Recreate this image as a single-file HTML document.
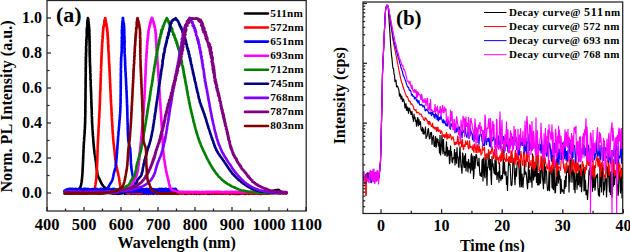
<!DOCTYPE html><html><head><meta charset="utf-8"><style>html,body{margin:0;padding:0;background:#fff;width:630px;height:252px;overflow:hidden}</style></head><body><svg width="630" height="252" viewBox="0 0 630 252" style="position:absolute;left:0;top:0">
<rect width="630" height="252" fill="#fff"/>
<defs><clipPath id="ca"><rect x="47" y="0" width="259" height="211"/></clipPath><clipPath id="cb"><rect x="363" y="2" width="260" height="211"/></clipPath></defs>
<g clip-path="url(#ca)" fill="none" stroke-width="2.4" stroke-linejoin="round">
<path d="M64.00 193.03L64.60 193.75L65.20 193.66L65.80 193.16L66.40 193.40L67.00 193.35L67.60 193.55L68.20 193.69L68.80 192.99L69.40 192.93L70.00 193.74L70.60 193.33L71.20 193.66L71.80 192.90L72.40 193.35L73.00 193.62L73.60 193.13L74.07 191.56L75.04 191.03L76.18 190.77L77.15 190.26L78.02 189.83L78.69 189.49L79.22 189.06L79.47 188.66L79.77 188.27L79.93 187.95L80.21 187.52L80.33 187.17L80.58 186.64L80.64 186.33L80.81 185.97L80.87 185.55L81.00 185.07L81.08 184.76L81.20 184.30L81.24 183.83L81.26 183.54L81.36 183.05L81.44 182.73L81.53 182.28L81.55 181.90L81.66 181.50L81.66 181.10L81.66 180.63L81.82 180.37L81.85 179.88L81.83 179.50L82.00 179.14L81.98 178.75L81.97 178.30L82.12 177.91L82.08 177.47L82.13 177.17L82.09 176.74L82.24 176.36L82.26 175.95L82.26 175.51L82.28 175.03L82.38 174.71L82.31 174.30L82.38 173.88L82.39 173.51L82.46 173.12L82.46 172.63L82.45 172.25L82.53 171.95L82.59 171.54L82.61 171.06L82.64 170.73L82.55 170.23L82.56 169.94L82.62 169.44L82.70 169.08L82.64 168.65L82.73 168.25L82.71 167.93L82.75 167.47L82.78 167.03L82.78 166.69L82.77 166.24L82.90 165.90L82.81 165.52L82.92 165.03L82.82 164.65L82.94 164.25L82.96 163.93L82.95 163.46L83.04 163.15L82.98 162.66L83.02 162.28L83.03 161.87L83.05 161.43L83.02 161.17L83.13 160.67L83.14 160.27L83.17 159.94L83.11 159.46L83.06 159.16L83.09 158.75L83.24 158.31L83.14 157.96L83.28 157.53L83.22 157.08L83.21 156.65L83.28 156.29L83.22 155.84L83.31 155.47L83.30 155.07L83.37 154.76L83.25 154.25L83.31 153.98L83.40 153.48L83.33 153.13L83.44 152.77L83.38 152.36L83.45 151.90L83.51 151.46L83.49 151.04L83.42 150.76L83.44 150.34L83.52 149.95L83.50 149.47L83.51 149.16L83.58 148.77L83.64 148.24L83.61 147.84L83.55 147.43L83.71 147.15L83.72 146.67L83.71 146.34L83.70 145.91L83.70 145.43L83.73 145.16L83.80 144.77L83.81 144.26L83.88 143.95L83.79 143.53L83.82 143.04L83.98 142.63L83.90 142.38L83.96 141.84L83.94 141.46L84.06 141.04L84.12 140.68L84.15 140.37L84.07 139.86L84.13 139.43L84.19 139.02L84.11 138.78L84.18 138.32L84.24 137.87L84.20 137.57L84.38 137.18L84.26 136.65L84.37 136.38L84.39 135.93L84.44 135.46L84.45 135.07L84.42 134.63L84.46 134.38L84.51 133.93L84.57 133.57L84.56 133.07L84.57 132.67L84.68 132.37L84.62 131.87L84.69 131.51L84.72 131.06L84.65 130.66L84.68 130.31L84.70 129.83L84.82 129.46L84.87 129.10L84.91 128.64L84.87 128.35L84.82 127.98L84.86 127.55L85.02 127.16L84.92 126.63L84.98 126.37L84.96 125.97L84.95 125.57L84.95 125.07L85.12 124.75L85.14 124.36L85.13 123.93L85.04 123.49L85.05 123.14L85.16 122.66L85.06 122.38L85.21 121.91L85.17 121.56L85.17 121.08L85.16 120.66L85.11 120.33L85.19 119.91L85.13 119.47L85.15 119.03L85.18 118.76L85.21 118.28L85.26 117.85L85.15 117.51L85.25 117.13L85.25 116.73L85.31 116.25L85.27 115.90L85.22 115.48L85.29 115.18L85.37 114.66L85.32 114.21L85.22 113.90L85.38 113.43L85.36 113.17L85.28 112.74L85.39 112.28L85.36 111.95L85.34 111.57L85.41 111.19L85.35 110.64L85.29 110.24L85.36 109.95L85.26 109.54L85.40 109.07L85.36 108.63L85.41 108.21L85.46 107.96L85.40 107.45L85.46 107.19L85.31 106.76L85.45 106.33L85.43 105.89L85.48 105.60L85.37 105.16L85.39 104.63L85.37 104.22L85.50 104.00L85.34 103.52L85.40 103.02L85.38 102.65L85.49 102.19L85.37 101.89L85.34 101.53L85.47 101.17L85.39 100.65L85.46 100.25L85.48 99.85L85.50 99.56L85.53 99.20L85.48 98.70L85.55 98.36L85.49 97.87L85.43 97.41L85.56 97.01L85.55 96.71L85.60 96.36L85.61 95.82L85.50 95.52L85.46 95.10L85.48 94.71L85.40 94.29L85.51 93.85L85.50 93.57L85.57 93.10L85.56 92.67L85.46 92.18L85.48 91.92L85.63 91.58L85.55 91.22L85.54 90.78L85.53 90.36L85.67 89.85L85.48 89.53L85.57 89.07L85.44 88.67L85.55 88.28L85.66 87.92L85.64 87.60L85.64 87.10L85.65 86.74L85.63 86.33L85.57 85.93L85.63 85.61L85.67 85.19L85.67 84.78L85.63 84.26L85.55 83.95L85.71 83.51L85.53 83.19L85.62 82.69L85.50 82.30L85.69 81.88L85.59 81.54L85.51 81.10L85.76 80.75L85.62 80.35L85.68 79.82L85.57 79.61L85.59 78.98L85.75 78.71L85.63 78.30L85.73 77.81L85.71 77.56L85.76 77.04L85.71 76.62L85.70 76.21L85.77 76.00L85.64 75.42L85.83 75.16L85.80 74.56L85.82 74.34L85.65 73.88L85.79 73.58L85.63 73.14L85.62 72.84L85.71 72.42L85.80 71.93L85.66 71.51L85.63 70.99L85.81 70.66L85.83 70.22L85.82 69.97L85.70 69.38L85.73 69.10L85.65 68.60L85.64 68.33L85.90 67.81L85.64 67.56L85.89 67.25L85.83 66.65L85.91 66.18L85.87 65.77L85.78 65.50L85.78 64.99L85.74 64.80L85.82 64.33L85.74 63.97L85.79 63.53L85.99 63.27L85.70 62.80L85.98 62.24L85.83 61.93L86.02 61.47L86.01 61.19L85.77 60.84L85.73 60.18L85.96 59.75L85.87 59.37L85.90 59.22L86.07 58.54L85.77 58.42L85.77 57.82L85.81 57.35L85.78 57.15L86.05 56.77L86.10 56.36L85.94 55.95L86.16 55.55L85.90 54.94L86.17 54.73L85.96 54.34L86.05 53.91L85.87 53.44L86.01 52.99L86.20 52.67L86.13 52.38L86.17 51.99L86.18 51.40L86.28 50.96L86.27 50.84L86.25 50.12L85.96 50.02L86.12 49.45L86.34 48.92L86.17 48.68L86.02 48.26L86.27 48.06L86.00 47.51L86.04 47.22L86.05 46.51L86.18 46.40L86.17 45.75L86.38 45.63L86.42 45.02L86.25 44.59L86.32 44.23L86.24 44.02L86.52 43.54L86.17 43.17L86.33 42.91L86.46 42.45L86.47 41.92L86.57 41.65L86.32 40.95L86.37 40.71L86.26 40.23L86.49 39.69L86.62 39.57L86.40 39.01L86.44 38.62L86.64 38.30L86.55 37.74L86.75 37.42L86.49 36.90L86.81 36.69L86.80 36.50L86.85 36.05L86.84 35.70L86.80 34.92L86.69 34.74L86.93 34.44L86.81 34.02L86.66 33.72L86.82 33.05L86.75 32.94L86.80 32.13L86.63 31.99L86.86 31.70L86.69 31.05L86.98 30.47L86.68 30.32L86.78 29.70L86.80 29.57L86.96 28.88L86.75 28.88L87.07 28.13L87.22 27.65L86.98 27.68L87.19 26.98L87.32 26.75L87.34 26.51L87.13 26.00L87.23 25.74L87.40 25.22L87.44 24.97L87.17 24.13L87.48 24.05L87.38 23.49L87.36 23.32L87.61 22.75L87.22 22.50L87.50 21.72L87.44 21.61L87.31 20.88L87.52 20.92L87.82 20.57L87.74 19.94L87.78 19.52L87.82 19.29L88.10 18.65L87.95 18.19L87.90 18.00L87.84 18.40L88.06 18.83L88.34 19.00L88.20 19.89L88.31 20.04L88.15 20.34L88.53 21.03L88.43 21.43L88.63 21.80L88.37 21.98L88.65 22.33L88.68 22.79L88.50 23.18L88.42 23.52L88.64 23.73L88.55 24.27L88.97 24.85L88.71 25.47L88.73 25.61L89.04 26.10L88.91 26.55L88.97 26.92L89.01 27.45L89.17 27.38L88.89 28.25L88.97 28.15L89.01 28.79L89.40 29.15L89.30 29.77L88.99 30.06L89.47 30.43L89.25 30.72L89.47 31.44L89.06 31.63L89.24 32.09L89.10 32.28L89.20 32.79L89.47 33.38L89.48 33.69L89.15 33.95L89.44 34.30L89.38 35.00L89.20 35.37L89.21 35.55L89.60 35.86L89.43 36.36L89.61 37.03L89.34 37.20L89.64 37.62L89.33 38.12L89.40 38.39L89.26 39.02L89.56 39.39L89.71 39.49L89.53 39.97L89.63 40.55L89.40 40.70L89.62 41.16L89.38 41.47L89.58 42.04L89.76 42.41L89.61 42.65L89.53 43.10L89.66 43.50L89.46 43.94L89.58 44.33L89.65 44.66L89.77 45.28L89.63 45.41L89.55 46.08L89.69 46.53L89.80 46.72L89.64 47.13L89.50 47.45L89.56 47.83L89.68 48.48L89.69 48.87L89.57 49.08L89.71 49.75L89.66 49.80L89.51 50.32L89.75 50.64L89.60 51.27L89.90 51.54L89.76 52.01L89.55 52.33L89.60 52.70L89.85 53.27L89.58 53.44L89.85 53.85L89.70 54.31L89.61 54.63L89.65 55.16L89.95 55.65L89.71 56.07L89.73 56.41L89.76 56.96L89.78 57.31L89.89 57.72L89.89 58.13L89.82 58.46L89.91 58.81L89.90 59.21L89.85 59.74L89.95 60.02L89.76 60.40L89.81 60.70L89.91 61.22L89.86 61.52L89.97 61.99L89.94 62.27L89.94 62.85L90.01 63.21L90.12 63.67L90.08 63.84L89.97 64.46L89.93 64.94L89.94 65.32L89.97 65.71L90.19 65.95L90.22 66.29L90.22 66.76L90.10 67.08L90.16 67.53L90.20 68.09L90.19 68.25L90.31 68.93L90.23 69.16L90.22 69.72L90.20 70.09L90.25 70.38L90.37 70.77L90.28 71.07L90.26 71.46L90.34 71.85L90.16 72.28L90.20 72.80L90.28 73.13L90.48 73.72L90.40 74.09L90.46 74.33L90.47 74.72L90.41 75.16L90.31 75.68L90.54 75.95L90.54 76.36L90.50 76.94L90.54 77.08L90.46 77.57L90.44 78.09L90.49 78.46L90.56 78.81L90.42 79.25L90.66 79.51L90.61 80.00L90.54 80.46L90.73 80.67L90.72 81.17L90.72 81.51L90.70 81.89L90.62 82.52L90.72 82.87L90.68 83.19L90.70 83.67L90.78 83.92L90.72 84.41L90.77 84.91L90.85 85.11L90.75 85.50L90.68 85.89L90.73 86.47L90.87 86.87L90.79 87.11L90.98 87.68L90.98 87.88L90.86 88.43L90.96 88.90L90.93 89.17L90.81 89.67L91.07 90.10L91.00 90.36L90.92 90.87L91.10 91.31L90.93 91.62L91.03 91.98L91.11 92.50L91.11 92.85L91.12 93.24L91.09 93.54L91.17 93.91L91.15 94.37L91.15 94.83L91.14 95.31L91.10 95.49L91.28 95.96L91.14 96.38L91.23 96.91L91.27 97.16L91.24 97.59L91.25 97.98L91.19 98.38L91.26 98.73L91.36 99.17L91.23 99.61L91.40 100.06L91.36 100.45L91.32 100.72L91.31 101.17L91.33 101.59L91.32 101.92L91.36 102.34L91.49 102.81L91.37 103.19L91.53 103.62L91.48 103.98L91.42 104.43L91.41 104.86L91.42 105.25L91.50 105.64L91.55 105.92L91.55 106.31L91.51 106.78L91.53 107.23L91.68 107.57L91.66 107.94L91.65 108.37L91.63 108.72L91.70 109.14L91.64 109.56L91.72 110.02L91.69 110.45L91.63 110.71L91.76 111.16L91.77 111.69L91.74 111.92L91.80 112.43L91.69 112.74L91.75 113.13L91.84 113.64L91.84 113.98L91.87 114.33L91.85 114.75L91.72 115.13L91.77 115.65L91.82 116.00L91.88 116.36L91.90 116.83L91.97 117.20L91.97 117.69L91.97 117.99L91.89 118.33L92.01 118.73L91.98 119.19L91.90 119.55L92.06 120.01L92.10 120.47L91.96 120.83L91.97 121.19L92.06 121.68L92.11 121.94L92.11 122.40L92.08 122.77L92.22 123.29L92.22 123.52L92.26 123.99L92.27 124.34L92.17 124.87L92.22 125.12L92.28 125.69L92.36 125.98L92.41 126.45L92.41 126.83L92.35 127.27L92.39 127.68L92.43 128.07L92.44 128.39L92.48 128.77L92.43 129.22L92.58 129.56L92.60 130.05L92.61 130.39L92.68 130.85L92.63 131.13L92.66 131.52L92.74 131.97L92.68 132.41L92.75 132.81L92.75 133.22L92.84 133.59L92.81 134.05L92.76 134.34L92.84 134.75L92.96 135.14L92.86 135.57L92.96 136.05L93.07 136.46L93.04 136.72L92.98 137.22L93.13 137.56L93.19 138.01L93.16 138.42L93.11 138.75L93.28 139.16L93.18 139.56L93.31 139.96L93.26 140.36L93.34 140.84L93.35 141.26L93.49 141.65L93.38 141.97L93.55 142.46L93.46 142.79L93.53 143.24L93.51 143.57L93.66 144.06L93.59 144.41L93.72 144.86L93.72 145.28L93.72 145.54L93.75 146.01L93.79 146.36L93.84 146.73L94.00 147.17L94.03 147.64L93.96 148.07L93.96 148.48L94.01 148.76L94.13 149.12L94.20 149.53L94.25 149.93L94.25 150.35L94.25 150.80L94.31 151.18L94.40 151.55L94.38 152.03L94.45 152.47L94.52 152.80L94.51 153.13L94.58 153.62L94.73 154.07L94.75 154.43L94.79 154.73L94.87 155.23L94.99 155.67L95.05 156.01L95.07 156.40L95.12 156.83L95.19 157.25L95.24 157.60L95.35 158.03L95.37 158.41L95.47 158.82L95.45 159.17L95.56 159.53L95.59 160.06L95.62 160.39L95.74 160.87L95.79 161.22L95.80 161.59L95.89 161.98L95.96 162.33L96.00 162.84L95.98 163.13L96.04 163.61L96.15 164.06L96.11 164.34L96.14 164.87L96.27 165.14L96.32 165.67L96.36 165.96L96.46 166.43L96.39 166.84L96.49 167.21L96.52 167.57L96.58 168.00L96.63 168.46L96.63 168.75L96.81 169.22L96.82 169.62L96.82 169.98L96.88 170.35L97.06 170.84L97.11 171.12L97.15 171.57L97.19 172.03L97.19 172.38L97.34 172.86L97.41 173.17L97.51 173.61L97.54 174.01L97.63 174.33L97.72 174.74L97.85 175.20L98.02 175.64L98.13 176.07L98.21 176.38L98.36 176.74L98.58 177.20L98.70 177.66L99.01 177.94L99.06 178.33L99.36 178.85L99.45 179.13L99.72 179.57L99.83 179.93L100.04 180.35L100.23 180.81L100.41 181.16L100.59 181.66L100.78 182.01L101.00 182.37L101.19 182.73L101.36 183.22L101.67 183.56L101.81 184.06L102.04 184.44L102.42 184.75L102.69 185.15L102.88 185.57L103.25 186.01L103.62 186.44L104.04 186.74L104.39 187.24L104.82 187.67L105.40 187.96L105.83 188.36L106.42 188.76L107.00 189.16L107.75 189.58L108.57 190.06L109.45 190.42L110.38 190.78L111.26 191.16L112.60 193.73L113.20 193.78L113.80 193.81L114.40 193.50L115.00 193.01L115.60 192.97L116.20 193.70L116.80 193.79L117.40 193.43L118.00 193.82L118.60 193.83L119.20 193.65L119.80 193.27L120.40 193.36L121.00 193.25L121.60 193.30L122.20 193.37L122.80 192.92L123.40 193.03L124.00 193.07L124.60 193.47L125.20 193.77L125.80 193.61L126.40 193.05L127.00 193.36L127.60 193.53L128.20 193.04L128.80 192.98L129.40 193.51L130.00 193.14L130.60 193.55L131.20 193.07L131.80 193.76L132.40 193.21L133.00 193.33L133.60 193.45L134.20 193.79L134.80 193.82L135.40 193.74L136.00 193.58L136.60 192.97L137.20 193.09L137.80 193.43L138.40 193.89L139.00 193.63L139.60 193.09L140.20 193.26L140.80 193.86L141.40 193.41L142.00 193.77L142.60 193.76L143.20 193.68L143.80 193.53L144.40 193.57L145.00 193.24L145.60 193.02L146.20 193.85L146.80 192.93L147.40 193.17L148.00 193.51L148.60 193.86L149.20 193.11L149.80 193.15L150.40 193.75L151.00 193.23L151.60 193.30L152.20 193.26L152.80 192.95L153.40 193.84L154.00 193.60L154.60 192.91L155.20 193.00L155.80 193.04L156.40 193.27L157.00 193.79L157.60 193.04L158.20 193.13L158.80 193.21L159.40 193.41L160.00 193.80L160.60 193.44L161.20 193.80L161.80 193.44L162.40 193.33L163.00 193.77L163.60 193.48L164.20 193.37L164.80 193.41L165.40 193.26L166.00 193.33L166.60 192.97L167.20 193.11L167.80 193.66L168.40 193.03L169.00 193.11L169.60 193.06L170.20 193.26L170.80 192.95L171.40 193.26L172.00 193.51L172.60 193.58L173.20 193.77L173.80 192.99L174.40 193.54L175.00 193.10L175.60 193.24L176.20 193.48L176.80 193.74L177.40 193.57L178.00 193.89L178.60 192.92L179.20 193.22L179.80 193.38L180.40 192.94L181.00 192.95L181.60 193.27L182.20 193.46L182.80 193.04L183.40 192.97L184.00 193.22L184.60 193.64L185.20 193.47L185.80 193.90L186.40 193.51L187.00 193.79L187.60 193.47L188.20 193.38L188.80 193.32L189.40 192.97L190.00 192.96L190.60 193.56L191.20 193.76L191.80 192.92L192.40 193.08L193.00 193.23L193.60 193.21L194.20 193.73L194.80 193.15L195.40 193.21L196.00 193.39L196.60 193.85L197.20 193.19L197.80 193.53L198.40 192.95L199.00 193.33L199.60 193.83L200.20 193.12L200.80 193.26L201.40 193.55L202.00 193.47L202.60 193.48L203.20 193.51L203.80 193.58L204.40 193.22L205.00 193.25L205.60 193.30L206.20 193.42L206.80 193.47L207.40 193.77L208.00 193.30L208.60 193.35L209.20 193.73L209.80 193.87L210.40 193.14L211.00 193.63L211.60 193.15L212.20 193.64L212.80 192.94L213.40 193.41L214.00 193.47L214.60 193.60L215.20 193.82L215.80 193.70L216.40 193.46L217.00 193.40L217.60 192.91L218.20 193.45L218.80 193.46L219.40 193.64L220.00 193.07L220.60 193.49L221.20 192.95L221.80 193.63L222.40 193.72L223.00 193.34L223.60 193.59L224.20 193.56L224.80 193.20L225.40 192.99L226.00 193.66L226.60 193.26L227.20 193.06L227.80 193.34L228.40 193.73L229.00 193.85L229.60 193.47L230.20 193.87L230.80 193.07L231.40 193.39L232.00 192.91L232.60 193.13L233.20 193.78L233.80 192.96L234.40 193.55L235.00 193.41L235.60 193.89L236.20 193.89L236.80 193.02L237.40 193.16L238.00 193.89L238.60 193.23L239.20 193.08L239.80 193.81L240.40 193.52L241.00 193.21L241.60 193.45L242.20 193.33L242.80 193.36L243.40 193.45L244.00 193.07L244.60 193.52L245.20 193.86L245.80 193.49L246.40 193.69L247.00 193.18L247.60 193.05L248.20 192.91L248.80 193.88L249.40 193.02L250.00 193.28L250.60 193.55L251.20 193.63L251.80 193.52L252.40 193.34L253.00 193.71L253.60 193.34L254.20 193.74L254.80 192.95L255.40 193.62L256.00 193.00L256.60 193.29L257.20 193.34L257.80 193.08L258.40 193.35L259.00 193.75L259.60 192.94L260.20 193.09L260.80 193.88L261.40 193.35L262.00 193.29L262.60 193.81L263.20 193.67L263.80 193.07L264.40 193.49L265.00 193.07L265.60 193.66L266.20 193.42L266.80 193.64L267.40 192.88L268.00 193.69L268.60 192.92L269.20 193.44L269.80 192.90L270.40 193.18L271.00 192.17L271.60 191.86L272.20 191.98L272.80 192.10L273.40 191.28L274.00 190.97L274.60 190.28L275.20 190.37L275.80 190.02L276.40 190.34L277.00 190.14L277.60 189.93L278.20 189.74L278.80 189.97L279.40 191.09L280.00 191.07L280.60 191.04L281.20 191.98L281.80 191.72L282.40 192.26L283.00 192.95L283.60 192.39L284.20 192.56L284.80 192.65L285.40 192.84L286.00 193.14L286.60 193.13L287.20 193.13" stroke="#000000" stroke-width="2.6"/>
<path d="M64.00 192.71L64.60 193.09L65.20 193.06L65.80 193.29L66.40 192.94L67.00 193.16L67.60 192.95L68.20 193.30L68.80 192.84L69.40 193.09L70.00 193.06L70.60 193.07L71.20 193.13L71.80 193.13L72.40 192.95L73.00 193.36L73.60 193.46L74.20 193.15L74.80 193.21L75.40 193.28L76.00 192.96L76.60 193.17L77.20 193.07L77.80 193.09L78.40 193.02L79.00 193.13L79.60 192.87L80.20 192.89L80.80 192.86L81.40 193.18L82.00 192.90L82.60 193.32L83.20 193.42L83.80 193.31L84.40 192.96L85.00 193.45L85.60 192.98L86.20 192.99L86.80 193.18L87.40 193.23L88.00 193.03L88.60 193.33L89.20 193.38L89.80 192.93L90.40 192.88L91.00 193.02L91.60 193.26L92.03 191.45L92.84 191.16L93.73 190.72L94.31 190.35L94.49 189.83L94.68 189.48L94.79 189.07L94.83 188.75L94.85 188.29L94.91 187.91L95.05 187.57L95.09 187.05L95.09 186.71L95.18 186.33L95.29 185.97L95.24 185.45L95.42 185.05L95.49 184.64L95.50 184.24L95.50 183.88L95.66 183.53L95.66 183.05L95.73 182.65L95.77 182.30L95.87 181.96L95.87 181.50L95.99 181.05L96.01 180.65L96.13 180.28L96.04 179.90L96.15 179.56L96.21 179.06L96.28 178.63L96.28 178.23L96.33 177.85L96.36 177.55L96.39 177.04L96.37 176.64L96.45 176.37L96.45 175.92L96.50 175.45L96.49 175.08L96.57 174.69L96.54 174.31L96.55 173.83L96.58 173.43L96.67 173.09L96.69 172.71L96.63 172.35L96.77 171.83L96.74 171.54L96.76 171.15L96.82 170.72L96.88 170.34L96.85 169.83L96.86 169.53L96.89 169.11L96.88 168.75L96.89 168.32L96.94 167.85L96.90 167.44L96.96 167.10L96.94 166.63L97.07 166.37L97.04 165.90L97.08 165.44L97.09 165.13L97.17 164.72L97.13 164.29L97.20 163.90L97.15 163.54L97.17 163.03L97.21 162.76L97.19 162.24L97.16 161.96L97.18 161.52L97.19 161.10L97.34 160.66L97.26 160.32L97.32 159.91L97.30 159.43L97.35 159.07L97.37 158.69L97.32 158.38L97.34 157.97L97.38 157.51L97.36 157.05L97.44 156.69L97.43 156.25L97.43 155.92L97.48 155.53L97.44 155.13L97.48 154.70L97.49 154.27L97.42 153.85L97.57 153.56L97.56 153.06L97.57 152.75L97.53 152.27L97.48 151.98L97.63 151.55L97.55 151.14L97.64 150.71L97.53 150.37L97.61 149.94L97.64 149.43L97.63 149.02L97.61 148.77L97.69 148.31L97.62 147.93L97.71 147.52L97.74 147.17L97.72 146.72L97.75 146.31L97.79 145.85L97.70 145.44L97.72 145.11L97.78 144.75L97.77 144.24L97.90 143.83L97.84 143.53L97.89 143.06L97.84 142.71L97.87 142.36L97.89 141.97L97.87 141.52L97.93 141.10L97.98 140.75L97.96 140.34L97.95 139.92L98.10 139.49L98.12 139.08L98.06 138.77L98.18 138.35L98.08 137.97L98.12 137.56L98.13 137.05L98.14 136.73L98.28 136.30L98.16 135.93L98.31 135.55L98.18 135.07L98.33 134.73L98.39 134.37L98.38 133.93L98.33 133.42L98.41 133.09L98.45 132.64L98.47 132.32L98.50 131.93L98.44 131.50L98.41 131.06L98.51 130.65L98.49 130.32L98.55 129.97L98.55 129.51L98.57 129.14L98.62 128.78L98.56 128.24L98.61 127.92L98.69 127.45L98.65 127.12L98.67 126.76L98.66 126.35L98.69 125.94L98.83 125.58L98.87 125.02L98.85 124.77L98.89 124.29L98.91 123.86L98.94 123.48L98.99 123.02L98.94 122.63L99.00 122.38L98.97 121.96L98.94 121.41L99.07 121.08L98.96 120.73L99.13 120.22L99.10 119.87L99.02 119.42L99.04 119.06L99.11 118.71L99.19 118.36L99.25 117.84L99.23 117.57L99.18 117.12L99.34 116.73L99.31 116.26L99.38 115.96L99.28 115.46L99.24 115.10L99.42 114.75L99.30 114.25L99.33 113.85L99.35 113.44L99.44 113.18L99.52 112.72L99.43 112.38L99.43 111.81L99.45 111.56L99.57 111.06L99.49 110.73L99.57 110.36L99.57 109.82L99.52 109.45L99.63 109.14L99.65 108.60L99.75 108.29L99.68 107.84L99.64 107.44L99.73 107.18L99.68 106.67L99.70 106.20L99.66 105.96L99.88 105.41L99.71 105.09L99.77 104.65L99.91 104.24L99.78 103.99L99.89 103.54L99.91 103.00L99.99 102.60L99.85 102.29L100.00 102.00L99.83 101.42L99.85 101.02L100.06 100.61L99.99 100.23L99.89 99.85L99.96 99.51L100.11 99.11L100.05 98.65L99.99 98.30L100.05 97.99L100.02 97.39L100.00 97.06L100.05 96.68L100.21 96.35L100.16 95.98L100.24 95.40L100.21 95.02L100.16 94.67L100.14 94.19L100.14 93.95L100.33 93.60L100.12 93.12L100.18 92.70L100.27 92.22L100.18 91.90L100.18 91.58L100.40 90.98L100.39 90.78L100.22 90.32L100.34 89.82L100.43 89.52L100.44 89.21L100.49 88.74L100.48 88.19L100.37 87.89L100.42 87.47L100.51 87.12L100.53 86.69L100.57 86.26L100.59 85.92L100.45 85.53L100.39 85.15L100.53 84.78L100.41 84.28L100.55 83.79L100.61 83.60L100.59 83.17L100.69 82.69L100.59 82.40L100.64 81.84L100.63 81.57L100.71 81.00L100.54 80.75L100.70 80.36L100.66 79.87L100.80 79.43L100.63 78.97L100.58 78.73L100.76 78.22L100.79 77.81L100.70 77.54L100.83 77.09L100.85 76.69L100.82 76.39L100.81 75.92L100.93 75.37L100.68 74.97L100.78 74.71L100.88 74.35L100.72 74.01L100.79 73.64L100.84 73.20L100.96 72.56L100.92 72.27L101.07 71.82L100.91 71.40L100.81 71.11L101.01 70.60L101.09 70.22L101.13 69.95L101.16 69.48L101.13 69.13L101.11 68.67L101.06 68.23L101.02 68.03L100.95 67.60L101.18 66.99L101.10 66.81L101.14 66.30L101.15 65.79L101.32 65.58L101.11 65.05L101.27 64.82L101.23 64.23L101.18 63.91L101.38 63.57L101.17 62.94L101.33 62.62L101.43 62.19L101.48 62.00L101.25 61.33L101.46 60.97L101.25 60.66L101.27 60.16L101.42 59.95L101.52 59.35L101.28 59.09L101.54 58.60L101.51 58.16L101.64 58.03L101.67 57.46L101.38 57.21L101.53 56.65L101.54 56.38L101.67 55.88L101.52 55.37L101.46 55.27L101.81 54.54L101.69 54.48L101.70 54.08L101.56 53.58L101.84 52.95L101.62 52.87L101.65 52.34L101.93 51.98L101.89 51.42L101.94 50.96L101.79 50.70L101.92 50.12L101.69 49.85L101.75 49.66L101.88 49.14L101.89 48.84L102.11 48.46L101.79 47.95L102.10 47.67L102.03 47.09L101.89 46.50L101.85 46.21L102.16 45.86L102.11 45.40L102.31 45.28L102.03 44.65L101.99 44.26L102.07 44.00L102.12 43.58L102.02 43.19L102.31 42.61L102.39 42.46L102.47 41.99L102.29 41.54L102.46 41.02L102.54 40.83L102.48 40.42L102.22 40.04L102.42 39.58L102.54 39.07L102.61 38.86L102.76 38.08L102.75 38.03L102.63 37.62L102.54 37.06L102.43 36.90L102.82 36.31L102.75 36.05L102.57 35.53L102.87 35.14L103.02 34.58L102.91 34.44L102.80 34.11L102.85 33.33L102.76 33.05L103.20 32.91L103.19 32.38L103.03 31.97L103.12 31.73L103.04 31.05L103.25 30.85L103.29 30.13L103.28 29.78L103.13 29.37L103.04 28.90L103.43 28.85L103.18 28.53L103.42 28.05L103.25 27.28L103.71 26.88L103.36 26.78L103.42 26.25L103.90 25.69L103.98 25.72L104.12 25.16L104.10 24.51L104.03 24.51L104.27 23.72L104.32 23.44L104.22 23.27L104.38 22.60L104.56 22.54L104.61 21.64L104.23 21.54L104.36 20.86L104.88 20.44L104.62 20.19L105.08 20.16L105.07 19.48L104.76 19.37L104.90 18.78L105.31 18.31L105.20 18.00L105.51 18.66L105.28 18.92L105.20 19.16L105.62 19.47L105.52 20.15L105.51 20.65L105.55 20.64L105.90 21.04L106.10 21.52L105.77 22.10L106.02 22.47L105.92 22.55L106.09 23.21L106.11 23.44L106.54 23.86L106.34 24.61L106.77 24.95L106.36 25.34L106.40 25.76L106.57 25.85L106.71 26.21L106.90 26.97L106.96 27.36L106.74 27.48L107.15 27.91L107.16 28.44L106.89 28.65L107.34 29.41L107.21 29.35L106.95 30.22L107.39 30.50L107.15 31.01L107.09 31.30L107.44 31.53L107.54 31.84L107.65 32.62L107.37 32.72L107.63 33.12L107.56 33.69L107.76 34.12L107.47 34.33L107.40 34.95L107.80 35.07L107.66 35.53L107.60 35.78L107.77 36.61L107.60 36.92L107.91 37.22L107.97 37.56L107.89 37.80L107.70 38.44L108.05 38.79L108.11 39.20L107.90 39.73L108.16 40.18L108.06 40.27L107.93 40.83L107.83 41.11L108.19 41.49L108.15 41.91L107.95 42.33L108.05 42.70L108.07 43.38L108.21 43.60L108.10 43.91L108.35 44.33L108.09 44.75L108.33 45.39L108.42 45.60L108.17 46.16L108.13 46.43L108.54 46.72L108.37 47.12L108.35 47.44L108.45 48.08L108.27 48.20L108.34 48.74L108.44 49.28L108.49 49.41L108.31 49.98L108.39 50.52L108.64 50.92L108.61 51.09L108.69 51.52L108.47 51.82L108.58 52.57L108.71 52.86L108.61 53.18L108.83 53.79L108.63 54.03L108.71 54.29L108.74 54.65L108.86 55.16L108.83 55.70L108.70 56.16L108.99 56.39L108.68 56.85L108.92 57.10L108.97 57.52L108.81 57.85L108.96 58.49L109.00 58.73L108.89 59.04L108.87 59.51L108.90 59.84L108.99 60.23L109.04 60.63L109.02 61.06L108.97 61.67L108.96 62.10L109.19 62.45L109.16 62.87L109.08 63.17L109.03 63.44L109.18 64.04L109.39 64.51L109.11 64.94L109.24 65.17L109.18 65.47L109.30 66.01L109.45 66.45L109.26 66.83L109.48 67.12L109.33 67.52L109.56 67.89L109.48 68.36L109.52 68.80L109.39 69.31L109.50 69.45L109.43 69.90L109.48 70.30L109.60 70.83L109.54 71.13L109.63 71.56L109.69 72.11L109.69 72.53L109.59 72.90L109.64 73.31L109.72 73.54L109.64 74.10L109.72 74.30L109.77 74.70L109.63 75.13L109.86 75.52L109.90 75.87L109.77 76.26L109.89 76.83L109.93 77.29L109.99 77.58L109.86 78.03L109.91 78.32L109.91 78.77L110.05 79.09L110.03 79.66L110.10 80.02L110.06 80.30L110.12 80.68L110.07 81.10L109.99 81.65L110.05 82.05L110.02 82.29L110.07 82.80L110.21 83.30L110.12 83.72L110.19 83.92L110.19 84.45L110.27 84.70L110.35 85.21L110.12 85.55L110.35 85.89L110.23 86.44L110.21 86.85L110.34 87.14L110.41 87.49L110.28 88.07L110.40 88.33L110.37 88.89L110.33 89.09L110.43 89.53L110.49 89.94L110.39 90.43L110.60 90.81L110.62 91.32L110.59 91.62L110.51 91.90L110.57 92.32L110.60 92.78L110.62 93.22L110.64 93.70L110.65 93.91L110.75 94.46L110.65 94.79L110.71 95.18L110.76 95.71L110.64 96.09L110.87 96.48L110.77 96.84L110.79 97.17L110.74 97.53L110.83 97.95L110.79 98.42L110.83 98.87L110.81 99.14L110.90 99.54L111.01 100.00L110.86 100.34L111.02 100.76L110.96 101.14L110.92 101.66L111.00 101.95L110.98 102.40L111.13 102.89L111.19 103.10L111.12 103.60L111.16 103.98L111.26 104.42L111.18 104.90L111.21 105.10L111.26 105.70L111.29 105.94L111.34 106.31L111.37 106.73L111.39 107.13L111.27 107.55L111.36 108.04L111.38 108.31L111.49 108.87L111.40 109.11L111.43 109.69L111.55 109.93L111.43 110.49L111.47 110.84L111.61 111.26L111.61 111.62L111.63 111.95L111.67 112.34L111.54 112.85L111.73 113.25L111.68 113.52L111.68 113.94L111.70 114.38L111.65 114.81L111.79 115.24L111.69 115.68L111.86 115.97L111.89 116.34L111.80 116.86L111.76 117.18L111.77 117.55L111.86 118.06L111.93 118.33L111.98 118.85L111.91 119.14L112.01 119.68L111.94 119.97L111.98 120.49L111.95 120.71L112.00 121.19L112.16 121.52L112.15 122.00L112.19 122.48L112.18 122.76L112.24 123.11L112.28 123.58L112.17 124.07L112.24 124.38L112.22 124.79L112.24 125.20L112.29 125.56L112.24 125.94L112.40 126.44L112.45 126.74L112.47 127.27L112.40 127.68L112.53 128.06L112.48 128.46L112.44 128.74L112.46 129.23L112.63 129.55L112.51 130.07L112.67 130.34L112.55 130.76L112.61 131.12L112.62 131.66L112.63 131.99L112.77 132.44L112.73 132.74L112.78 133.18L112.81 133.57L112.84 134.08L112.79 134.35L112.96 134.80L112.98 135.13L113.04 135.52L113.04 135.96L113.05 136.45L113.09 136.88L113.03 137.26L113.13 137.55L113.09 137.93L113.24 138.37L113.18 138.74L113.28 139.21L113.22 139.65L113.31 140.05L113.37 140.39L113.35 140.86L113.36 141.14L113.50 141.63L113.55 142.02L113.61 142.39L113.50 142.83L113.57 143.18L113.64 143.57L113.71 144.02L113.68 144.46L113.77 144.84L113.82 145.14L113.87 145.56L113.91 146.03L114.02 146.35L114.07 146.82L114.03 147.21L114.06 147.63L114.14 148.01L114.29 148.43L114.28 148.81L114.27 149.20L114.29 149.60L114.47 150.00L114.48 150.46L114.49 150.74L114.60 151.20L114.55 151.53L114.63 152.05L114.64 152.35L114.70 152.75L114.68 153.16L114.75 153.62L114.79 153.95L114.77 154.36L114.85 154.87L114.91 155.26L114.86 155.53L114.97 155.96L114.98 156.44L114.98 156.86L115.07 157.21L115.05 157.53L115.19 157.93L115.23 158.37L115.22 158.87L115.36 159.17L115.33 159.57L115.34 160.07L115.48 160.43L115.50 160.76L115.59 161.16L115.69 161.67L115.76 161.96L115.72 162.46L115.82 162.81L115.92 163.16L115.96 163.54L115.96 164.07L116.14 164.42L116.14 164.77L116.33 165.27L116.37 165.66L116.41 166.05L116.54 166.36L116.65 166.73L116.64 167.20L116.83 167.58L116.79 168.03L116.96 168.34L117.05 168.78L117.10 169.27L117.25 169.67L117.32 169.98L117.36 170.35L117.40 170.80L117.51 171.21L117.61 171.60L117.80 171.99L117.90 172.37L117.87 172.83L118.00 173.23L118.11 173.59L118.17 173.96L118.35 174.36L118.36 174.86L118.50 175.27L118.56 175.57L118.68 175.93L118.77 176.39L118.82 176.86L118.88 177.25L119.00 177.60L119.09 177.96L119.06 178.43L119.23 178.79L119.19 179.19L119.29 179.54L119.35 180.02L119.45 180.44L119.49 180.82L119.55 181.17L119.59 181.64L119.66 182.03L119.77 182.41L119.81 182.83L119.78 183.24L119.89 183.65L119.88 183.93L120.02 184.37L120.13 184.77L120.12 185.18L120.20 185.56L120.34 185.97L120.42 186.47L120.43 186.85L120.61 187.13L120.74 187.58L120.78 188.05L120.91 188.33L121.22 188.73L121.41 189.21L121.65 189.65L122.05 189.93L122.65 190.45L123.67 190.74L124.99 191.13L126.60 193.01L127.20 193.10L127.80 192.87L128.40 193.17L129.00 193.36L129.60 193.08L130.20 193.13L130.80 192.85L131.40 192.71L132.00 193.08L132.60 192.90L133.20 193.21L133.80 192.78L134.40 193.06L135.00 193.11L135.60 193.33L136.20 192.74L136.80 193.41L137.40 192.82L138.00 193.43L138.60 193.35L139.20 193.41L139.80 193.44L140.40 192.77L141.00 192.99L141.60 193.17L142.20 192.96L142.80 193.23L143.40 193.40L144.00 192.86L144.60 192.95L145.20 193.40L145.80 192.96L146.40 192.77L147.00 193.30L147.60 192.93L148.20 193.17L148.80 192.75L149.40 193.15L150.00 193.35L150.60 193.06L151.20 192.99L151.80 193.32L152.40 193.12L153.00 193.08L153.60 192.84L154.20 193.24L154.80 193.36L155.40 192.70L156.00 192.95L156.60 193.22L157.20 192.82L157.80 193.39L158.40 192.81L159.00 192.90L159.60 193.07L160.20 192.81L160.80 193.42L161.40 193.11L162.00 193.01L162.60 193.19L163.20 193.30L163.80 193.14L164.40 193.22L165.00 193.25L165.60 193.05L166.20 192.92L166.80 192.80L167.40 193.23L168.00 193.00L168.60 193.46L169.20 192.92L169.80 193.33L170.40 193.05L171.00 192.82L171.60 193.01L172.20 193.20L172.80 193.24L173.40 192.98L174.00 192.88L174.60 192.82L175.20 193.17L175.80 193.24L176.40 193.42L177.00 193.09L177.60 192.96L178.20 193.34L178.80 193.21L179.40 193.28L180.00 192.75L180.60 193.36L181.20 193.01L181.80 193.24L182.40 192.76L183.00 192.70L183.60 192.72L184.20 192.76L184.80 192.77L185.40 193.39L186.00 193.14L186.60 192.75L187.20 193.50L187.80 193.04L188.40 193.25L189.00 193.23L189.60 192.98L190.20 193.36L190.80 193.47L191.40 193.03L192.00 192.98L192.60 193.04L193.20 193.37L193.80 193.10L194.40 192.78L195.00 192.71L195.60 193.23L196.20 192.82L196.80 193.31L197.40 193.18L198.00 192.87L198.60 192.75L199.20 193.24L199.80 192.83L200.40 193.48L201.00 193.11L201.60 192.96L202.20 193.34L202.80 193.19L203.40 193.23L204.00 193.33L204.60 193.06L205.20 192.74L205.80 192.83L206.40 193.49L207.00 193.20L207.60 192.72L208.20 192.82L208.80 192.79L209.40 192.91L210.00 193.22L210.60 193.44L211.20 193.16L211.80 193.10L212.40 193.44L213.00 192.80L213.60 193.42L214.20 193.21L214.80 192.89L215.40 193.31L216.00 192.84L216.60 193.17L217.20 193.07L217.80 192.79L218.40 193.45L219.00 192.86L219.60 192.99L220.20 193.21L220.80 192.92L221.40 192.78L222.00 192.94L222.60 193.00L223.20 193.35L223.80 193.14L224.40 193.44L225.00 192.81L225.60 193.36L226.20 193.49L226.80 193.49L227.40 192.94L228.00 192.78L228.60 193.31L229.20 193.05L229.80 193.21L230.40 192.78L231.00 193.47L231.60 193.02L232.20 193.47L232.80 192.71L233.40 192.94L234.00 193.08L234.60 193.00L235.20 192.87L235.80 193.48L236.40 193.14L237.00 193.45L237.60 193.12L238.20 193.33L238.80 193.21L239.40 192.81L240.00 193.26L240.60 193.30L241.20 193.27L241.80 193.09L242.40 192.74L243.00 193.36L243.60 193.47L244.20 192.75L244.80 192.73L245.40 193.05L246.00 193.29L246.60 193.06L247.20 193.35L247.80 193.40L248.40 193.18L249.00 193.19L249.60 193.22L250.20 193.00L250.80 192.86L251.40 193.43L252.00 192.91L252.60 193.36L253.20 193.11L253.80 193.29L254.40 193.33L255.00 193.41L255.60 193.37L256.20 192.96L256.80 193.37L257.40 193.40L258.00 193.21L258.60 192.86L259.20 193.49L259.80 193.34L260.40 193.01L261.00 192.94L261.60 193.35L262.20 193.23L262.80 193.00L263.40 193.43L264.00 193.49L264.60 193.24L265.20 193.37L265.80 193.18L266.40 192.94L267.00 193.34L267.60 193.26L268.20 193.40L268.80 192.98L269.40 193.45L270.00 193.26L270.60 193.30L271.20 193.37L271.80 193.06L272.40 193.37L273.00 193.41L273.60 193.48L274.20 193.18L274.80 192.75L275.40 192.89L276.00 192.86L276.60 192.81L277.20 193.00L277.80 193.17L278.40 193.49L279.00 192.77L279.60 193.47L280.20 193.14L280.80 193.34L281.40 193.36L282.00 192.98L282.60 193.26L283.20 193.30L283.80 192.96L284.40 193.44L285.00 193.41L285.60 192.71L286.20 193.38L286.80 193.01L287.40 193.47" stroke="#ff0000" stroke-width="2.6"/>
<path d="M64.50 189.63L64.80 192.77L65.10 191.45L65.40 190.51L65.70 191.37L66.00 192.74L66.30 191.11L66.60 191.22L66.90 192.94L67.20 192.76L67.50 190.28L67.80 191.45L68.10 191.00L68.40 190.17L68.70 190.21L69.00 189.85L69.30 190.07L69.60 191.09L69.90 190.41L70.20 192.30L70.50 189.77L70.80 190.36L71.10 193.25L71.40 191.68L71.70 190.14L72.00 192.68L72.30 189.47L72.60 190.62L72.90 189.95L73.20 191.05L73.50 191.27L73.80 193.06L74.10 191.38L74.40 193.00L74.70 193.23L75.00 189.58L75.30 189.82L75.60 192.64L75.90 190.58L76.20 191.25L76.50 192.02L76.80 191.11L77.10 192.87L77.40 189.51L77.70 190.45L78.00 189.65L78.30 190.44L78.60 193.34L78.90 189.51L79.20 191.58L79.50 190.27L79.80 192.36L80.10 190.06L80.40 192.38L80.70 191.48L81.00 193.25L81.30 189.72L81.60 191.49L81.90 193.04L82.20 191.48L82.50 191.10L82.80 193.09L83.10 192.72L83.40 192.53L83.70 191.02L84.00 190.71L84.30 190.53L84.60 193.29L84.90 189.71L85.20 189.94L85.50 191.93L85.80 192.93L86.10 193.32L86.40 191.84L86.70 192.84L87.00 190.85L87.30 191.46L87.60 192.48L87.90 190.10L88.20 192.21L88.50 191.10L88.80 189.58L89.10 190.82L89.40 192.36L89.70 192.60L90.00 192.14L90.30 192.29L90.60 190.88L90.90 190.64L91.20 190.99L91.50 191.15L91.80 190.70L92.10 192.94L92.40 192.20L92.70 190.01L93.00 189.93L93.30 191.31L93.60 191.95L93.90 192.18L94.20 191.11L94.50 191.71L94.80 191.82L95.10 190.58L95.40 192.62L95.70 190.78L96.00 189.93L96.30 189.98L96.60 191.99L96.90 191.30L97.20 192.78L97.50 192.91L97.80 190.33L98.10 192.52L98.40 192.13L98.70 191.65L99.00 193.38L99.30 190.08L99.60 191.08L99.90 191.04L100.20 190.48L100.50 191.87L100.80 192.82L101.10 191.32L101.40 189.72L101.70 190.45L102.00 192.28L101.99 189.93L103.35 189.60L104.70 189.16L105.89 188.74L106.93 188.37L107.50 188.00L107.90 187.66L108.19 187.20L108.48 186.73L108.81 186.38L109.03 186.00L109.12 185.54L109.30 185.21L109.55 184.77L109.74 184.39L110.05 184.06L110.30 183.64L110.46 183.18L110.84 182.76L111.11 182.34L111.39 181.96L111.57 181.67L111.78 181.26L112.03 180.77L112.20 180.33L112.38 179.99L112.50 179.53L112.69 179.25L112.76 178.75L112.78 178.40L112.87 177.97L112.95 177.64L113.10 177.16L113.21 176.82L113.26 176.43L113.29 176.00L113.36 175.54L113.52 175.18L113.48 174.74L113.62 174.43L113.73 173.97L113.89 173.54L113.90 173.26L114.03 172.79L114.07 172.41L114.27 172.05L114.29 171.61L114.50 171.26L114.49 170.75L114.72 170.38L114.75 170.04L114.82 169.55L114.97 169.22L115.12 168.74L115.17 168.34L115.26 168.02L115.32 167.58L115.40 167.25L115.55 166.79L115.61 166.39L115.64 166.02L115.73 165.59L115.77 165.25L115.80 164.82L115.83 164.47L115.86 164.04L115.93 163.62L115.96 163.17L116.01 162.79L116.14 162.33L116.18 161.99L116.27 161.58L116.18 161.16L116.36 160.80L116.32 160.37L116.35 159.94L116.43 159.54L116.40 159.15L116.45 158.86L116.48 158.33L116.63 158.00L116.67 157.64L116.63 157.19L116.59 156.79L116.66 156.38L116.79 156.02L116.83 155.64L116.85 155.14L116.83 154.85L116.90 154.45L116.88 153.94L116.92 153.61L116.99 153.18L117.04 152.86L117.05 152.44L117.12 151.94L117.05 151.59L117.09 151.23L117.13 150.78L117.09 150.33L117.20 149.97L117.19 149.52L117.20 149.15L117.29 148.76L117.32 148.44L117.28 148.02L117.42 147.66L117.49 147.15L117.36 146.82L117.47 146.46L117.51 146.05L117.44 145.60L117.50 145.15L117.50 144.87L117.58 144.45L117.67 144.05L117.62 143.64L117.67 143.27L117.74 142.86L117.81 142.38L117.74 141.92L117.84 141.62L117.76 141.22L117.91 140.87L117.95 140.37L117.86 139.92L117.87 139.56L117.98 139.12L118.06 138.82L118.08 138.36L118.05 138.07L118.02 137.53L118.05 137.15L118.09 136.72L118.12 136.39L118.18 135.99L118.24 135.63L118.29 135.28L118.38 134.87L118.35 134.36L118.37 134.00L118.42 133.67L118.48 133.27L118.42 132.82L118.48 132.32L118.47 131.98L118.54 131.57L118.55 131.12L118.62 130.84L118.69 130.44L118.80 130.00L118.78 129.55L118.78 129.24L118.89 128.74L118.83 128.39L118.91 128.02L119.02 127.56L118.92 127.13L118.99 126.78L119.00 126.46L119.07 125.96L119.10 125.67L119.19 125.25L119.14 124.74L119.23 124.39L119.21 123.95L119.24 123.52L119.29 123.15L119.35 122.82L119.51 122.41L119.45 121.98L119.42 121.63L119.52 121.23L119.54 120.75L119.56 120.34L119.58 120.08L119.60 119.62L119.77 119.18L119.69 118.73L119.69 118.48L119.78 117.97L119.74 117.64L119.78 117.20L119.93 116.86L119.98 116.35L119.88 115.93L119.94 115.57L119.94 115.13L120.01 114.78L119.98 114.46L120.00 113.98L120.08 113.58L120.15 113.20L120.18 112.84L120.10 112.49L120.21 112.05L120.17 111.59L120.30 111.16L120.28 110.87L120.30 110.40L120.35 110.08L120.29 109.69L120.40 109.18L120.31 108.75L120.37 108.44L120.39 107.91L120.34 107.69L120.35 107.28L120.53 106.82L120.49 106.47L120.54 106.04L120.54 105.69L120.44 105.18L120.56 104.84L120.49 104.50L120.43 103.94L120.46 103.57L120.63 103.30L120.60 102.78L120.65 102.36L120.57 102.05L120.54 101.64L120.67 101.17L120.64 100.71L120.68 100.39L120.57 100.10L120.52 99.60L120.71 99.17L120.57 98.79L120.66 98.35L120.73 98.09L120.70 97.61L120.63 97.14L120.62 96.79L120.62 96.40L120.55 96.07L120.72 95.66L120.58 95.15L120.61 94.81L120.79 94.37L120.76 93.89L120.73 93.57L120.66 93.24L120.78 92.90L120.68 92.40L120.70 91.90L120.72 91.66L120.81 91.13L120.73 90.87L120.65 90.35L120.71 90.04L120.81 89.55L120.76 89.31L120.85 88.88L120.72 88.45L120.74 88.00L120.71 87.72L120.81 87.21L120.64 86.76L120.85 86.30L120.86 85.99L120.66 85.59L120.84 85.09L120.77 84.85L120.76 84.35L120.80 84.01L120.68 83.70L120.88 83.21L120.90 82.83L120.67 82.52L120.84 81.91L120.67 81.67L120.77 81.10L120.85 80.81L120.89 80.43L120.80 79.95L120.95 79.72L120.70 79.33L120.89 78.73L120.90 78.44L120.86 78.10L120.77 77.69L120.85 77.17L120.97 76.68L120.87 76.50L120.72 76.10L120.86 75.62L120.80 75.28L120.75 74.80L120.82 74.41L120.78 74.01L120.73 73.64L120.90 73.10L120.82 72.78L120.98 72.55L120.91 72.08L120.85 71.72L121.03 71.35L120.94 70.67L120.82 70.32L120.95 69.95L120.90 69.68L120.80 69.06L120.85 68.85L120.85 68.53L120.95 68.02L120.95 67.46L121.00 67.23L121.03 66.75L121.09 66.38L121.06 65.84L121.01 65.74L120.88 65.04L120.84 64.76L121.11 64.31L121.06 64.10L120.93 63.73L121.06 63.17L120.99 62.69L121.16 62.51L120.95 61.85L120.94 61.56L121.02 61.35L121.17 60.69L121.23 60.56L121.26 60.00L121.16 59.74L121.02 59.37L121.07 58.75L121.07 58.47L121.27 57.90L121.11 57.78L121.34 57.12L121.37 56.87L121.26 56.56L121.40 55.92L121.50 55.55L121.48 55.20L121.37 54.69L121.44 54.41L121.40 53.90L121.51 53.57L121.54 53.30L121.72 52.80L121.62 52.25L121.49 51.96L121.65 51.49L121.66 51.30L121.75 50.94L121.73 50.50L121.76 49.84L121.77 49.67L121.64 49.32L121.68 48.94L121.90 48.37L121.88 47.90L121.64 47.74L121.61 47.27L121.88 46.80L121.69 46.21L121.76 45.96L121.80 45.48L121.73 45.09L121.67 44.73L121.99 44.56L121.86 44.08L121.89 43.64L121.83 43.27L121.80 42.72L121.75 42.35L121.98 41.80L122.00 41.73L121.96 41.27L121.73 40.73L121.73 40.40L121.88 39.95L122.12 39.56L122.08 39.12L121.78 38.75L121.88 38.40L121.74 38.06L122.15 37.42L122.09 37.14L121.76 36.93L122.17 36.51L122.10 36.16L122.12 35.58L121.96 35.00L122.10 35.00L122.21 34.62L121.98 34.12L121.95 33.77L121.86 32.98L121.87 32.69L121.87 32.40L122.16 32.01L122.26 31.43L121.82 31.10L122.17 30.64L121.84 30.29L122.30 29.89L121.94 29.50L122.13 29.35L122.23 28.99L122.14 28.25L122.02 27.76L122.26 27.51L122.14 27.14L122.00 26.74L122.08 26.21L122.50 25.83L122.42 25.58L122.26 25.46L122.38 25.03L122.24 24.42L122.28 24.17L122.21 23.45L122.73 23.22L122.49 22.71L122.81 22.67L122.57 21.99L122.39 21.56L122.45 21.23L122.60 21.02L122.80 20.58L122.85 19.85L122.76 19.51L122.77 18.95L123.05 19.08L123.13 18.20L122.90 18.00L122.69 18.38L123.22 18.87L123.15 18.93L122.85 19.86L123.17 19.98L123.22 20.36L123.24 20.57L123.23 21.04L123.18 21.56L123.55 22.23L123.65 22.57L123.45 22.87L123.41 23.10L123.56 23.65L123.98 23.74L123.59 24.38L123.92 24.99L123.69 24.93L124.12 25.39L123.89 25.87L123.77 26.51L124.00 26.73L123.95 27.42L124.26 27.36L124.27 27.82L123.98 28.39L124.21 28.82L123.96 29.45L124.32 29.66L124.44 30.26L124.26 30.37L124.30 30.92L124.00 31.30L124.24 31.65L124.08 31.77L124.29 32.30L124.44 33.03L124.33 33.41L124.19 33.53L124.23 33.93L124.10 34.36L124.33 35.03L124.28 35.08L124.57 35.72L124.15 35.89L124.27 36.53L124.27 37.00L124.47 37.37L124.55 37.68L124.40 38.19L124.26 38.43L124.41 38.70L124.43 39.08L124.49 39.44L124.52 40.06L124.63 40.46L124.52 40.85L124.56 41.27L124.65 41.77L124.56 41.80L124.27 42.52L124.63 42.66L124.61 42.99L124.44 43.49L124.65 43.83L124.43 44.55L124.53 44.95L124.51 45.03L124.43 45.66L124.50 46.21L124.54 46.37L124.57 46.75L124.47 47.12L124.50 47.79L124.50 48.14L124.52 48.37L124.74 48.88L124.51 49.06L124.75 49.53L124.71 50.15L124.56 50.35L124.46 50.90L124.49 51.26L124.47 51.46L124.75 51.91L124.50 52.26L124.59 52.98L124.60 53.07L124.61 53.55L124.67 54.03L124.74 54.43L124.86 54.85L124.62 55.07L124.87 55.60L124.72 56.15L124.88 56.41L124.86 56.95L124.95 57.28L124.96 57.62L124.90 58.03L125.07 58.42L124.81 58.73L125.06 59.11L124.88 59.49L125.09 60.09L125.15 60.45L125.15 60.71L125.10 61.20L125.13 61.74L124.97 62.16L125.15 62.27L125.10 62.86L125.29 63.30L125.20 63.69L125.09 64.13L125.09 64.44L125.07 64.92L125.10 65.31L125.31 65.61L125.20 66.06L125.30 66.44L125.24 66.69L125.32 67.26L125.24 67.69L125.40 67.84L125.24 68.41L125.53 68.66L125.53 69.25L125.44 69.59L125.47 70.15L125.33 70.36L125.37 70.67L125.41 71.22L125.55 71.51L125.60 72.13L125.57 72.36L125.69 72.92L125.61 73.08L125.73 73.61L125.55 74.12L125.55 74.34L125.80 74.83L125.73 75.21L125.75 75.62L125.73 76.07L125.75 76.48L125.79 76.83L125.75 77.14L125.92 77.69L125.98 77.87L125.97 78.46L125.88 78.92L125.99 79.26L125.98 79.65L126.07 80.02L125.95 80.33L125.99 80.69L126.05 81.13L126.07 81.67L126.00 82.11L126.03 82.30L126.21 82.75L126.08 83.09L126.14 83.72L126.12 83.97L126.18 84.47L126.21 84.87L126.11 85.29L126.35 85.48L126.28 85.89L126.25 86.36L126.36 86.76L126.37 87.25L126.43 87.66L126.37 87.93L126.28 88.37L126.44 88.85L126.34 89.12L126.46 89.66L126.46 89.90L126.48 90.42L126.48 90.74L126.49 91.19L126.52 91.51L126.64 91.96L126.60 92.37L126.50 92.71L126.58 93.11L126.67 93.71L126.57 94.00L126.60 94.29L126.69 94.84L126.65 95.18L126.70 95.59L126.71 95.95L126.79 96.46L126.77 96.70L126.69 97.17L126.70 97.55L126.88 97.91L126.79 98.38L126.88 98.90L126.91 99.23L126.91 99.58L126.84 100.04L126.89 100.30L126.97 100.81L126.85 101.18L126.88 101.66L127.07 102.10L126.99 102.38L126.99 102.70L126.98 103.26L127.04 103.58L127.12 103.93L127.01 104.37L127.05 104.89L127.20 105.21L127.11 105.53L127.24 105.96L127.18 106.42L127.07 106.80L127.14 107.20L127.28 107.65L127.26 108.05L127.20 108.44L127.23 108.86L127.30 109.18L127.22 109.68L127.24 109.97L127.23 110.49L127.36 110.72L127.24 111.16L127.33 111.70L127.32 111.98L127.34 112.35L127.35 112.81L127.44 113.18L127.34 113.69L127.28 114.07L127.40 114.41L127.36 114.86L127.48 115.27L127.44 115.55L127.41 115.94L127.45 116.44L127.41 116.87L127.45 117.25L127.47 117.67L127.54 118.03L127.43 118.32L127.55 118.77L127.53 119.22L127.46 119.65L127.46 120.06L127.45 120.37L127.60 120.82L127.51 121.12L127.55 121.69L127.61 121.94L127.59 122.46L127.62 122.80L127.63 123.17L127.54 123.63L127.62 124.04L127.68 124.45L127.62 124.75L127.73 125.18L127.73 125.57L127.71 125.98L127.71 126.43L127.73 126.72L127.72 127.27L127.72 127.58L127.66 127.91L127.66 128.34L127.69 128.78L127.77 129.18L127.77 129.62L127.80 129.96L127.81 130.35L127.85 130.88L127.87 131.13L127.93 131.54L127.83 131.96L127.95 132.47L127.83 132.82L127.84 133.23L127.86 133.67L127.95 133.95L127.96 134.34L127.97 134.82L127.96 135.25L128.06 135.57L128.05 136.04L128.03 136.40L128.10 136.86L128.06 137.15L128.17 137.54L128.13 137.96L128.26 138.38L128.23 138.81L128.20 139.12L128.21 139.59L128.36 140.05L128.33 140.36L128.31 140.75L128.48 141.23L128.48 141.61L128.53 142.04L128.71 142.45L128.74 142.77L128.78 143.21L128.89 143.61L129.06 143.99L129.13 144.42L129.29 144.84L129.33 145.13L129.43 145.55L129.47 145.99L129.66 146.47L129.73 146.81L129.87 147.19L129.95 147.55L130.04 148.02L130.10 148.42L130.21 148.72L130.26 149.23L130.24 149.65L130.30 149.96L130.34 150.44L130.38 150.79L130.38 151.18L130.36 151.53L130.43 152.04L130.47 152.40L130.43 152.87L130.48 153.17L130.61 153.57L130.63 154.04L130.55 154.43L130.55 154.86L130.64 155.23L130.70 155.58L130.60 156.03L130.66 156.39L130.74 156.76L130.65 157.21L130.74 157.59L130.67 157.98L130.81 158.44L130.72 158.83L130.79 159.27L130.77 159.61L130.82 160.05L130.84 160.36L130.83 160.82L130.83 161.15L130.96 161.64L130.86 161.98L130.88 162.48L130.92 162.74L131.02 163.22L130.93 163.57L130.97 164.01L131.07 164.41L131.03 164.82L131.07 165.22L131.20 165.63L131.20 165.95L131.25 166.35L131.34 166.86L131.26 167.21L131.42 167.57L131.34 168.02L131.50 168.46L131.49 168.81L131.56 169.17L131.57 169.66L131.70 169.95L131.74 170.38L131.74 170.79L131.81 171.15L132.00 171.65L132.04 172.04L132.03 172.38L132.16 172.83L132.25 173.24L132.27 173.62L132.38 173.99L132.36 174.41L132.53 174.82L132.49 175.22L132.65 175.62L132.71 175.93L132.78 176.47L132.86 176.83L132.81 177.22L132.88 177.67L132.95 177.98L133.15 178.35L133.13 178.75L133.31 179.22L133.28 179.62L133.46 180.02L133.60 180.43L133.64 180.82L133.76 181.16L133.95 181.56L133.94 181.97L134.09 182.46L134.29 182.78L134.44 183.26L134.62 183.59L134.84 184.03L135.02 184.33L135.34 184.77L135.58 185.13L135.80 185.55L136.20 186.02L136.47 186.36L136.75 186.82L137.15 187.19L137.69 187.66L138.17 187.93L138.91 188.34L139.64 188.79L140.44 189.24L141.21 189.65L141.98 189.94L142.60 190.96L142.90 190.67L143.20 191.79L143.50 190.21L143.80 193.31L144.10 193.37L144.40 192.19L144.70 191.98L145.00 191.77L145.30 190.62L145.60 190.57L145.90 191.42L146.20 190.04L146.50 190.07L146.80 193.05L147.10 191.67L147.40 192.03L147.70 192.16L148.00 191.68L148.30 191.14L148.60 192.57L148.90 193.24L149.20 189.78L149.50 191.15L149.80 191.60L150.10 191.47L150.40 191.25L150.70 192.36L151.00 192.07L151.30 192.63L151.60 191.69L151.90 190.17L152.20 193.33L152.50 192.23L152.80 192.85L153.10 190.67L153.40 193.19L153.70 189.87L154.00 189.87L154.30 189.61L154.60 191.62L154.90 190.82L155.20 192.98L155.50 189.82L155.80 192.98L156.10 189.63L156.40 190.71L156.70 191.15L157.00 192.69L157.30 191.23L157.60 189.91L157.90 191.53L158.20 189.85L158.50 191.77L158.80 193.13L159.10 189.73L159.40 191.11L159.70 191.43L160.00 189.74L160.30 190.82L160.60 193.19L160.90 190.07L161.20 191.70L161.50 191.40L161.80 192.00L162.10 192.73L162.40 191.43L162.70 192.46L163.00 193.11L163.30 192.41L163.60 191.27L163.90 190.24L164.20 192.54L164.50 190.17L164.80 189.65L165.10 190.51L165.40 189.46L165.70 191.17L166.00 191.19L166.30 192.07L166.60 190.23L166.90 192.93L167.20 190.61L167.50 189.74L167.80 192.69L168.10 191.52L168.40 192.04L168.70 190.08L169.00 190.07L169.30 190.25L169.60 191.09L169.90 190.41L170.20 192.50L170.50 190.01L170.80 191.63L171.10 193.15L171.40 190.71L171.70 192.45L172.00 193.12L172.30 192.50L172.60 192.40L172.90 190.32L173.20 191.93L173.50 189.63L173.80 190.30L174.10 192.11L174.40 191.11L174.70 189.42L175.00 189.54L175.30 192.14L175.60 191.81L175.90 192.61L176.20 191.16L176.50 192.34L176.80 193.13" stroke="#0000ff" stroke-width="2.6"/>
<path d="M64.50 189.69L64.90 190.13L65.30 191.11L65.70 190.92L66.10 190.53L66.50 191.07L66.90 191.36L67.30 190.52L67.70 189.96L68.10 190.40L68.50 189.98L68.90 189.99L69.30 190.45L69.70 189.52L70.10 189.51L70.50 190.14L70.90 189.63L71.30 190.41L71.70 189.95L72.10 190.82L72.50 189.51L72.90 191.36L73.30 190.08L73.70 190.10L74.10 190.94L74.50 191.35L74.90 190.38L75.30 190.92L75.70 189.54L76.10 190.22L76.50 190.34L76.90 191.06L77.30 190.23L77.70 190.27L78.10 190.31L78.50 190.43L78.90 189.56L79.30 190.42L79.70 190.16L80.10 189.80L80.50 190.64L80.90 189.48L81.30 189.69L81.70 191.37L82.10 190.10L82.50 191.00L82.90 191.34L83.30 191.11L83.70 190.99L84.10 189.59L84.50 191.11L84.90 189.88L85.30 191.39L85.70 189.44L86.10 190.75L86.50 190.27L86.90 189.93L87.30 190.08L87.70 190.84L88.10 189.57L88.50 190.89L88.90 189.94L89.30 190.25L89.70 191.30L90.10 191.40L90.50 191.06L90.90 191.07L91.30 190.14L91.70 190.64L92.10 190.93L92.50 189.87L92.90 190.82L93.30 189.75L93.70 190.74L94.10 191.32L94.50 191.31L94.90 191.10L95.30 189.79L95.70 190.66L96.10 189.86L96.50 190.23L96.90 190.86L97.30 189.69L97.70 190.75L98.10 190.33L98.50 191.06L98.90 190.59L99.30 191.11L99.70 191.29L100.10 191.00L100.50 190.82L100.90 189.60L101.30 189.78L101.70 189.53L102.10 190.54L102.50 189.83L102.90 190.04L103.30 190.18L103.70 189.74L104.10 189.98L104.50 189.96L104.90 191.16L105.30 189.86L105.70 189.64L106.10 191.30L106.50 189.68L106.90 191.26L107.30 190.10L107.70 190.59L108.10 190.58L108.50 191.20L108.90 190.45L109.30 189.58L109.70 190.27L110.10 190.08L110.50 190.45L110.90 190.48L111.30 191.35L111.70 190.44L112.10 189.97L112.50 190.43L112.90 190.05L113.30 189.70L113.70 189.60L114.10 190.72L114.50 189.70L114.90 189.84L115.30 190.01L115.70 190.24L116.10 191.21L116.50 189.93L116.90 190.66L117.30 190.65L117.70 191.14L118.10 190.68L118.50 191.26L118.90 190.29L119.30 189.51L119.70 190.52L120.10 189.40L120.50 191.28L120.90 190.00L121.30 190.40L121.70 190.69L122.10 189.63L122.50 190.13L122.90 190.13L123.30 191.31L123.70 189.70L124.10 191.03L124.50 190.74L124.90 190.86L125.30 191.02L125.70 190.38L126.10 191.32L126.50 190.50L126.90 190.10L127.30 189.51L127.70 189.64L128.10 190.39L128.50 190.77L128.90 189.59L129.30 189.52L129.70 190.86L130.10 189.54L130.50 189.42L130.90 190.59L131.30 191.36L131.70 190.63L132.10 191.32L132.50 189.86L132.90 190.84L133.30 190.51L133.70 190.21L134.10 190.56L134.50 190.79L134.90 189.71L135.30 190.75L135.70 191.09L136.10 189.51L136.50 189.46L136.90 191.25L137.30 190.73L137.70 190.30L138.10 189.47L138.50 190.81L138.90 190.99L139.30 190.16L139.70 190.69L140.10 190.93L140.50 189.48L140.90 190.45L141.30 189.77L141.70 190.63L142.10 189.96L142.50 189.64L142.90 190.55L143.30 189.77L143.70 190.59L144.10 190.36L144.50 190.92L144.90 189.91L145.30 191.15L145.70 190.51L146.10 191.03L146.50 190.76L146.90 189.67L147.30 189.86L147.70 190.07L148.10 190.28L148.50 190.10L148.90 190.93L149.30 190.83L149.70 189.42L150.10 191.24L150.50 190.86L150.90 190.54L151.30 191.08L151.70 189.43L152.10 190.49L152.50 190.90L152.90 191.19L153.30 189.99L153.70 191.30L154.10 190.65L154.50 191.37L154.90 190.50L155.30 191.21L155.70 190.55L156.10 190.41L156.50 191.12L156.90 190.78L157.30 190.50L157.70 190.40L158.10 190.34L158.50 190.09L158.90 190.22L159.30 190.76L159.70 189.60L160.10 191.04L160.50 191.01L160.90 189.81L161.30 190.80L161.70 190.61L162.10 190.58L162.50 189.52L162.90 191.39L163.30 189.84L163.70 191.15L164.10 191.38L164.50 190.98L164.90 190.15L165.30 189.50L165.70 189.50L166.10 190.92L166.50 191.15L166.90 191.16L167.30 190.90L167.70 189.96L168.10 191.15L168.50 190.56L168.90 190.80L169.30 189.61L169.70 191.10L170.10 190.10L170.50 190.33L170.90 190.86L171.30 190.24L171.70 190.81L172.10 191.19L172.50 191.27L172.90 189.45L173.30 190.90L173.70 191.36L174.10 191.13L174.50 190.73L174.90 189.77L175.30 189.56L175.70 190.60L176.10 190.89L176.50 190.62L176.90 189.45" stroke="#0000ff" stroke-width="4.0" stroke-linejoin="round"/>
<path d="M64.00 191.81L64.60 192.21L65.20 191.74L65.80 191.94L66.40 191.86L67.00 191.95L67.60 192.25L68.20 192.23L68.80 191.97L69.40 191.74L70.00 191.82L70.60 191.72L71.20 191.95L71.80 192.20L72.40 191.96L73.00 191.81L73.60 191.81L74.20 191.76L74.80 192.12L75.40 191.92L76.00 192.25L76.60 192.11L77.20 192.02L77.80 192.03L78.40 191.70L79.00 191.87L79.60 191.92L80.20 191.72L80.80 192.29L81.40 191.96L82.00 191.92L82.60 192.10L83.20 192.19L83.80 191.98L84.40 192.13L85.00 192.15L85.60 191.77L86.20 192.14L86.80 192.16L87.40 192.23L88.00 191.83L88.60 191.91L89.20 191.96L89.80 192.12L90.40 192.17L91.00 191.73L91.60 191.76L92.20 191.89L92.80 192.27L93.40 192.18L94.00 191.92L94.60 191.75L95.20 191.88L95.80 191.97L96.40 191.80L97.00 192.04L97.60 192.02L98.20 191.82L98.80 192.28L99.40 191.90L100.00 192.06L100.60 192.05L101.20 191.95L101.80 192.30L102.40 192.09L103.00 191.93L103.60 192.04L104.20 191.93L104.80 191.87L105.40 191.91L106.00 192.20L106.60 191.78L107.20 192.02L107.80 191.88L108.40 192.22L109.00 191.76L109.60 191.99L110.20 191.91L110.80 191.94L111.40 192.19L112.00 192.10L112.60 191.75L113.20 192.28L113.80 192.25L114.40 191.74L115.00 191.79L115.60 192.05L116.20 192.28L116.80 191.81L117.40 191.74L118.00 191.94L118.60 191.82L119.20 191.94L119.80 191.91L120.01 191.45L121.34 191.16L122.63 190.74L123.89 190.32L124.96 189.94L126.05 189.47L126.87 189.07L127.54 188.66L128.11 188.23L128.65 187.84L129.14 187.43L129.59 187.10L130.00 186.72L130.35 186.33L130.75 185.83L131.18 185.57L131.37 185.10L131.77 184.65L132.07 184.25L132.29 183.83L132.62 183.57L132.84 183.08L133.06 182.65L133.29 182.33L133.55 181.87L133.74 181.55L133.90 181.16L134.18 180.70L134.41 180.35L134.50 179.92L134.74 179.55L134.90 179.10L135.09 178.74L135.31 178.31L135.58 177.95L135.73 177.48L135.98 177.16L136.08 176.76L136.32 176.27L136.46 175.83L136.54 175.43L136.68 175.14L136.81 174.71L136.82 174.25L137.06 173.92L137.09 173.43L137.20 173.15L137.24 172.70L137.37 172.32L137.47 171.95L137.61 171.53L137.66 171.10L137.68 170.73L137.74 170.26L137.88 169.96L137.88 169.47L137.93 169.06L138.13 168.64L138.17 168.34L138.16 167.88L138.20 167.51L138.27 167.04L138.37 166.65L138.36 166.31L138.41 165.98L138.54 165.51L138.58 165.09L138.65 164.64L138.72 164.35L138.74 163.94L138.82 163.52L138.79 163.14L138.84 162.75L138.88 162.30L138.95 161.92L138.93 161.43L139.09 161.07L139.14 160.72L139.09 160.31L139.18 159.98L139.24 159.56L139.29 159.14L139.25 158.66L139.34 158.26L139.30 157.92L139.30 157.44L139.42 157.09L139.45 156.74L139.52 156.28L139.42 155.87L139.58 155.45L139.58 155.09L139.62 154.76L139.61 154.31L139.62 153.84L139.62 153.46L139.67 153.17L139.68 152.75L139.71 152.38L139.85 151.87L139.87 151.54L139.94 151.04L140.00 150.74L140.04 150.23L140.08 149.94L140.00 149.54L140.13 149.09L140.16 148.66L140.13 148.29L140.28 147.85L140.23 147.49L140.33 147.17L140.38 146.67L140.38 146.33L140.52 145.97L140.51 145.47L140.60 145.05L140.65 144.67L140.58 144.22L140.67 143.88L140.76 143.56L140.76 143.17L140.90 142.68L140.81 142.23L140.87 141.87L141.03 141.47L140.93 141.17L141.05 140.72L141.12 140.29L141.15 139.92L141.08 139.42L141.23 139.02L141.27 138.68L141.33 138.23L141.23 137.97L141.29 137.54L141.33 137.11L141.37 136.71L141.49 136.31L141.55 135.87L141.54 135.52L141.64 135.13L141.53 134.70L141.56 134.27L141.75 133.88L141.70 133.57L141.79 133.03L141.87 132.73L141.89 132.35L141.95 131.84L141.83 131.42L141.94 131.02L142.02 130.64L142.06 130.27L142.04 129.83L142.02 129.41L142.14 129.02L142.09 128.68L142.27 128.30L142.24 127.87L142.18 127.42L142.30 127.18L142.36 126.66L142.34 126.38L142.35 125.97L142.43 125.54L142.47 125.02L142.44 124.75L142.56 124.33L142.65 123.96L142.59 123.58L142.64 123.12L142.61 122.74L142.67 122.22L142.75 121.82L142.86 121.59L142.86 121.04L142.84 120.68L142.95 120.35L142.87 119.97L142.88 119.46L142.89 119.05L143.05 118.62L143.00 118.36L143.00 117.98L143.05 117.55L143.11 117.09L143.13 116.71L143.19 116.29L143.23 115.83L143.28 115.45L143.28 115.08L143.24 114.67L143.37 114.21L143.32 113.98L143.40 113.41L143.48 113.14L143.49 112.61L143.59 112.21L143.56 111.89L143.62 111.51L143.58 111.14L143.53 110.74L143.72 110.29L143.67 109.89L143.68 109.53L143.74 109.14L143.78 108.62L143.83 108.31L143.74 107.99L143.78 107.55L143.83 107.15L143.92 106.62L143.93 106.33L143.94 105.99L143.87 105.53L143.91 105.10L143.95 104.77L144.01 104.26L144.00 103.92L144.03 103.53L144.13 103.02L144.07 102.62L144.07 102.34L144.20 101.93L144.23 101.57L144.28 101.19L144.30 100.75L144.30 100.22L144.32 99.85L144.31 99.52L144.28 99.06L144.44 98.78L144.45 98.23L144.39 97.98L144.52 97.54L144.55 97.19L144.55 96.80L144.48 96.39L144.44 95.92L144.57 95.50L144.51 95.13L144.58 94.72L144.66 94.30L144.62 93.96L144.73 93.56L144.74 93.15L144.79 92.64L144.62 92.22L144.77 91.80L144.63 91.60L144.77 90.99L144.78 90.69L144.68 90.30L144.76 89.96L144.83 89.58L144.80 89.13L144.95 88.81L144.82 88.42L144.80 88.01L144.98 87.45L145.01 87.00L145.02 86.61L144.94 86.21L145.05 86.02L144.91 85.63L144.95 85.03L145.08 84.58L145.02 84.40L145.05 83.87L145.13 83.55L145.18 83.09L145.18 82.66L145.22 82.17L145.17 81.80L145.06 81.59L145.13 81.17L145.35 80.75L145.30 80.43L145.29 80.03L145.23 79.61L145.29 79.23L145.22 78.62L145.27 78.38L145.40 77.98L145.29 77.47L145.32 77.19L145.30 76.75L145.39 76.20L145.39 75.85L145.36 75.49L145.52 75.24L145.60 74.66L145.59 74.41L145.46 73.88L145.58 73.56L145.59 73.10L145.61 72.57L145.57 72.18L145.72 72.03L145.51 71.41L145.53 71.04L145.62 70.83L145.57 70.33L145.54 69.94L145.78 69.43L145.74 68.97L145.86 68.67L145.78 68.45L145.63 67.81L145.79 67.65L145.72 67.04L145.83 66.70L145.92 66.22L145.76 65.87L146.01 65.62L146.01 65.01L145.90 64.68L146.02 64.26L145.81 63.80L145.94 63.37L145.86 63.09L145.93 62.76L145.99 62.36L146.08 61.80L146.20 61.64L146.13 61.13L146.05 60.86L146.04 60.13L146.27 60.00L146.24 59.40L146.11 58.97L146.13 58.67L146.30 58.12L146.32 58.02L146.43 57.65L146.43 57.00L146.21 56.79L146.38 56.44L146.29 56.06L146.61 55.32L146.43 55.23L146.52 54.73L146.39 54.15L146.56 54.02L146.64 53.39L146.60 52.92L146.74 52.87L146.74 52.32L146.55 51.90L146.66 51.54L146.81 51.28L146.70 50.69L146.77 50.13L146.74 49.98L146.74 49.35L146.82 48.99L146.81 48.65L147.08 48.21L147.04 47.76L147.00 47.54L147.00 47.06L147.13 46.50L147.12 46.22L146.92 45.88L147.10 45.30L147.07 44.99L147.05 44.78L147.19 44.32L147.35 44.01L147.41 43.44L147.32 43.15L147.33 42.53L147.22 42.16L147.22 42.10L147.28 41.51L147.54 40.96L147.55 40.72L147.76 40.16L147.83 39.71L147.48 39.28L147.82 39.04L147.84 38.74L147.61 38.18L147.74 38.11L148.04 37.51L147.96 37.12L148.15 36.67L148.03 36.50L147.87 35.69L148.28 35.36L148.12 35.31L148.03 34.65L148.15 34.30L148.45 34.07L148.18 33.35L148.43 32.86L148.25 32.70L148.58 32.30L148.41 31.71L148.37 31.42L148.49 31.06L148.65 30.58L148.77 30.51L148.75 29.66L149.01 29.34L148.89 29.24L148.90 28.81L148.92 28.40L149.08 27.99L149.50 27.54L149.26 27.07L149.34 26.50L149.26 26.15L149.65 25.82L149.72 25.55L150.02 24.98L149.92 24.66L150.19 24.23L150.30 23.72L150.02 23.42L150.41 23.08L150.48 22.80L150.35 22.20L150.83 22.04L150.71 21.73L150.83 21.05L150.74 20.53L150.88 20.03L151.44 19.61L151.51 19.74L151.32 19.16L151.69 18.53L151.91 18.02L151.99 17.97L151.90 17.70L152.16 17.88L152.15 18.78L152.22 19.08L152.66 19.04L152.49 19.68L152.55 20.15L152.72 20.38L153.07 20.94L153.03 21.17L153.32 21.96L153.64 21.91L153.56 22.55L153.93 23.18L153.69 23.24L153.77 23.52L153.86 24.37L154.18 24.36L154.11 24.71L154.48 25.07L154.65 25.80L154.37 26.00L154.41 26.45L155.02 27.09L154.62 27.35L154.74 27.64L155.21 27.96L155.07 28.57L155.01 29.15L155.22 29.26L155.24 29.73L155.20 30.17L155.36 30.66L155.60 30.71L155.46 31.34L155.50 31.72L155.36 31.87L155.75 32.52L155.66 33.14L155.55 33.49L155.74 33.80L155.95 33.94L155.89 34.50L156.01 34.78L155.67 35.31L155.98 35.65L155.97 36.27L155.75 36.29L155.71 36.90L155.78 37.21L156.14 37.75L156.14 38.03L155.90 38.69L155.90 38.80L156.25 39.41L156.04 39.49L156.00 39.95L156.21 40.37L155.96 40.85L156.40 41.38L156.39 41.85L156.28 42.16L156.37 42.63L156.43 42.71L156.26 43.49L156.45 43.66L156.27 43.97L156.42 44.65L156.19 44.71L156.40 45.26L156.46 45.84L156.58 46.24L156.52 46.60L156.68 46.98L156.38 47.41L156.63 47.82L156.63 48.03L156.56 48.31L156.61 49.08L156.46 49.43L156.85 49.60L156.67 50.23L156.78 50.36L156.60 50.78L156.92 51.32L156.98 51.78L156.98 52.05L156.96 52.39L156.75 52.94L157.06 53.49L156.90 53.86L157.17 54.07L156.98 54.56L156.88 55.01L157.11 55.35L157.23 55.74L157.05 55.99L157.31 56.45L157.24 56.85L157.09 57.47L157.17 57.72L157.40 58.26L157.14 58.39L157.29 58.93L157.23 59.24L157.35 59.81L157.32 60.10L157.27 60.52L157.32 60.84L157.44 61.44L157.56 61.58L157.45 62.01L157.63 62.46L157.62 62.98L157.55 63.30L157.75 63.65L157.83 63.99L157.69 64.60L157.57 64.86L157.81 65.28L157.90 65.57L157.92 66.08L157.94 66.48L157.82 66.76L157.79 67.36L157.82 67.60L158.01 68.19L157.88 68.46L158.05 68.86L158.05 69.19L158.10 69.84L158.17 70.03L158.03 70.59L158.24 70.77L158.30 71.21L158.17 71.78L158.32 72.05L158.37 72.48L158.14 72.81L158.43 73.22L158.28 73.79L158.37 74.23L158.46 74.40L158.39 74.98L158.50 75.44L158.32 75.63L158.43 75.99L158.62 76.42L158.53 76.82L158.43 77.38L158.68 77.69L158.60 78.14L158.63 78.47L158.79 78.79L158.80 79.34L158.70 79.59L158.85 80.17L158.74 80.47L158.80 81.02L158.87 81.39L158.77 81.62L158.95 81.97L159.04 82.56L159.05 82.90L158.93 83.40L158.89 83.63L159.07 84.13L159.06 84.58L159.01 84.95L159.00 85.37L159.24 85.68L159.24 86.11L159.10 86.49L159.14 86.85L159.25 87.36L159.17 87.71L159.26 88.15L159.39 88.62L159.43 88.79L159.42 89.19L159.50 89.67L159.31 90.09L159.50 90.49L159.48 90.91L159.48 91.36L159.47 91.60L159.66 92.17L159.54 92.54L159.50 92.93L159.59 93.23L159.64 93.64L159.64 93.99L159.65 94.48L159.69 94.88L159.76 95.32L159.85 95.59L159.81 96.20L159.83 96.57L159.81 96.87L159.88 97.40L159.96 97.77L159.96 98.13L159.87 98.44L160.06 98.87L159.93 99.35L159.96 99.73L159.99 100.19L160.05 100.41L160.05 100.87L160.11 101.30L160.20 101.60L160.27 102.05L160.16 102.54L160.22 102.97L160.38 103.30L160.32 103.72L160.28 104.15L160.30 104.51L160.49 104.99L160.33 105.37L160.40 105.78L160.56 106.04L160.47 106.56L160.50 106.98L160.52 107.31L160.50 107.75L160.53 108.13L160.53 108.43L160.59 108.91L160.59 109.35L160.63 109.69L160.65 110.08L160.73 110.55L160.80 110.83L160.81 111.26L160.85 111.74L160.83 112.18L160.92 112.52L160.83 112.95L160.96 113.38L160.90 113.75L161.07 114.09L161.10 114.41L161.09 114.95L161.14 115.36L161.01 115.72L161.02 116.18L161.15 116.56L161.18 116.86L161.27 117.36L161.13 117.64L161.18 118.18L161.19 118.47L161.32 118.93L161.28 119.32L161.29 119.62L161.32 120.09L161.34 120.44L161.33 120.89L161.44 121.38L161.40 121.77L161.48 122.15L161.55 122.52L161.56 122.93L161.55 123.36L161.66 123.74L161.59 124.10L161.55 124.47L161.60 124.87L161.61 125.36L161.79 125.65L161.77 126.06L161.80 126.44L161.88 126.92L161.74 127.31L161.81 127.70L161.90 128.13L161.86 128.46L161.88 128.90L161.92 129.26L162.02 129.67L161.96 130.11L162.03 130.46L162.06 130.83L162.06 131.38L162.17 131.74L162.09 132.11L162.15 132.51L162.18 132.97L162.18 133.37L162.18 133.75L162.24 134.05L162.33 134.57L162.26 134.91L162.31 135.25L162.40 135.72L162.40 136.11L162.34 136.42L162.43 136.85L162.43 137.27L162.52 137.67L162.43 138.06L162.49 138.50L162.53 138.84L162.57 139.22L162.58 139.76L162.61 140.04L162.55 140.49L162.70 140.86L162.65 141.36L162.69 141.72L162.72 142.09L162.74 142.52L162.78 142.84L162.76 143.29L162.84 143.68L162.81 144.03L162.79 144.52L162.80 144.85L162.91 145.36L162.98 145.68L162.97 146.08L162.97 146.48L162.93 146.92L162.99 147.22L162.99 147.74L163.00 148.11L163.07 148.44L163.13 148.85L163.10 149.37L163.18 149.69L163.21 150.08L163.17 150.44L163.22 150.86L163.28 151.37L163.40 151.69L163.33 152.12L163.39 152.48L163.42 152.88L163.58 153.27L163.52 153.63L163.57 154.10L163.68 154.52L163.64 154.98L163.74 155.31L163.73 155.70L163.83 156.05L163.82 156.51L163.90 156.90L164.01 157.34L163.98 157.75L164.13 158.16L164.09 158.52L164.15 158.93L164.25 159.36L164.32 159.69L164.41 160.11L164.40 160.53L164.51 160.94L164.60 161.25L164.57 161.65L164.71 162.04L164.72 162.51L164.80 162.85L164.79 163.23L164.87 163.63L164.90 164.05L165.07 164.54L165.07 164.88L165.21 165.37L165.27 165.65L165.23 166.11L165.31 166.48L165.35 166.90L165.56 167.24L165.60 167.76L165.69 168.06L165.73 168.42L165.82 168.86L165.90 169.26L165.94 169.66L165.97 170.14L166.07 170.48L166.26 170.95L166.25 171.24L166.36 171.69L166.36 172.04L166.48 172.44L166.63 172.92L166.72 173.25L166.71 173.72L166.86 174.03L166.99 174.51L167.01 174.92L167.15 175.37L167.32 175.68L167.28 176.17L167.43 176.46L167.55 176.85L167.70 177.29L167.80 177.72L167.78 178.16L167.91 178.49L167.96 178.92L168.07 179.35L168.21 179.65L168.31 180.04L168.41 180.54L168.56 180.97L168.63 181.31L168.65 181.65L168.69 182.14L168.80 182.50L168.85 182.95L169.04 183.25L169.01 183.65L169.16 184.09L169.18 184.56L169.41 184.90L169.41 185.25L169.53 185.75L169.68 186.13L169.86 186.52L169.96 186.94L170.17 187.35L170.37 187.73L170.44 188.06L170.65 188.46L170.90 188.92L171.22 189.23L171.81 189.74L172.64 190.10L173.60 190.43L174.55 190.85L175.47 191.32L176.60 191.73L177.20 192.22L177.80 191.84L178.40 191.82L179.00 191.72L179.60 191.85L180.20 191.84L180.80 191.79L181.40 191.73L182.00 192.03L182.60 191.96L183.20 191.72L183.80 192.25L184.40 192.15L185.00 191.83L185.60 192.04L186.20 192.28L186.80 192.11L187.40 191.87L188.00 192.26L188.60 191.92L189.20 191.88L189.80 191.76L190.40 192.17L191.00 192.01L191.60 191.94L192.20 192.03L192.80 192.06L193.40 192.22L194.00 192.08L194.60 191.77L195.20 192.13L195.80 191.87L196.40 192.28L197.00 191.73L197.60 192.18L198.20 191.82L198.80 192.08L199.40 192.08L200.00 192.20L200.60 192.28L201.20 192.21L201.80 191.73L202.40 192.11L203.00 192.28L203.60 192.25L204.20 191.97L204.80 191.80L205.40 192.22L206.00 192.27L206.60 191.80L207.20 191.78L207.80 192.29L208.40 191.84L209.00 191.77L209.60 191.85L210.20 192.30L210.80 191.81L211.40 191.73L212.00 192.24L212.60 192.12L213.20 191.73L213.80 191.78L214.40 191.70L215.00 192.10L215.60 192.26L216.20 191.72L216.80 191.71L217.40 191.81L218.00 191.72L218.60 191.73L219.20 191.99L219.80 192.27L220.40 191.97L221.00 191.86L221.60 191.99L222.20 192.21L222.80 192.24L223.40 192.17L224.00 192.04L224.60 192.07L225.20 191.83L225.80 192.16L226.40 191.95L227.00 191.71L227.60 192.17L228.20 192.13L228.80 191.96L229.40 192.13L230.00 191.94L230.60 191.79L231.20 191.81L231.80 191.81L232.40 191.89L233.00 191.83L233.60 192.12L234.20 191.76L234.80 192.14L235.40 192.25L236.00 191.72L236.60 192.25L237.20 191.89L237.80 192.10L238.40 192.18L239.00 191.78L239.60 192.07L240.20 191.91L240.80 192.14L241.40 192.21L242.00 191.80L242.60 191.95L243.20 191.96L243.80 191.80L244.40 191.92L245.00 192.16L245.60 191.86L246.20 192.28L246.80 192.28L247.40 191.91L248.00 191.91L248.60 192.10L249.20 191.80L249.80 192.05L250.40 191.87L251.00 191.80L251.60 192.02L252.20 191.86L252.80 191.85L253.40 192.08L254.00 191.82L254.60 192.10L255.20 192.11L255.80 192.09L256.40 192.10L257.00 191.89L257.60 191.80L258.20 191.92L258.80 191.70L259.40 191.71L260.00 192.06L260.60 192.15L261.20 192.29L261.80 192.12L262.40 192.27L263.00 192.29L263.60 192.24L264.20 192.11L264.80 192.29L265.40 191.75L266.00 192.05L266.60 191.75L267.20 191.76L267.80 191.81L268.40 191.92L269.00 192.23L269.60 191.83L270.20 191.92L270.80 191.95L271.40 192.03L272.00 191.96L272.60 192.21L273.20 192.19L273.80 192.25L274.40 192.02L275.00 192.26L275.60 192.12L276.20 192.15L276.80 191.98L277.40 192.04L278.00 191.93L278.60 191.91L279.20 192.24L279.80 191.76L280.40 191.97L281.00 191.77L281.60 192.17L282.20 192.17L282.80 191.99L283.40 191.98L284.00 191.81L284.60 192.19L285.20 191.92L285.80 192.15L286.40 191.94L287.00 192.01" stroke="#ff00ff" stroke-width="2.6"/>
<path d="M64.00 192.23L64.60 192.73L65.20 192.28L65.80 192.82L66.40 193.12L67.00 192.21L67.60 192.69L68.20 192.51L68.80 193.03L69.40 193.06L70.00 192.37L70.60 192.53L71.20 192.44L71.80 192.23L72.40 192.49L73.00 193.13L73.60 192.22L74.20 193.19L74.80 192.87L75.40 192.65L76.00 192.82L76.60 192.51L77.20 192.52L77.80 192.33L78.40 193.01L79.00 193.15L79.60 192.97L80.20 192.76L80.80 192.81L81.40 193.07L82.00 192.52L82.60 192.84L83.20 192.38L83.80 193.18L84.40 192.24L85.00 193.00L85.60 192.22L86.20 192.75L86.80 193.19L87.40 192.34L88.00 192.86L88.60 193.19L89.20 192.74L89.80 192.65L90.40 192.46L91.00 192.53L91.60 192.30L92.20 192.62L92.80 192.84L93.40 192.63L94.00 192.24L94.60 192.82L95.20 193.17L95.80 193.07L96.40 192.74L97.00 192.21L97.60 192.31L98.20 192.59L98.80 193.18L99.40 192.90L100.00 192.49L100.60 192.63L101.20 192.56L101.80 192.64L102.40 192.64L103.00 192.29L103.60 192.79L104.20 192.50L104.80 192.49L105.40 192.27L106.00 192.87L106.60 192.30L107.20 192.88L107.80 192.93L108.40 192.73L109.00 192.96L109.60 192.97L110.20 192.98L110.80 192.38L111.40 193.06L112.00 193.15L112.60 192.72L113.20 192.22L113.80 192.99L114.40 193.18L115.00 192.77L115.01 190.39L116.45 190.02L117.82 189.59L119.10 189.42L120.56 188.81L121.72 188.42L122.60 188.22L123.67 187.63L124.38 187.25L125.32 186.88L125.99 186.49L126.80 186.06L127.43 185.79L128.00 185.41L128.70 185.00L128.98 184.44L129.37 184.15L129.50 183.62L129.92 183.29L129.97 182.92L130.28 182.46L130.40 182.17L130.55 181.66L130.91 181.22L130.89 180.83L131.17 180.41L131.38 180.13L131.66 179.62L132.02 179.26L132.30 178.90L132.49 178.61L132.79 178.08L133.21 177.78L133.39 177.27L133.85 176.92L133.93 176.47L134.36 176.02L134.39 175.57L134.73 175.34L134.89 174.98L135.01 174.63L135.16 174.04L135.25 173.63L135.32 173.33L135.34 172.77L135.56 172.63L135.63 172.04L135.50 171.78L135.63 171.40L135.83 170.95L135.79 170.49L136.04 170.17L135.93 169.59L136.04 169.42L136.14 168.97L136.24 168.62L136.33 168.08L136.15 167.68L136.22 167.43L136.37 166.81L136.58 166.57L136.56 166.09L136.69 165.74L136.81 165.36L136.73 164.92L136.97 164.46L137.12 164.05L137.04 163.59L137.11 163.32L137.36 162.80L137.40 162.60L137.63 162.09L137.63 161.71L137.81 161.35L137.96 161.03L137.98 160.63L138.01 160.12L138.21 159.60L138.37 159.28L138.45 158.78L138.58 158.42L138.62 158.14L138.81 157.71L138.96 157.43L138.98 156.77L139.34 156.57L139.46 156.16L139.50 155.67L139.63 155.26L139.70 154.86L139.92 154.39L140.06 154.19L139.94 153.57L140.04 153.19L140.42 152.87L140.51 152.52L140.43 152.11L140.53 151.84L140.69 151.28L140.66 150.98L140.97 150.42L141.03 150.20L141.01 149.63L141.25 149.35L141.37 148.96L141.19 148.51L141.48 148.00L141.45 147.84L141.46 147.16L141.58 146.77L141.67 146.54L141.65 146.10L141.83 145.82L141.81 145.32L142.08 144.83L141.99 144.62L142.16 144.02L142.31 143.73L142.37 143.24L142.37 142.87L142.39 142.49L142.54 142.12L142.42 141.81L142.72 141.40L142.56 140.84L142.80 140.37L142.65 140.03L142.77 139.66L143.02 139.34L143.13 138.89L142.93 138.53L143.04 138.09L143.09 137.82L143.13 137.39L143.24 137.01L143.50 136.41L143.51 136.18L143.42 135.79L143.59 135.40L143.69 134.89L143.64 134.47L143.68 134.06L143.93 133.65L143.93 133.23L143.99 133.02L144.03 132.41L144.01 132.21L144.33 131.81L144.35 131.38L144.31 130.83L144.53 130.41L144.49 130.03L144.48 129.55L144.64 129.24L144.80 128.97L144.74 128.37L144.67 128.07L145.00 127.85L144.78 127.41L145.13 126.76L145.19 126.45L145.10 125.94L145.17 125.76L145.25 125.35L145.40 124.87L145.47 124.55L145.50 124.26L145.60 123.57L145.67 123.26L145.75 122.78L145.66 122.62L145.72 122.14L145.88 121.73L145.94 121.38L145.95 121.04L145.91 120.54L146.14 120.01L146.00 119.66L146.29 119.33L146.33 119.06L146.37 118.35L146.38 118.09L146.57 117.78L146.67 117.22L146.48 116.94L146.80 116.49L146.85 115.97L146.68 115.78L146.74 115.42L147.07 114.98L146.98 114.56L147.14 114.21L147.07 113.86L147.02 113.25L147.22 112.92L147.27 112.36L147.50 112.17L147.25 111.78L147.51 111.28L147.66 110.86L147.46 110.55L147.65 109.94L147.79 109.70L147.96 109.27L147.96 108.97L147.82 108.53L147.85 108.26L148.23 107.54L148.09 107.45L148.10 106.94L148.32 106.64L148.30 106.17L148.27 105.59L148.30 105.27L148.65 104.95L148.51 104.68L148.50 104.02L148.86 103.86L148.59 103.37L148.66 103.06L148.97 102.51L148.81 102.25L149.12 101.68L149.02 101.20L149.20 100.79L149.39 100.56L149.43 99.97L149.48 99.84L149.33 99.17L149.66 98.89L149.61 98.67L149.67 97.90L149.60 97.52L149.83 97.22L149.79 96.90L149.87 96.32L150.10 96.29L149.84 95.51L150.23 95.25L150.23 94.79L150.07 94.60L150.18 94.10L150.46 93.70L150.30 93.43L150.39 92.80L150.45 92.53L150.38 91.98L150.56 91.52L150.55 91.29L150.75 90.96L150.78 90.44L150.98 89.98L150.95 89.56L151.16 89.28L151.10 89.09L150.93 88.56L150.99 87.97L151.09 87.74L151.19 87.38L151.22 86.85L151.57 86.47L151.72 86.28L151.57 85.72L151.67 85.40L151.94 85.04L151.66 84.65L151.84 84.24L152.10 83.92L151.97 83.13L151.91 82.76L152.02 82.55L152.22 82.02L152.32 81.81L152.51 81.31L152.18 80.83L152.31 80.45L152.71 80.08L152.55 79.67L152.52 79.38L152.87 79.05L152.67 78.72L152.67 77.87L153.00 77.47L153.02 77.38L152.88 77.11L152.99 76.54L152.92 76.13L153.04 75.86L153.21 75.15L153.50 74.73L153.17 74.37L153.64 74.32L153.43 73.63L153.40 73.28L153.47 72.79L153.56 72.48L153.81 71.95L153.97 71.93L153.69 71.54L153.99 71.05L154.08 70.47L154.14 70.25L153.92 69.85L154.27 69.05L154.03 68.74L154.30 68.62L154.35 67.92L154.20 67.75L154.31 67.22L154.67 67.04L154.55 66.78L154.60 66.35L154.68 65.52L155.05 65.01L155.20 64.86L154.70 64.71L155.24 63.97L154.96 63.93L155.18 63.16L155.16 62.72L155.59 62.64L155.57 61.85L155.13 61.58L155.31 61.44L155.60 60.62L155.73 60.79L155.59 59.85L155.95 59.76L155.99 59.49L156.14 58.81L155.86 58.67L155.73 58.06L156.25 57.55L156.47 57.24L155.91 56.94L156.25 56.37L156.61 56.06L156.63 55.83L156.65 55.05L156.92 54.59L156.36 54.51L156.96 54.34L156.64 53.78L156.92 53.28L157.24 52.55L156.89 52.33L156.79 52.26L157.20 51.60L157.36 50.99L157.42 50.97L157.05 50.40L157.23 49.76L157.83 49.65L157.84 48.94L157.65 48.59L157.43 48.74L158.10 48.11L157.79 47.45L157.83 47.26L158.20 47.14L158.38 46.50L157.99 46.38L158.01 45.54L158.07 44.99L158.34 45.27L158.94 44.58L158.26 44.33L158.99 43.45L158.53 43.34L159.20 43.22L158.86 42.23L159.23 41.82L158.95 41.72L159.43 41.50L159.39 40.72L159.20 40.80L159.67 39.94L159.13 39.94L159.44 39.54L159.64 38.82L159.80 38.12L160.14 38.51L159.94 37.32L159.76 37.27L160.45 36.84L160.40 36.38L160.51 36.45L160.49 35.55L160.68 35.21L160.72 34.50L160.44 34.57L161.16 33.68L161.37 33.97L160.69 33.44L161.20 32.80L161.51 32.71L161.85 31.71L161.09 31.72L161.20 31.11L161.33 31.24L162.05 30.79L161.57 30.23L161.63 29.48L162.32 29.59L162.80 28.92L162.87 28.34L162.68 27.64L162.85 27.62L163.12 27.64L162.77 26.57L163.21 26.09L163.72 25.83L163.04 25.76L163.40 25.69L163.79 25.07L164.04 24.15L164.17 24.16L164.32 23.95L164.40 23.13L164.40 22.98L164.49 22.68L165.18 22.39L165.13 21.49L165.28 21.03L165.94 20.47L165.51 20.68L165.88 20.45L166.38 19.29L166.13 19.27L166.56 19.27L166.78 18.65L167.00 18.10L166.71 18.07L167.53 19.09L167.44 19.65L167.21 19.71L167.83 20.59L167.71 20.08L168.03 21.10L168.88 21.47L168.99 22.19L168.60 22.19L169.39 22.85L169.45 22.54L168.84 23.16L169.59 23.73L170.07 24.07L170.08 24.78L169.54 24.86L170.37 25.74L170.17 25.95L170.25 25.93L170.77 26.73L170.31 26.80L170.88 27.24L171.50 27.59L171.33 27.70L171.72 28.25L172.02 28.72L171.33 29.74L172.31 29.36L172.41 29.63L171.91 30.72L171.93 31.19L172.12 31.14L172.45 31.83L173.05 32.49L173.00 32.22L173.07 32.94L173.49 33.45L173.30 33.75L173.20 34.23L173.38 34.93L174.21 34.59L174.41 35.36L174.35 35.62L174.48 35.87L174.21 36.46L174.89 37.18L174.70 37.13L174.50 37.35L175.31 38.16L175.52 38.79L175.18 39.04L175.75 39.19L175.35 39.51L175.47 40.24L176.19 40.39L176.07 41.03L176.46 40.98L176.55 42.08L176.30 42.20L176.96 42.27L177.00 42.91L176.56 43.23L177.10 43.74L177.27 43.84L177.57 44.56L177.22 45.24L177.38 45.40L177.56 45.58L177.40 45.96L177.99 46.46L177.95 47.11L177.92 47.25L178.49 47.59L178.47 47.82L178.15 48.64L178.86 48.81L178.62 49.35L178.59 49.40L178.89 49.96L179.20 50.84L179.08 50.96L179.37 51.63L179.43 51.73L179.37 51.84L179.35 52.16L179.41 53.22L179.60 53.56L179.95 53.39L180.08 54.11L179.82 54.83L179.95 55.20L180.40 55.22L180.52 55.56L180.22 56.42L180.80 56.65L180.78 56.94L180.71 57.62L180.62 57.50L181.03 58.36L181.12 58.19L180.98 58.63L181.33 59.54L181.26 59.39L181.61 60.27L181.65 60.33L181.47 60.60L181.53 61.61L181.60 61.84L182.01 61.81L181.58 62.49L181.88 62.98L182.06 63.33L181.77 63.67L181.95 64.40L182.17 64.70L181.99 64.63L182.23 65.04L182.16 65.48L182.71 66.39L182.87 66.32L182.68 67.09L182.86 67.37L183.11 67.72L182.73 68.04L183.05 68.38L183.13 68.99L183.39 69.16L183.19 69.52L183.12 70.10L183.52 70.31L183.61 70.77L183.81 71.57L183.69 71.79L183.43 72.05L183.78 72.58L183.66 72.82L184.05 73.32L183.75 73.90L184.17 73.85L183.91 74.58L184.26 74.64L184.32 75.26L184.43 75.51L184.28 75.84L184.64 76.55L184.76 76.68L184.45 77.12L184.92 77.92L184.71 78.14L184.94 78.34L185.19 78.82L184.99 79.54L185.14 79.70L185.10 80.13L185.41 80.64L185.32 80.70L185.29 81.39L185.44 81.91L185.75 82.28L185.45 82.34L185.66 82.88L185.60 83.46L186.00 83.72L185.84 83.99L185.89 84.35L186.15 84.81L185.99 85.47L186.27 85.57L186.56 86.20L186.58 86.42L186.52 87.06L186.75 87.23L186.84 87.62L186.55 87.92L186.75 88.34L186.62 89.08L186.75 89.32L186.85 89.86L187.23 90.22L187.24 90.38L187.15 90.83L187.08 91.18L187.44 91.52L187.31 92.12L187.34 92.58L187.47 92.85L187.63 93.26L187.86 93.67L187.57 94.11L187.80 94.42L187.83 95.08L187.77 95.15L187.88 95.63L188.18 95.99L188.22 96.65L188.11 96.94L188.48 97.48L188.26 97.60L188.65 98.27L188.69 98.67L188.71 98.72L188.74 99.22L188.70 99.84L188.78 100.20L189.01 100.32L189.12 101.07L189.19 101.14L189.18 101.55L189.04 101.93L189.49 102.54L189.38 103.06L189.60 103.39L189.36 103.64L189.79 104.05L189.59 104.43L189.94 104.72L189.91 105.16L189.97 105.76L190.11 106.26L189.94 106.38L190.15 107.01L190.39 107.17L190.26 107.82L190.36 108.16L190.45 108.47L190.78 108.92L190.69 109.24L190.88 109.57L191.09 110.08L190.94 110.46L191.08 111.07L191.06 111.41L191.35 111.87L191.43 112.17L191.45 112.49L191.52 112.89L191.68 113.47L191.64 113.85L191.97 114.04L192.09 114.38L192.21 114.97L192.24 115.43L192.29 115.67L192.39 116.26L192.58 116.54L192.58 116.98L192.68 117.38L192.82 117.70L192.79 118.17L192.86 118.34L192.99 118.94L193.11 119.25L193.26 119.57L193.41 120.08L193.29 120.49L193.46 121.04L193.65 121.44L193.59 121.86L193.98 122.18L193.93 122.47L193.96 122.94L194.02 123.38L194.32 123.55L194.31 123.99L194.48 124.35L194.52 124.88L194.54 125.41L194.60 125.86L194.95 126.23L194.91 126.59L195.02 126.82L195.04 127.22L195.31 127.72L195.27 128.10L195.48 128.45L195.52 128.77L195.67 129.30L195.72 129.80L195.90 129.98L196.13 130.62L196.14 131.02L196.43 131.27L196.33 131.58L196.42 132.05L196.64 132.64L196.79 132.84L196.84 133.45L196.98 133.76L196.99 134.14L197.22 134.42L197.40 135.03L197.41 135.26L197.53 135.71L197.81 136.20L197.91 136.56L197.84 137.04L198.23 137.34L198.28 137.72L198.38 137.99L198.36 138.37L198.70 138.87L198.85 139.17L198.78 139.61L198.93 140.09L199.08 140.64L199.23 140.80L199.53 141.26L199.68 141.56L199.62 142.24L199.80 142.59L200.15 142.82L200.32 143.20L200.41 143.57L200.68 144.06L200.64 144.42L200.85 144.78L200.89 145.18L201.11 145.74L201.22 146.21L201.57 146.58L201.79 146.79L201.74 147.16L201.99 147.58L202.17 148.00L202.38 148.38L202.55 148.80L202.80 149.18L202.90 149.73L203.24 149.98L203.21 150.37L203.40 150.77L203.80 151.28L203.84 151.71L204.17 152.02L204.32 152.51L204.50 152.90L204.74 153.38L204.89 153.68L205.03 154.20L205.20 154.57L205.49 154.93L205.69 155.30L205.72 155.61L205.88 155.96L206.18 156.50L206.40 156.93L206.54 157.36L206.66 157.76L207.14 158.03L207.20 158.42L207.28 158.84L207.52 159.37L207.91 159.60L207.91 160.00L208.34 160.39L208.48 160.89L208.56 161.38L208.83 161.71L209.16 162.15L209.27 162.52L209.55 162.82L209.67 163.24L209.80 163.73L210.29 164.22L210.45 164.41L210.69 164.92L210.89 165.35L211.21 165.75L211.30 166.22L211.58 166.37L211.75 166.87L212.03 167.28L212.21 167.71L212.65 168.01L212.69 168.49L213.12 168.92L213.26 169.36L213.57 169.58L213.76 170.07L214.27 170.53L214.44 170.87L214.83 171.42L214.93 171.59L215.23 172.14L215.68 172.60L215.90 172.83L216.14 173.23L216.59 173.74L216.75 174.10L217.25 174.39L217.46 174.95L217.75 175.25L218.02 175.71L218.47 176.12L218.74 176.60L219.08 177.00L219.66 177.22L219.87 177.67L220.41 178.06L220.70 178.42L221.22 179.01L221.69 179.42L222.01 179.83L222.43 179.97L222.89 180.49L223.46 180.93L223.97 181.19L224.27 181.56L224.94 182.22L225.43 182.36L226.13 182.77L226.64 183.18L227.28 183.74L227.90 184.16L228.55 184.37L229.42 184.77L230.09 185.32L230.69 185.62L231.42 186.05L232.47 186.60L233.08 186.87L234.07 187.43L234.99 187.63L235.84 188.14L236.60 188.42L237.56 188.86L238.70 189.41L239.80 189.66L241.33 190.21L242.68 190.62L244.44 190.82L246.50 191.38L249.12 191.77L252.52 192.00L259.90 192.60L262.60 193.11L263.20 192.86L263.80 192.23L264.40 192.39L265.00 192.92L265.60 192.44L266.20 193.18L266.80 192.71L267.40 192.90L268.00 192.21L268.60 193.08L269.20 192.24L269.80 193.18L270.40 193.17L271.00 193.07L271.60 192.84L272.20 192.61L272.80 192.78L273.40 193.04L274.00 192.57L274.60 192.52L275.20 192.96L275.80 193.14L276.40 192.46L277.00 192.35L277.60 193.15L278.20 193.20L278.80 192.96L279.40 193.08L280.00 193.17L280.60 192.32L281.20 192.34L281.80 192.90L282.40 192.40L283.00 193.18L283.60 193.16L284.20 192.62L284.80 192.77L285.40 192.70L286.00 192.64L286.60 192.52L287.20 192.77" stroke="#008000" stroke-width="2.6"/>
<path d="M64.00 192.69L64.60 192.48L65.20 192.56L65.80 192.70L66.40 192.25L67.00 192.50L67.60 192.25L68.20 192.81L68.80 192.95L69.40 192.68L70.00 192.30L70.60 192.97L71.20 192.48L71.80 192.10L72.40 193.04L73.00 192.93L73.60 192.39L74.20 192.84L74.80 192.78L75.40 192.32L76.00 192.44L76.60 192.36L77.20 192.84L77.80 192.15L78.40 192.60L79.00 192.34L79.60 192.68L80.20 192.82L80.80 192.62L81.40 192.66L82.00 192.92L82.60 192.63L83.20 192.75L83.80 192.34L84.40 192.61L85.00 192.53L85.60 192.42L86.20 192.79L86.80 192.10L87.40 192.66L88.00 192.71L88.60 192.44L89.20 192.82L89.80 192.26L90.40 192.33L91.00 192.60L91.60 192.49L92.20 192.14L92.80 192.65L93.40 192.11L94.00 192.25L94.60 192.82L95.20 192.73L95.80 192.10L96.40 192.58L97.00 193.07L97.60 192.24L98.20 192.82L98.80 192.41L99.40 192.59L100.00 193.07L100.60 192.17L101.20 192.45L101.80 192.94L102.40 192.18L103.00 192.72L103.60 192.99L104.20 192.22L104.80 192.98L105.40 192.95L106.00 193.08L106.60 192.23L107.20 192.49L107.80 192.53L108.40 192.58L109.00 192.72L109.60 192.72L110.20 192.53L110.80 193.10L111.40 192.92L112.00 192.77L112.60 192.13L113.20 192.45L113.80 192.37L114.40 192.52L115.00 192.41L115.60 192.27L116.20 192.34L116.80 192.69L117.40 192.23L118.00 192.26L118.60 192.24L119.20 192.32L119.80 192.96L120.40 193.06L121.00 192.85L121.60 193.09L121.96 190.58L123.76 190.16L125.63 189.63L127.08 189.29L128.47 189.02L129.90 188.40L130.69 188.12L131.48 187.68L132.35 187.29L133.03 186.76L133.68 186.50L134.17 186.19L134.67 185.72L135.05 185.18L135.48 184.95L135.81 184.41L135.92 184.05L136.08 183.57L136.29 183.26L136.44 182.79L136.58 182.52L136.69 182.08L136.89 181.77L136.91 181.36L137.00 180.83L137.22 180.60L137.33 180.11L137.73 179.68L137.91 179.41L138.26 179.03L138.59 178.39L139.04 177.97L139.46 177.63L139.62 177.37L140.17 176.88L140.44 176.45L140.78 176.02L141.08 175.72L141.40 175.17L141.47 174.90L141.62 174.43L141.61 174.00L141.73 173.72L141.79 173.18L142.15 172.76L142.06 172.37L142.19 172.20L142.40 171.70L142.42 171.30L142.47 170.90L142.63 170.60L142.68 170.05L142.72 169.73L142.82 169.40L142.67 168.85L142.94 168.48L142.83 168.01L143.05 167.80L143.06 167.29L143.21 166.83L143.29 166.53L143.40 166.08L143.39 165.81L143.55 165.28L143.45 164.93L143.56 164.62L143.80 164.16L143.83 163.59L144.03 163.19L143.91 162.99L144.15 162.51L144.26 162.01L144.43 161.69L144.38 161.43L144.39 160.91L144.64 160.58L144.72 160.06L144.76 159.69L144.98 159.29L144.96 158.97L145.08 158.61L145.24 158.12L145.29 157.59L145.32 157.27L145.66 156.89L145.76 156.39L145.91 156.05L145.86 155.66L146.00 155.18L146.10 155.04L146.30 154.55L146.43 154.22L146.52 153.78L146.66 153.37L146.66 153.03L146.90 152.44L147.00 151.99L146.91 151.57L146.99 151.18L147.30 150.79L147.47 150.58L147.40 149.96L147.62 149.79L147.71 149.24L147.95 148.97L147.95 148.41L148.15 148.14L148.13 147.84L148.32 147.29L148.63 146.95L148.49 146.39L148.87 146.24L148.75 145.61L149.06 145.21L149.18 144.80L149.19 144.60L149.48 144.00L149.68 143.62L149.62 143.35L149.84 142.80L149.91 142.55L150.05 142.02L150.18 141.69L150.16 141.31L150.26 140.83L150.61 140.36L150.59 140.12L150.76 139.75L150.69 139.42L150.85 138.76L150.88 138.35L151.01 138.15L151.14 137.61L151.05 137.44L151.19 136.95L151.36 136.54L151.40 136.07L151.67 135.78L151.50 135.31L151.82 135.00L151.76 134.56L151.73 134.12L151.97 133.55L151.93 133.26L152.12 132.77L152.13 132.45L152.22 132.22L152.22 131.80L152.42 131.29L152.44 131.03L152.65 130.53L152.61 130.20L152.79 129.83L152.88 129.24L152.84 128.86L153.02 128.37L152.93 128.20L152.85 127.64L153.12 127.46L153.20 126.94L153.11 126.46L153.41 126.12L153.39 125.65L153.37 125.16L153.50 124.92L153.43 124.53L153.55 123.94L153.76 123.62L153.71 123.32L153.88 122.90L153.88 122.38L153.91 122.06L154.10 121.58L153.99 121.17L154.06 120.88L153.97 120.46L154.12 120.04L154.13 119.65L154.42 119.37L154.53 118.91L154.56 118.67L154.59 118.22L154.53 117.79L154.48 117.21L154.76 116.98L154.58 116.45L154.67 115.97L154.98 115.76L154.81 115.34L154.79 114.87L155.15 114.42L155.03 114.11L154.95 113.62L155.33 113.14L155.32 112.80L155.34 112.34L155.34 111.93L155.57 111.52L155.64 111.29L155.70 110.89L155.68 110.58L155.51 110.04L155.53 109.64L155.90 109.39L155.68 108.82L156.05 108.53L156.07 108.19L155.83 107.68L156.22 107.45L155.98 106.72L156.04 106.48L156.31 105.96L156.43 105.66L156.46 105.47L156.53 105.03L156.40 104.42L156.49 103.94L156.50 103.89L156.47 103.14L156.63 102.85L156.83 102.40L156.72 102.12L156.72 101.58L157.00 101.30L156.99 101.02L157.09 100.39L157.22 99.94L157.08 99.55L157.22 99.35L157.32 98.93L157.46 98.41L157.31 98.05L157.53 97.86L157.66 97.17L157.46 96.75L157.60 96.38L157.88 96.26L157.85 95.86L157.66 95.48L157.75 95.10L158.11 94.45L157.85 94.16L157.94 93.74L158.29 93.18L158.13 93.02L158.18 92.45L158.30 92.30L158.34 91.51L158.49 91.11L158.65 90.75L158.40 90.52L158.39 90.13L158.54 89.82L158.56 89.38L158.57 89.08L158.71 88.37L158.64 87.99L158.73 87.55L158.72 87.31L158.98 87.11L158.85 86.52L159.04 85.96L159.35 85.87L159.15 85.30L159.25 84.76L159.35 84.29L159.27 84.03L159.56 83.58L159.74 83.23L159.39 82.69L159.81 82.59L159.59 82.29L159.74 81.79L159.91 81.47L159.94 81.13L159.95 80.62L159.76 80.00L160.06 79.67L159.86 79.45L160.20 79.13L160.40 78.54L160.18 78.24L160.27 77.88L160.48 77.37L160.63 77.13L160.40 76.51L160.34 76.29L160.76 75.84L160.48 75.04L160.90 74.91L160.69 74.53L161.09 74.30L160.69 73.72L161.10 73.33L161.06 72.87L160.89 72.32L161.03 71.94L161.24 71.81L161.39 71.06L161.17 71.01L161.13 70.40L161.56 69.97L161.38 69.53L161.54 69.13L161.77 68.86L161.86 68.54L161.89 68.28L161.75 67.61L162.06 67.45L162.01 66.99L162.17 66.79L162.16 66.31L161.92 65.51L162.39 65.59L162.40 65.10L162.49 64.23L162.43 63.94L162.61 63.93L162.67 63.26L162.57 62.69L162.59 62.68L162.62 61.85L162.41 61.95L162.78 61.51L162.44 61.12L162.77 60.66L162.83 60.35L162.91 59.86L162.79 59.23L163.10 58.58L163.24 58.73L163.48 57.83L163.34 57.88L163.47 57.57L163.14 56.94L163.54 56.28L163.30 55.99L163.80 55.38L163.95 55.55L163.43 54.77L163.53 54.38L163.77 54.24L163.71 53.56L164.27 53.17L163.78 53.10L164.38 52.49L164.56 52.08L164.46 51.52L164.49 51.13L164.73 50.78L164.50 50.62L164.59 50.35L164.54 49.88L164.93 49.46L164.61 48.86L164.65 48.59L164.99 48.30L164.88 47.96L165.15 46.97L165.33 47.23L165.22 46.78L165.67 46.22L165.76 45.49L165.45 45.24L165.56 44.90L166.11 44.29L166.16 44.16L165.86 43.42L165.89 43.31L166.17 43.30L166.58 42.57L166.20 42.38L166.72 42.07L166.69 41.65L166.61 40.99L166.88 40.22L166.90 40.39L167.05 39.86L166.81 39.27L167.13 38.85L167.72 38.31L167.79 38.11L167.12 37.57L167.27 37.17L167.32 36.96L167.95 36.72L168.16 36.36L168.18 35.28L168.41 35.34L168.20 35.03L168.14 34.14L168.87 34.18L168.61 33.47L168.41 33.26L168.74 32.75L168.46 32.44L169.40 31.74L168.90 32.05L169.07 31.52L169.72 30.47L169.79 30.76L169.10 29.80L169.89 29.82L169.68 29.01L169.34 28.84L170.02 28.92L170.20 28.06L170.46 27.84L169.60 27.64L170.43 27.12L169.80 26.78L170.24 25.89L170.45 25.50L170.23 25.28L170.57 24.68L170.67 24.67L170.58 24.34L171.01 23.25L170.50 22.82L170.76 22.85L171.61 22.88L171.04 22.51L171.28 21.85L171.75 21.01L172.47 20.79L172.59 20.03L173.58 19.69L173.21 20.21L173.82 19.21L174.96 18.97L175.50 18.58L175.70 18.10L175.97 18.35L176.14 18.55L176.31 19.75L176.44 20.07L177.08 20.07L177.37 20.34L177.59 20.77L178.10 20.91L178.06 21.19L178.54 22.34L178.80 22.74L178.87 23.06L179.27 23.71L179.07 23.65L179.64 24.54L179.19 24.27L179.89 24.84L179.60 25.27L179.64 25.38L179.99 26.24L180.09 26.07L180.65 26.54L181.18 26.96L181.38 28.01L180.85 28.27L181.70 28.79L181.28 28.86L181.81 29.28L181.96 29.94L182.38 29.86L182.16 30.81L182.51 31.28L182.71 31.58L183.03 32.07L182.39 32.15L182.83 32.42L183.37 32.45L183.30 33.39L183.40 33.86L183.30 33.71L183.37 34.87L183.66 34.67L183.66 34.88L183.86 35.44L183.85 36.06L184.11 36.80L184.35 36.83L184.62 37.34L184.74 37.37L184.85 37.99L184.86 38.89L185.28 38.52L185.13 39.15L185.49 39.56L185.59 40.30L185.51 40.26L185.98 41.07L185.40 41.34L186.15 41.44L185.89 42.32L185.90 42.50L185.99 42.93L186.35 43.14L186.06 44.08L186.70 44.43L186.86 44.79L186.53 44.76L186.60 44.98L186.88 45.36L186.65 46.03L187.01 46.34L186.85 46.74L187.24 47.17L187.41 47.70L187.21 47.90L187.29 48.51L187.93 48.72L188.07 49.03L187.74 49.80L188.17 50.30L187.95 50.77L188.23 51.17L188.53 51.20L188.78 51.60L188.68 51.87L188.63 52.17L188.62 52.78L188.96 53.22L188.72 54.02L189.17 54.08L189.12 54.42L189.50 55.00L189.54 55.49L189.42 55.76L189.30 55.91L189.40 56.74L189.40 56.70L189.65 57.09L189.73 57.79L190.21 57.87L190.35 58.61L189.99 58.92L189.98 59.37L190.62 59.83L190.24 59.87L190.66 60.65L190.35 60.66L190.42 61.00L190.79 61.44L190.94 62.07L191.01 62.58L190.80 62.95L190.99 63.31L191.10 63.73L191.02 64.38L191.37 64.33L191.52 64.82L191.73 65.22L191.67 65.96L191.92 66.15L191.63 66.52L191.91 66.78L191.71 67.17L192.09 67.48L192.12 67.95L192.08 68.39L192.13 68.93L192.51 69.52L192.47 69.68L192.67 70.05L192.68 70.74L192.68 71.05L192.95 71.24L192.98 71.71L192.88 72.12L193.35 72.52L192.98 73.14L193.03 73.34L193.52 73.76L193.53 74.12L193.47 74.73L193.79 75.03L193.74 75.43L193.60 75.51L194.00 76.01L194.09 76.51L193.97 77.11L194.31 77.52L194.35 77.95L194.59 78.19L194.61 78.36L194.29 79.03L194.70 79.41L194.69 79.77L194.75 80.32L194.85 80.41L194.81 80.74L195.04 81.48L195.16 81.59L195.42 82.34L195.31 82.38L195.29 82.69L195.74 83.19L195.78 83.94L195.90 84.33L195.68 84.35L195.98 84.89L196.13 85.31L196.15 85.50L196.13 86.26L196.09 86.58L196.14 87.11L196.50 87.24L196.49 87.53L196.64 88.15L196.51 88.62L196.94 89.07L196.82 89.47L196.84 89.51L197.18 89.90L196.99 90.56L197.10 90.77L197.18 91.41L197.45 91.65L197.47 92.17L197.58 92.54L197.91 92.97L198.00 93.15L197.98 93.54L198.16 94.16L198.27 94.45L198.28 95.00L198.27 95.17L198.27 95.59L198.55 96.09L198.72 96.36L198.51 96.94L198.66 97.29L198.71 97.90L198.87 98.23L198.90 98.53L199.23 98.76L199.32 99.45L199.54 99.61L199.60 100.01L199.69 100.50L199.63 100.88L199.63 101.39L199.74 101.76L199.89 102.02L200.00 102.47L200.33 103.08L200.38 103.40L200.68 103.77L200.65 104.08L200.92 104.58L200.77 104.94L201.12 105.39L201.05 105.56L201.40 106.20L201.41 106.55L201.65 106.88L201.71 107.38L202.05 107.61L202.21 108.17L202.08 108.67L202.38 108.77L202.50 109.23L202.60 109.57L202.71 110.07L202.93 110.52L203.30 111.03L203.23 111.41L203.56 111.86L203.68 111.97L203.63 112.33L203.85 112.76L203.86 113.26L204.16 113.53L204.36 114.03L204.43 114.54L204.36 114.79L204.72 115.29L204.62 115.68L205.01 116.24L205.06 116.58L205.14 116.75L205.31 117.38L205.56 117.78L205.55 118.22L205.62 118.40L205.79 119.01L205.92 119.25L206.17 119.54L206.23 120.27L206.37 120.54L206.49 121.04L206.48 121.39L206.64 121.72L206.74 122.26L206.94 122.59L206.93 122.76L207.13 123.41L207.37 123.57L207.28 124.14L207.61 124.46L207.60 124.99L207.81 125.37L207.95 125.59L208.01 126.21L208.19 126.38L208.40 126.78L208.31 127.45L208.41 127.78L208.56 128.11L208.67 128.44L209.03 128.97L209.03 129.33L209.18 129.56L209.30 130.05L209.47 130.42L209.54 130.85L209.73 131.24L209.82 131.72L209.89 132.23L210.05 132.43L210.15 132.97L210.22 133.36L210.48 133.85L210.59 133.99L210.82 134.57L210.87 134.93L210.99 135.20L211.06 135.70L211.31 136.20L211.36 136.48L211.48 136.98L211.59 137.42L211.93 137.64L211.94 138.15L211.94 138.61L212.31 138.90L212.35 139.25L212.49 139.60L212.53 140.09L212.78 140.39L212.96 140.79L213.09 141.16L213.31 141.76L213.44 141.95L213.49 142.53L213.47 142.91L213.65 143.22L213.95 143.74L214.06 144.06L214.06 144.42L214.29 144.89L214.55 145.41L214.47 145.64L214.66 146.00L214.96 146.52L214.95 146.93L215.19 147.26L215.49 147.78L215.44 148.22L215.82 148.46L216.01 148.83L216.17 149.31L216.21 149.82L216.34 150.15L216.70 150.49L216.75 150.83L217.04 151.22L217.42 151.60L217.57 152.21L217.78 152.36L217.94 152.78L218.22 153.33L218.58 153.80L218.81 154.21L219.16 154.48L219.42 154.93L219.63 155.33L219.87 155.70L220.09 156.11L220.58 156.45L220.81 156.97L221.00 157.37L221.47 157.79L221.61 158.21L222.03 158.50L222.22 158.97L222.60 159.23L222.72 159.57L223.00 160.08L223.31 160.58L223.78 160.96L223.98 161.33L224.23 161.61L224.41 161.97L224.75 162.44L224.95 162.95L225.35 163.26L225.48 163.76L225.74 164.02L226.21 164.58L226.28 164.97L226.65 165.22L227.00 165.77L227.08 166.09L227.48 166.62L227.78 166.88L227.86 167.31L228.11 167.72L228.38 168.14L228.86 168.41L228.90 168.82L229.43 169.42L229.54 169.81L229.79 170.15L230.02 170.46L230.47 170.77L230.75 171.31L231.15 171.79L231.28 172.14L231.56 172.41L232.05 172.88L232.21 173.25L232.52 173.74L232.87 174.05L233.40 174.52L233.62 174.98L234.16 175.20L234.39 175.61L234.76 176.00L235.19 176.49L235.62 176.97L235.95 177.36L236.48 177.64L236.81 178.06L237.30 178.58L237.65 178.93L238.00 179.38L238.52 179.75L238.99 180.19L239.59 180.37L239.88 180.78L240.49 181.18L240.91 181.71L241.41 182.15L242.10 182.61L242.68 182.94L242.99 183.19L243.54 183.71L244.30 183.96L244.72 184.62L245.34 185.01L245.80 185.20L246.29 185.57L247.03 186.12L247.70 186.50L248.45 187.01L249.12 187.25L249.84 187.66L250.60 187.96L251.45 188.59L252.47 189.00L253.40 189.31L254.44 189.71L255.64 190.05L256.78 190.46L258.56 191.03L260.24 191.42L262.71 191.79L266.83 192.07L271.92 192.58L272.60 192.45L273.20 192.83L273.80 192.73L274.40 192.54L275.00 192.95L275.60 192.57L276.20 192.41L276.80 192.65L277.40 192.37L278.00 192.62L278.60 192.31L279.20 192.55L279.80 192.33L280.40 193.09L281.00 192.55L281.60 192.53L282.20 192.40L282.80 193.03L283.40 192.38L284.00 192.16L284.60 192.31L285.20 192.37L285.80 193.02L286.40 193.10L287.00 192.54" stroke="#000080" stroke-width="2.6"/>
<path d="M64.00 192.43L64.60 192.51L65.20 192.62L65.80 192.10L66.40 192.29L67.00 192.11L67.60 192.17L68.20 192.75L68.80 192.84L69.40 192.68L70.00 192.20L70.60 192.37L71.20 192.72L71.80 192.42L72.40 192.19L73.00 192.74L73.60 192.25L74.20 192.46L74.80 192.20L75.40 193.04L76.00 192.71L76.60 192.72L77.20 193.06L77.80 192.74L78.40 193.05L79.00 192.70L79.60 192.94L80.20 193.05L80.80 192.32L81.40 192.96L82.00 193.02L82.60 192.23L83.20 192.22L83.80 192.24L84.40 192.58L85.00 192.50L85.60 192.46L86.20 192.93L86.80 192.20L87.40 192.82L88.00 192.10L88.60 192.82L89.20 192.90L89.80 192.36L90.40 192.28L91.00 193.02L91.60 192.91L92.20 192.58L92.80 192.12L93.40 192.25L94.00 192.50L94.60 192.83L95.20 192.39L95.80 193.04L96.40 192.76L97.00 192.16L97.60 193.09L98.20 192.39L98.80 192.97L99.40 192.86L100.00 192.84L100.60 192.42L101.20 193.03L101.80 192.26L102.40 192.77L103.00 193.07L103.60 193.00L104.20 192.28L104.80 192.24L105.40 192.92L106.00 192.92L106.60 192.45L107.20 192.91L107.80 192.74L108.40 193.06L109.00 192.77L109.60 192.95L110.20 192.67L110.80 192.87L111.40 192.48L112.00 192.99L112.60 192.42L113.20 192.93L113.80 192.46L114.40 192.15L115.00 192.97L115.60 192.64L116.20 192.37L116.80 192.64L117.40 192.18L118.00 192.44L117.92 191.54L121.84 191.13L125.27 190.62L128.22 190.41L130.47 189.96L132.47 189.42L133.98 189.07L135.43 188.56L136.52 188.23L137.95 187.86L138.97 187.61L140.13 187.09L141.32 186.74L142.33 186.36L143.33 185.78L144.19 185.53L144.93 184.98L145.62 184.65L146.36 184.16L146.96 183.76L147.23 183.52L147.88 182.97L148.33 182.75L148.67 182.37L149.18 181.77L149.53 181.50L149.94 181.13L150.36 180.77L150.41 180.27L150.85 179.95L151.29 179.36L151.59 179.16L151.93 178.68L152.11 178.21L152.35 177.75L152.52 177.55L152.91 177.10L153.01 176.56L153.47 176.18L153.43 175.79L153.79 175.51L154.05 175.20L154.00 174.66L154.33 174.31L154.51 173.84L154.55 173.47L154.80 173.12L154.97 172.81L155.15 172.17L155.21 171.84L155.22 171.42L155.29 171.22L155.40 170.77L155.56 170.29L155.70 169.81L155.69 169.63L156.00 169.11L155.88 168.61L156.00 168.45L156.29 167.82L156.45 167.58L156.53 167.24L156.52 166.61L156.55 166.43L156.84 165.85L156.94 165.56L156.95 164.96L157.17 164.77L157.24 164.26L157.49 163.89L157.50 163.41L157.63 162.98L157.93 162.80L157.91 162.36L158.30 161.78L158.49 161.41L158.43 161.16L158.56 160.72L158.86 160.36L159.08 159.83L159.01 159.44L159.23 158.98L159.50 158.77L159.48 158.20L159.67 157.91L159.94 157.56L160.00 157.09L160.26 156.83L160.46 156.45L160.57 155.94L160.70 155.62L160.90 155.04L160.80 154.74L161.06 154.19L161.25 153.85L161.46 153.35L161.62 153.13L161.63 152.75L161.88 152.15L162.06 151.77L161.93 151.40L162.15 151.25L162.22 150.75L162.34 150.20L162.64 149.94L162.74 149.50L162.64 149.09L162.81 148.75L162.83 148.17L163.13 147.86L163.11 147.44L163.19 146.96L163.42 146.58L163.48 146.23L163.52 146.01L163.71 145.54L163.78 145.00L163.81 144.77L163.81 144.41L164.03 143.85L164.11 143.38L164.20 143.08L164.40 142.62L164.27 142.32L164.41 141.89L164.60 141.41L164.78 141.12L164.91 140.83L164.96 140.40L165.04 139.78L164.88 139.35L165.08 139.21L165.26 138.79L165.25 138.34L165.35 137.81L165.50 137.62L165.34 137.05L165.52 136.58L165.48 136.17L165.68 136.01L165.86 135.51L165.85 135.23L165.79 134.75L165.88 134.40L165.98 133.94L166.17 133.48L166.27 133.03L166.42 132.85L166.51 132.32L166.37 131.82L166.59 131.59L166.50 131.17L166.46 130.85L166.64 130.29L166.72 130.06L166.98 129.58L166.96 129.08L166.82 128.72L167.17 128.28L166.96 127.95L167.05 127.67L167.07 127.12L167.13 126.74L167.26 126.13L167.35 126.00L167.42 125.35L167.57 125.20L167.52 124.72L167.60 124.44L167.58 123.92L167.94 123.63L167.80 123.12L167.81 122.76L168.05 122.18L168.03 121.79L168.22 121.57L168.21 121.22L168.26 120.61L168.36 120.40L168.22 119.93L168.50 119.64L168.39 118.92L168.55 118.73L168.54 118.42L168.74 118.07L168.54 117.34L168.66 116.95L168.73 116.62L169.04 116.23L169.12 115.73L169.19 115.47L169.07 115.14L169.06 114.77L169.07 114.12L169.44 114.00L169.32 113.48L169.30 112.98L169.56 112.54L169.40 112.14L169.43 111.82L169.49 111.64L169.90 110.98L169.86 110.70L169.79 110.21L169.89 109.98L170.00 109.49L170.01 109.12L169.94 108.77L170.14 108.17L170.11 107.93L170.34 107.70L170.28 107.02L170.55 106.67L170.35 106.44L170.67 105.88L170.78 105.40L170.49 105.05L170.93 104.79L170.68 104.15L170.86 103.94L171.09 103.59L171.14 103.01L171.07 102.83L171.02 102.17L171.33 102.08L171.41 101.51L171.48 100.92L171.56 100.87L171.39 100.09L171.47 100.02L171.69 99.53L171.51 98.91L171.91 98.77L171.80 98.51L171.97 97.88L171.90 97.46L171.85 97.17L172.03 96.83L172.27 96.20L172.34 95.74L172.32 95.47L172.43 95.22L172.60 94.78L172.38 94.14L172.40 93.71L172.54 93.65L172.59 93.08L172.75 92.66L172.76 92.48L172.91 91.84L173.12 91.52L173.10 90.92L173.33 90.87L173.07 90.16L173.21 90.14L173.15 89.66L173.26 88.94L173.26 88.86L173.32 88.25L173.81 87.97L173.91 87.51L173.98 87.31L173.65 86.53L173.95 86.40L173.94 85.93L174.20 85.27L174.04 85.04L174.11 84.77L174.46 84.08L174.42 83.66L174.49 83.30L174.34 83.21L174.28 82.88L174.58 82.55L174.80 82.01L174.48 81.52L174.80 81.35L174.87 80.68L174.87 80.50L175.23 80.10L175.03 79.67L175.19 78.98L175.22 78.97L175.14 78.05L175.61 77.85L175.56 77.53L175.31 77.12L175.60 76.50L175.58 76.53L176.02 75.93L175.76 75.77L175.85 75.13L175.91 74.96L175.78 74.48L175.81 73.74L176.42 73.40L176.27 73.29L176.32 72.90L176.65 72.44L176.60 71.69L176.55 71.23L176.34 71.12L176.68 70.61L176.57 70.48L176.61 70.13L176.87 69.68L176.66 69.24L176.97 68.83L176.86 68.24L177.14 67.62L177.33 67.31L177.46 67.18L177.35 66.40L177.20 66.06L177.70 65.84L177.93 65.45L177.67 65.04L177.83 64.74L177.81 64.07L177.79 63.74L178.30 63.25L178.02 62.96L178.40 62.60L178.54 62.46L177.99 61.88L178.31 61.64L178.69 61.09L178.78 60.95L178.81 60.19L178.79 59.78L178.64 59.57L178.65 59.34L178.86 58.62L178.82 58.11L179.11 57.98L179.38 57.33L178.93 57.31L179.08 56.87L179.35 56.52L179.40 55.81L179.20 55.16L179.88 54.74L179.52 54.61L179.81 54.57L179.44 54.09L179.70 53.86L179.62 53.29L179.91 52.93L179.89 52.18L180.25 51.93L180.10 51.31L180.38 50.87L180.46 50.83L180.70 50.44L180.13 49.57L180.36 49.11L180.46 49.34L180.70 48.50L180.45 48.02L180.93 47.63L181.12 47.33L180.93 47.15L180.86 46.48L181.32 45.96L180.96 45.53L181.02 45.66L181.52 44.88L181.37 44.35L181.40 44.33L181.45 44.07L181.52 43.19L181.79 43.26L181.92 42.36L181.42 42.49L181.99 42.07L181.69 41.83L181.87 40.99L182.11 41.06L182.49 40.01L181.73 39.52L182.14 39.14L182.52 39.31L181.90 38.86L182.72 38.67L182.55 38.01L182.59 37.34L182.60 37.10L182.55 37.10L182.98 36.38L183.04 35.59L182.56 35.13L183.43 34.68L182.69 35.14L183.05 34.15L182.75 33.90L183.59 33.58L183.17 32.79L183.53 33.06L183.23 32.27L184.16 31.48L183.68 31.32L183.48 30.63L184.48 30.75L184.03 29.89L184.04 30.16L183.93 29.43L184.30 29.57L184.97 28.88L184.82 28.60L184.55 27.75L185.46 27.46L184.86 26.81L185.04 26.16L185.89 26.31L185.74 26.43L185.74 25.36L185.80 25.55L186.04 25.21L186.03 24.53L186.47 23.96L186.61 23.95L187.28 22.75L187.43 22.27L187.01 22.55L187.85 22.22L187.49 21.60L188.55 20.61L187.96 20.73L188.38 20.62L188.47 20.44L189.01 19.77L189.66 19.47L189.72 19.07L189.48 17.81L190.00 18.10L190.68 18.23L190.59 18.31L190.97 19.18L190.24 19.66L190.89 20.68L191.62 21.00L190.91 20.35L191.05 21.59L192.15 22.15L192.29 21.98L192.58 22.03L191.97 22.76L192.63 23.44L192.72 23.17L192.89 23.81L192.68 24.81L192.56 25.17L193.24 25.71L193.89 25.35L193.07 26.16L194.13 26.07L193.86 27.26L193.91 27.81L194.04 27.24L194.72 27.93L194.89 28.14L195.03 29.09L194.75 28.91L195.21 29.65L194.72 30.48L195.58 29.99L195.37 31.19L195.08 31.68L195.86 31.63L196.08 32.10L195.51 32.10L196.14 32.45L195.90 32.90L196.20 33.77L195.80 34.49L196.01 34.24L196.07 35.10L196.55 35.53L196.42 35.57L196.88 36.32L196.67 36.28L196.91 36.78L197.34 37.47L197.14 38.05L197.58 37.74L197.81 38.94L197.61 39.33L197.30 39.15L197.48 39.76L198.23 39.78L197.65 40.33L198.46 40.59L198.23 41.40L198.21 41.91L198.72 41.70L198.19 42.77L198.56 43.17L198.92 43.63L198.58 43.44L198.53 43.72L199.39 44.58L199.13 44.93L199.10 45.31L199.50 45.37L199.15 45.93L199.56 46.79L199.49 47.05L199.27 47.49L200.05 47.56L199.51 47.74L199.57 48.36L199.95 49.12L200.17 49.10L200.12 50.01L199.97 49.87L200.04 50.23L200.48 50.89L200.77 51.56L200.53 51.43L200.24 51.76L201.04 52.50L200.66 52.94L200.48 53.33L200.93 53.77L200.77 54.16L200.71 54.20L200.98 54.88L201.14 55.09L200.99 55.92L201.10 55.93L201.71 56.47L201.79 57.01L201.43 57.30L201.47 57.88L201.30 57.88L201.39 58.61L201.51 58.65L201.73 59.15L201.95 59.46L202.27 60.05L201.82 60.75L202.42 61.06L201.89 61.25L202.52 61.55L202.17 61.88L202.18 62.44L202.21 62.95L202.21 63.01L202.42 63.94L202.82 64.10L202.82 64.69L202.80 65.13L202.58 65.31L203.04 65.44L202.57 66.05L202.98 66.75L202.96 66.65L202.84 67.48L203.14 67.78L203.28 68.11L203.03 68.61L203.28 69.07L203.62 69.47L203.57 69.57L203.64 69.98L203.78 70.31L203.82 71.07L203.60 71.29L203.86 71.66L203.89 72.32L203.77 72.54L204.08 73.05L204.21 73.19L203.91 73.65L203.99 74.25L204.11 74.50L204.38 74.76L204.30 75.21L204.04 75.50L204.25 75.84L204.51 76.67L204.25 76.93L204.42 77.53L204.58 77.45L204.71 77.92L204.76 78.25L204.97 79.14L204.93 79.38L205.06 79.67L205.19 80.06L204.86 80.69L205.09 81.01L205.00 81.42L205.15 81.47L205.40 81.93L205.64 82.72L205.30 82.75L205.75 83.32L205.66 83.95L205.65 84.22L205.93 84.53L205.62 85.04L205.96 85.47L206.17 85.89L206.19 85.99L205.91 86.42L206.23 87.00L206.49 87.16L206.29 87.59L206.49 88.09L206.39 88.54L206.63 88.90L206.78 89.09L206.95 89.66L206.84 90.13L207.13 90.43L207.06 91.00L207.19 91.45L206.89 91.67L207.25 91.95L207.27 92.37L207.55 92.92L207.52 93.15L207.49 93.48L207.61 94.09L207.50 94.63L207.69 95.11L207.87 95.14L207.76 95.59L208.06 95.92L208.02 96.67L208.25 96.95L208.16 97.44L208.09 97.89L208.39 98.16L208.56 98.59L208.40 98.69L208.59 99.25L208.41 99.64L208.61 100.14L208.83 100.30L208.71 100.75L208.90 101.43L208.97 101.52L209.01 101.99L209.08 102.60L209.27 103.03L209.40 103.25L209.35 103.91L209.38 103.98L209.64 104.36L209.67 105.06L209.61 105.14L209.68 105.55L209.59 106.09L209.71 106.66L210.09 107.03L209.96 107.21L210.05 107.61L210.05 107.97L210.33 108.67L210.39 108.71L210.34 109.48L210.24 109.79L210.50 110.03L210.63 110.50L210.55 111.04L210.82 111.23L210.85 111.84L211.01 112.20L211.03 112.52L211.20 113.04L211.03 113.25L211.04 113.71L211.46 114.07L211.50 114.41L211.61 115.04L211.49 115.20L211.46 115.71L211.78 116.00L211.90 116.32L211.69 117.02L211.78 117.29L211.92 117.69L211.99 118.28L212.31 118.56L212.21 119.08L212.22 119.47L212.52 119.59L212.47 120.26L212.49 120.43L212.82 120.72L212.94 121.31L212.75 121.79L212.91 121.98L212.97 122.60L213.14 122.95L213.07 123.14L213.33 123.70L213.35 124.14L213.49 124.46L213.62 124.75L213.70 125.24L213.73 125.76L213.93 126.03L213.92 126.54L214.10 126.84L214.04 127.43L214.34 127.80L214.26 128.05L214.27 128.39L214.35 128.87L214.43 129.34L214.71 129.79L214.78 130.25L214.78 130.51L214.92 130.86L215.01 131.29L214.99 131.60L215.25 132.06L215.39 132.59L215.57 132.89L215.67 133.41L215.65 133.62L215.70 134.01L216.02 134.36L215.99 134.86L215.92 135.43L216.09 135.60L216.37 136.03L216.33 136.57L216.65 136.80L216.51 137.31L216.59 137.71L216.78 138.08L217.08 138.63L217.13 138.97L217.21 139.35L217.29 139.70L217.36 139.98L217.70 140.40L217.60 140.76L217.86 141.35L217.99 141.84L218.04 142.09L218.18 142.57L218.41 142.78L218.46 143.34L218.59 143.64L218.71 144.13L219.06 144.62L219.10 144.88L219.14 145.28L219.45 145.59L219.56 146.11L219.82 146.35L220.01 146.97L220.02 147.26L220.19 147.64L220.45 147.98L220.63 148.43L220.82 148.97L221.03 149.33L221.07 149.63L221.27 150.04L221.38 150.46L221.78 150.85L221.67 151.25L222.03 151.83L222.18 152.02L222.40 152.65L222.55 152.76L222.89 153.22L223.22 153.57L223.23 154.14L223.60 154.39L223.87 154.95L223.94 155.37L224.20 155.83L224.42 155.99L224.92 156.37L224.91 156.91L225.13 157.18L225.41 157.64L225.88 157.97L226.14 158.64L226.19 158.89L226.51 159.19L226.87 159.59L227.07 160.22L227.29 160.54L227.68 161.01L227.81 161.43L227.98 161.66L228.34 162.22L228.53 162.47L228.95 163.05L229.25 163.43L229.47 163.63L229.70 164.21L230.02 164.35L230.25 164.80L230.44 165.21L230.72 165.72L230.99 166.12L231.30 166.49L231.62 166.90L231.82 167.35L231.94 167.73L232.25 168.18L232.60 168.47L232.80 168.89L233.02 169.43L233.29 169.73L233.72 170.10L234.01 170.53L234.21 171.01L234.66 171.42L234.88 171.71L235.31 172.22L235.53 172.42L235.83 172.86L236.09 173.43L236.50 173.70L236.68 174.03L237.26 174.43L237.61 175.00L237.84 175.27L238.09 175.80L238.37 175.98L238.89 176.38L239.19 176.96L239.72 177.26L240.10 177.69L240.36 177.99L240.76 178.48L241.14 178.88L241.62 179.22L241.81 179.68L242.43 179.97L242.86 180.39L243.10 180.91L243.69 181.36L244.20 181.82L244.55 182.07L245.10 182.51L245.63 182.86L246.16 183.25L246.52 183.76L247.24 184.21L247.78 184.47L248.39 184.95L249.02 185.15L249.48 185.67L250.42 186.13L250.89 186.37L251.64 186.90L252.40 187.18L253.26 187.65L254.37 188.15L255.16 188.44L256.14 188.98L257.23 189.19L258.22 189.82L259.38 190.24L260.81 190.43L262.27 190.79L264.33 191.41L266.80 191.69L270.84 192.11L275.90 192.46L276.60 193.04L277.20 192.93L277.80 192.46L278.40 192.27L279.00 192.85L279.60 193.09L280.20 192.76L280.80 192.64L281.40 192.59L282.00 192.20L282.60 192.53L283.20 192.40L283.80 193.05L284.40 192.93L285.00 192.61L285.60 192.34L286.20 192.95L286.80 192.61L287.40 192.60" stroke="#8000ff" stroke-width="2.6"/>
<path d="M64.00 192.35L64.60 192.57L65.20 193.29L65.80 192.30L66.40 192.74L67.00 193.29L67.60 192.34L68.20 192.58L68.80 192.41L69.40 193.04L70.00 192.78L70.60 193.13L71.20 192.58L71.80 192.96L72.40 192.85L73.00 193.11L73.60 193.13L74.20 192.82L74.80 192.37L75.40 192.79L76.00 192.74L76.60 192.85L77.20 192.71L77.80 193.14L78.40 193.12L79.00 193.26L79.60 193.23L80.20 192.72L80.80 192.35L81.40 192.30L82.00 192.70L82.60 192.33L83.20 192.47L83.80 193.13L84.40 192.98L85.00 193.14L85.60 193.00L86.20 192.76L86.80 192.48L87.40 192.93L88.00 192.84L88.60 192.86L89.20 192.88L89.80 192.78L90.40 192.85L91.00 192.84L91.60 192.42L92.20 193.04L92.80 192.84L93.40 192.87L94.00 193.19L94.60 192.98L95.20 192.72L95.80 192.88L96.40 192.69L97.00 192.83L97.60 192.91L98.20 193.16L98.80 192.65L99.40 193.09L100.00 193.11L100.60 192.74L101.20 192.40L101.80 193.27L102.40 192.81L103.00 192.93L103.60 193.26L104.20 192.59L104.80 192.95L105.13 192.61L108.80 192.04L112.56 191.42L115.29 191.32L117.44 190.89L119.12 190.54L120.84 189.83L122.91 189.81L125.19 189.25L127.43 188.74L129.28 188.41L130.82 188.04L132.13 187.94L132.78 187.17L133.97 186.69L134.83 186.81L135.84 185.92L136.74 185.44L137.04 185.35L137.66 185.00L138.46 184.68L138.89 184.03L139.46 183.59L139.82 183.16L140.55 183.08L141.20 182.34L141.44 182.05L141.76 182.02L141.98 181.32L142.58 181.06L142.77 180.30L143.05 180.19L143.77 179.42L144.00 179.47L144.11 178.69L144.12 178.59L144.92 177.95L145.18 177.86L145.44 177.60L145.74 176.58L145.55 176.48L145.87 175.82L146.17 175.92L146.45 175.54L146.68 174.76L146.96 174.21L147.41 174.31L147.48 173.95L147.73 173.32L148.06 172.81L148.11 172.44L148.41 171.85L148.65 172.01L148.41 171.62L148.99 170.98L148.78 170.46L149.20 170.14L149.42 169.73L149.69 169.23L149.96 169.09L149.92 168.57L150.14 167.79L150.17 168.03L150.77 167.45L150.97 166.69L150.97 166.18L150.99 166.16L151.10 165.55L151.09 165.57L151.76 164.81L151.46 164.54L152.15 163.82L151.94 164.00L152.25 163.38L152.13 162.58L152.15 162.68L152.72 162.28L152.57 161.48L153.05 161.19L152.82 161.07L153.05 160.51L153.00 159.82L153.64 159.69L153.82 159.55L153.69 158.81L153.55 158.60L154.30 158.30L153.86 157.56L154.52 157.32L154.40 156.74L154.58 156.43L154.56 155.77L154.85 155.98L154.83 155.17L154.86 154.71L155.35 154.60L155.28 154.41L155.41 153.59L155.17 153.02L155.82 152.68L155.76 152.45L155.87 152.38L155.74 151.79L155.82 151.33L156.02 150.61L156.49 150.18L156.47 150.19L156.33 149.57L156.86 149.11L156.93 148.56L156.83 148.81L156.96 147.83L156.95 147.87L157.33 146.96L157.26 146.91L157.91 146.36L157.79 145.88L157.83 146.04L157.84 145.17L158.14 144.70L158.13 144.61L158.39 143.86L158.42 143.94L158.56 143.19L158.75 143.22L159.16 142.56L159.40 142.17L159.27 141.56L159.13 141.18L159.65 140.66L159.27 140.53L159.52 139.93L159.77 139.97L159.67 139.49L160.18 139.02L160.05 138.16L160.41 138.08L160.06 138.03L160.81 137.60L160.38 136.67L160.42 136.36L161.01 136.24L160.61 135.46L160.96 135.24L161.30 134.85L160.88 134.73L161.13 133.97L161.23 133.87L161.21 133.20L161.37 132.93L161.36 132.40L161.54 131.76L161.94 131.52L161.69 131.50L162.05 130.77L162.56 130.60L162.22 130.39L162.31 129.65L162.54 129.60L162.57 128.87L163.04 128.62L162.97 127.83L163.00 127.45L162.97 127.17L163.22 126.53L163.45 126.68L163.24 126.35L163.69 125.79L163.73 125.46L163.65 124.59L163.85 124.26L163.91 123.91L164.15 123.52L163.58 123.00L163.65 123.06L164.25 122.85L164.23 122.31L164.57 121.45L164.09 121.24L164.29 120.77L164.38 120.52L164.93 119.90L164.87 119.80L165.02 119.06L165.25 118.86L164.86 118.12L165.27 118.09L164.85 117.91L165.21 117.58L165.11 116.66L165.32 116.42L165.21 116.43L165.31 115.36L166.20 115.31L165.63 114.80L166.14 114.27L166.07 114.07L165.84 114.11L166.40 113.71L166.45 113.26L166.04 112.12L166.28 112.09L167.06 112.11L166.91 110.98L166.80 111.21L166.57 110.82L167.44 109.76L167.32 109.48L167.29 109.47L167.06 109.18L167.20 108.25L167.09 107.98L167.66 107.78L167.95 107.48L167.62 107.21L168.10 106.29L168.01 105.96L168.13 105.87L167.86 105.65L167.88 104.47L168.85 104.78L168.68 104.48L168.78 104.12L168.72 102.94L169.23 102.68L168.92 102.34L168.95 102.43L169.31 101.47L169.27 101.30L169.77 100.73L169.13 100.09L169.89 100.10L169.46 100.16L170.28 99.09L170.16 99.02L170.49 98.66L170.41 97.95L170.62 98.16L170.42 97.59L170.56 96.72L170.68 96.85L170.85 96.54L170.88 95.27L171.19 94.84L171.21 94.74L171.61 94.06L171.52 94.22L171.16 93.63L171.19 93.15L171.30 93.02L172.10 92.98L171.93 92.60L172.37 92.16L172.01 91.62L172.34 90.39L172.64 90.44L172.26 89.81L172.73 89.71L172.64 89.03L173.07 88.53L173.09 88.13L172.71 87.82L172.64 88.05L172.85 86.88L173.49 87.04L173.81 86.82L172.89 86.21L173.13 85.64L174.17 85.06L173.80 85.07L173.76 84.21L173.60 84.32L174.41 83.36L173.60 83.45L174.36 83.08L173.97 83.03L174.87 82.13L175.04 81.91L174.97 80.84L174.80 80.38L174.46 80.43L175.42 80.01L175.64 79.24L175.05 78.82L175.08 78.60L175.25 77.94L175.95 78.40L175.03 77.21L175.17 77.63L175.70 76.99L175.79 76.91L175.91 76.31L176.60 75.20L175.71 75.83L176.55 74.56L176.17 73.89L176.04 74.05L176.45 73.92L176.94 73.34L177.35 72.92L176.59 72.64L176.91 72.45L177.18 71.82L176.69 71.71L177.87 70.73L177.87 70.38L177.52 70.66L177.38 69.28L177.60 68.80L177.55 68.34L177.61 68.76L177.71 68.68L177.62 67.65L177.79 67.83L178.62 66.24L178.19 65.87L177.83 66.61L178.46 66.39L179.03 65.61L179.05 64.63L178.48 63.91L178.56 64.75L179.62 63.34L178.60 62.58L178.52 62.41L180.04 63.06L179.56 61.52L179.31 61.89L178.94 61.42L180.21 61.20L180.19 61.00L179.48 59.37L179.64 60.44L179.50 59.14L179.53 59.19L180.20 58.82L181.07 57.66L179.79 57.18L180.11 56.74L180.12 56.48L180.56 55.82L181.41 56.59L181.19 55.74L181.09 54.99L180.36 55.49L181.55 54.61L181.37 53.89L182.04 53.96L181.18 53.56L181.66 53.37L181.53 53.33L182.29 51.42L181.20 52.06L181.56 50.76L182.23 50.63L182.63 50.09L181.28 50.31L182.71 49.20L182.89 49.65L182.18 49.24L182.66 48.68L182.53 48.54L183.23 46.92L183.01 47.59L182.35 47.27L181.84 46.88L182.40 45.22L183.02 46.10L182.28 45.85L182.59 44.91L182.54 45.28L183.37 44.22L182.85 42.81L183.35 43.95L184.05 43.83L183.28 43.01L183.01 42.67L183.12 41.96L182.58 41.61L183.44 40.37L183.04 39.93L184.35 40.00L183.58 40.67L183.30 39.72L182.91 38.01L183.64 37.66L183.84 38.51L184.84 37.39L184.42 37.96L183.88 36.82L184.14 37.13L184.78 36.00L183.93 36.45L184.79 36.01L183.87 35.47L184.57 33.74L185.52 34.49L183.91 34.35L183.75 32.41L185.26 31.94L185.67 31.86L184.74 31.71L185.86 31.05L184.91 31.94L186.20 29.94L184.62 29.58L185.37 30.87L186.00 30.49L185.26 28.78L186.13 29.87L184.76 28.25L185.99 28.35L185.71 28.53L185.58 26.19L185.73 27.13L185.60 26.17L185.59 25.67L185.46 25.06L187.32 25.63L187.42 25.33L186.63 25.29L186.79 24.48L186.36 24.15L187.21 22.68L188.16 22.78L187.67 22.97L188.77 22.88L187.78 21.66L187.12 21.22L188.57 22.14L189.20 20.33L188.26 19.75L189.83 19.18L190.89 19.47L191.42 18.30L193.80 18.60L197.26 18.52L198.59 19.71L198.57 19.02L199.58 19.95L198.69 20.83L200.61 19.97L200.14 21.06L199.87 21.70L200.86 21.02L201.94 23.39L201.89 21.82L201.23 22.60L201.93 23.10L202.39 23.42L201.22 25.17L201.55 25.60L202.82 24.24L202.55 24.93L203.34 26.44L202.08 25.51L202.54 27.17L202.51 27.40L203.73 27.86L204.16 27.99L204.39 28.95L202.54 28.97L203.07 28.67L202.87 30.13L204.19 29.89L203.82 31.55L203.25 30.55L203.67 32.44L205.33 31.56L204.04 31.48L205.58 32.50L205.76 32.81L205.49 33.54L205.51 34.05L204.98 34.44L205.96 35.63L205.24 35.18L206.27 34.86L206.06 35.71L206.21 36.51L206.49 37.44L205.43 36.01L207.20 37.68L207.14 38.29L205.80 38.01L206.63 38.99L206.36 39.55L207.38 39.19L206.67 39.47L206.85 39.55L207.34 39.98L207.12 40.91L207.44 41.25L207.49 41.58L207.88 42.45L208.77 43.00L209.02 43.93L208.14 43.35L208.84 44.26L208.27 43.75L208.23 44.63L208.80 44.61L210.01 44.61L209.27 45.22L209.76 46.64L208.65 46.07L208.80 46.86L209.82 47.69L210.49 47.06L209.39 47.92L210.27 48.35L210.92 48.32L209.62 50.16L210.18 49.43L209.93 49.79L210.83 50.25L209.79 50.18L209.97 51.24L211.36 52.48L211.30 51.88L210.21 52.95L211.69 52.78L211.66 53.05L210.46 53.85L211.29 53.59L211.32 54.09L210.90 55.24L211.74 55.87L211.86 55.39L211.04 56.87L212.00 56.79L212.26 56.78L211.07 57.36L211.63 57.89L212.55 57.74L212.46 58.65L211.97 59.20L211.98 58.74L211.99 59.91L212.70 59.94L212.06 60.08L212.23 60.99L211.61 61.55L212.20 62.22L212.42 61.50L212.07 62.00L212.04 62.61L213.10 63.43L212.48 63.27L212.24 64.21L212.94 64.23L213.49 65.47L212.43 64.88L213.54 66.38L213.36 65.55L212.63 66.24L213.79 66.62L213.82 67.80L213.52 67.94L212.72 68.73L213.87 68.59L212.88 69.19L213.95 68.87L212.94 69.81L214.23 70.02L213.30 70.65L214.28 71.18L213.68 71.77L214.29 71.81L213.34 71.85L214.40 72.52L213.97 73.22L213.58 73.00L214.50 73.17L214.43 74.77L214.51 74.38L214.09 75.20L214.80 75.97L214.89 75.51L214.26 76.79L214.54 77.04L214.22 76.58L214.35 76.99L214.52 77.92L215.11 78.29L215.19 78.70L214.80 78.82L215.46 79.53L215.29 79.58L215.54 80.44L214.76 80.92L215.36 81.48L215.74 81.63L215.68 81.69L216.03 82.31L215.37 82.67L216.17 83.10L216.10 83.49L215.65 83.94L215.90 84.29L215.99 84.11L216.72 85.28L216.29 85.67L216.73 85.99L217.00 85.75L216.27 87.07L216.50 86.82L216.26 87.49L217.16 88.24L217.45 88.66L216.90 89.01L216.79 89.43L217.38 89.04L217.11 89.38L217.29 90.03L217.17 90.71L217.69 90.53L217.94 91.25L218.03 92.07L218.14 92.00L217.78 92.57L218.44 93.42L218.27 93.68L218.72 93.58L218.69 94.18L218.10 94.11L218.83 94.66L218.21 95.62L219.05 95.67L219.31 95.94L219.14 96.75L219.38 97.38L219.55 97.52L219.36 97.99L219.68 98.03L219.63 98.81L219.72 98.77L219.71 99.00L219.85 99.36L219.52 100.53L219.97 100.21L219.88 100.94L219.97 101.05L220.69 102.11L220.73 102.63L220.47 102.32L220.55 103.29L220.74 103.40L220.71 103.45L220.82 104.17L220.92 104.69L221.15 104.85L220.73 105.37L221.38 106.17L220.87 106.20L221.33 106.37L221.35 106.75L221.71 107.71L221.68 108.07L221.33 108.60L221.48 108.74L221.88 108.96L221.77 109.30L221.97 109.92L222.49 110.26L221.86 110.85L222.45 110.61L222.51 111.35L222.35 111.56L222.52 112.37L223.01 112.94L222.47 113.39L222.68 113.38L222.76 114.07L223.35 114.27L223.34 114.21L223.24 115.15L223.70 115.07L223.07 116.13L223.49 115.99L223.86 116.54L223.88 116.62L223.43 117.38L223.48 117.75L224.29 118.59L224.04 118.75L223.84 118.71L223.97 119.47L224.64 119.90L224.42 120.22L224.40 120.63L224.34 121.25L224.44 121.23L225.00 122.16L224.82 122.52L224.77 122.94L225.38 123.38L225.27 123.50L225.17 123.90L225.54 124.14L225.34 124.85L225.24 124.76L225.34 125.28L225.42 125.73L225.97 126.38L226.05 126.53L226.13 126.79L226.23 127.09L226.10 127.91L226.03 127.96L226.30 128.92L226.35 129.35L226.68 129.34L226.73 129.64L226.74 130.02L227.03 130.27L227.03 131.24L227.03 131.31L226.91 131.61L226.95 132.12L227.57 132.25L227.61 133.11L227.39 133.37L227.41 133.75L227.40 134.38L227.87 134.28L227.77 134.77L227.99 135.53L228.22 135.67L228.25 136.17L227.95 136.43L228.44 136.76L228.26 137.34L228.10 137.89L228.84 138.15L228.61 138.90L228.43 138.93L228.68 139.74L228.82 139.45L228.86 140.35L229.18 140.77L229.34 141.31L229.44 141.62L229.72 141.55L229.83 142.05L229.68 142.75L229.72 143.05L229.55 143.22L229.67 143.83L230.08 144.17L229.92 144.40L230.25 144.79L230.20 145.53L230.16 145.49L230.64 146.13L230.60 146.94L230.45 146.92L231.21 147.11L231.25 147.64L230.88 147.87L231.12 148.77L231.39 149.24L231.72 149.19L231.91 149.97L232.05 149.96L231.82 150.40L232.12 150.67L232.28 151.61L232.65 152.02L232.57 151.87L232.58 152.33L233.22 153.01L232.82 153.48L233.31 153.89L233.38 154.22L233.35 154.89L234.14 155.03L233.80 155.25L234.28 155.72L234.40 156.45L234.69 156.40L234.58 156.71L234.97 157.57L235.42 157.68L235.73 158.47L235.94 158.33L236.04 158.77L236.07 159.57L236.80 159.48L236.66 160.00L237.00 160.88L236.85 160.94L237.65 161.52L237.35 162.07L237.99 162.32L238.11 162.60L238.09 162.82L238.38 163.17L238.76 164.02L239.34 164.52L239.45 164.40L239.36 165.01L240.06 165.53L240.21 165.83L240.65 165.88L240.59 166.62L240.75 167.13L241.13 167.18L241.33 168.01L241.51 168.16L241.90 168.80L242.09 169.12L242.47 169.37L243.21 170.02L243.42 170.45L243.78 170.60L243.98 170.71L244.39 171.66L244.47 171.67L245.05 171.95L245.33 172.92L245.48 172.93L246.03 173.24L246.14 173.61L246.62 174.33L246.90 174.72L247.07 174.85L247.71 175.66L247.73 175.64L247.76 176.51L248.68 176.32L248.72 176.86L249.29 177.72L249.63 177.86L249.60 178.24L249.93 178.61L250.36 178.69L250.98 179.23L251.06 179.83L251.73 180.16L252.14 180.56L252.47 181.24L252.53 181.71L253.15 181.93L253.58 182.02L254.30 182.86L255.00 183.02L255.04 183.13L255.57 184.04L256.21 184.15L257.09 184.59L257.66 185.09L257.88 185.41L259.03 185.96L259.46 186.00L260.48 186.35L261.06 187.07L262.33 187.32L263.28 187.92L263.74 188.47L264.96 188.52L266.26 188.79L267.02 189.13L268.24 189.81L269.77 190.39L270.72 190.85L272.74 190.72L274.23 191.18L277.04 191.94L280.43 192.33L284.80 192.70L285.60 192.88L286.20 192.69L286.80 192.92L287.40 192.34" stroke="#800080" stroke-width="2.8"/>
<path d="M64.50 193.22L65.10 193.39L65.70 193.57L66.30 193.36L66.90 193.46L67.50 193.52L68.10 193.52L68.70 193.55L69.30 193.43L69.90 193.16L70.50 193.22L71.10 193.36L71.70 193.42L72.30 193.45L72.90 193.17L73.50 193.24L74.10 193.27L74.70 193.40L75.30 193.28L75.90 193.36L76.50 193.53L77.10 193.20L77.70 193.32L78.30 193.55L78.90 193.21L79.50 193.32L80.10 193.34L80.70 193.65L81.30 193.64L81.90 193.47L82.50 193.39L83.10 193.18L83.70 193.56L84.30 193.17L84.90 193.20L85.50 193.18L86.10 193.52L86.70 193.45L87.30 193.59L87.90 193.24L88.50 193.33L89.10 193.50L89.70 193.41L90.30 193.31L90.90 193.44L91.50 193.44L92.10 193.61L92.70 193.28L93.30 193.33L93.90 193.43L94.50 193.35L95.10 193.32L95.70 193.42L96.30 193.23L96.90 193.50L97.50 193.34L98.10 193.61L98.70 193.27L99.30 193.62L99.90 193.42L100.50 193.50L101.10 193.43L101.70 193.26L102.30 193.24L102.90 193.34L103.50 193.20L104.07 192.82L108.63 192.45L111.93 191.99L113.68 191.56L115.23 191.24L116.25 190.78L117.19 190.42L117.95 190.01L118.64 189.59L119.32 189.21L119.93 188.77L120.40 188.33L120.96 188.01L121.42 187.60L121.83 187.15L122.05 186.86L122.33 186.36L122.73 185.93L122.92 185.60L123.09 185.27L123.35 184.75L123.52 184.39L123.58 183.95L123.81 183.66L123.99 183.21L124.00 182.80L124.18 182.34L124.31 181.98L124.43 181.54L124.51 181.15L124.56 180.83L124.68 180.45L124.79 180.05L124.80 179.64L124.98 179.24L124.94 178.84L125.12 178.33L125.16 177.93L125.25 177.64L125.24 177.19L125.43 176.81L125.47 176.41L125.53 175.97L125.60 175.65L125.69 175.23L125.76 174.77L125.78 174.45L125.89 174.03L125.96 173.58L126.07 173.13L126.18 172.83L126.15 172.33L126.20 171.99L126.32 171.53L126.41 171.23L126.52 170.78L126.52 170.33L126.62 170.04L126.67 169.57L126.69 169.27L126.86 168.84L126.93 168.37L126.96 168.05L126.93 167.67L127.03 167.17L127.12 166.76L127.08 166.36L127.23 165.95L127.29 165.53L127.24 165.19L127.32 164.87L127.34 164.44L127.41 163.97L127.50 163.65L127.44 163.18L127.46 162.73L127.50 162.39L127.49 162.03L127.51 161.53L127.54 161.17L127.57 160.73L127.70 160.37L127.67 160.07L127.66 159.60L127.70 159.19L127.80 158.76L127.76 158.44L127.85 158.04L127.73 157.60L127.79 157.15L127.88 156.87L127.84 156.45L127.93 156.07L127.92 155.62L127.99 155.17L127.93 154.77L127.98 154.33L128.00 154.06L128.10 153.65L128.12 153.22L128.01 152.85L128.10 152.46L128.11 152.07L128.12 151.65L128.19 151.13L128.26 150.74L128.26 150.33L128.37 150.01L128.27 149.62L128.42 149.13L128.36 148.74L128.48 148.46L128.55 148.02L128.51 147.60L128.65 147.16L128.62 146.78L128.72 146.40L128.78 145.96L128.90 145.53L128.90 145.13L128.91 144.74L128.98 144.42L129.06 144.08L129.08 143.60L129.16 143.28L129.22 142.80L129.33 142.34L129.39 142.02L129.36 141.60L129.44 141.28L129.55 140.81L129.63 140.43L129.62 140.04L129.56 139.58L129.72 139.18L129.73 138.74L129.81 138.46L129.71 138.07L129.80 137.65L129.81 137.28L129.96 136.76L129.99 136.41L129.95 136.05L129.95 135.66L130.03 135.19L130.10 134.83L130.04 134.44L130.06 133.99L130.09 133.56L130.21 133.28L130.15 132.75L130.22 132.33L130.22 131.97L130.26 131.58L130.24 131.27L130.37 130.80L130.45 130.43L130.44 129.96L130.44 129.66L130.49 129.26L130.50 128.88L130.54 128.38L130.53 128.06L130.51 127.61L130.52 127.15L130.62 126.86L130.68 126.40L130.73 125.96L130.73 125.64L130.67 125.27L130.81 124.75L130.70 124.32L130.73 124.05L130.91 123.55L130.95 123.27L130.92 122.82L130.90 122.41L130.95 122.08L130.99 121.58L130.90 121.20L130.99 120.82L131.01 120.31L131.06 120.09L131.04 119.61L131.16 119.14L131.13 118.88L131.24 118.36L131.26 117.92L131.12 117.62L131.23 117.23L131.25 116.74L131.34 116.48L131.23 115.98L131.23 115.62L131.35 115.27L131.42 114.78L131.38 114.45L131.44 114.08L131.49 113.54L131.46 113.14L131.39 112.79L131.50 112.44L131.60 111.99L131.59 111.60L131.51 111.28L131.53 110.78L131.58 110.48L131.54 110.01L131.56 109.66L131.72 109.23L131.71 108.75L131.70 108.44L131.70 107.91L131.74 107.59L131.73 107.18L131.79 106.75L131.81 106.48L131.79 105.93L131.91 105.63L131.89 105.12L131.93 104.90L131.92 104.43L132.06 104.08L131.88 103.53L131.93 103.23L132.03 102.86L132.02 102.40L132.04 101.95L132.18 101.56L132.15 101.13L132.08 100.82L132.07 100.43L132.20 100.11L132.22 99.65L132.13 99.11L132.35 98.91L132.27 98.31L132.28 98.11L132.23 97.56L132.42 97.14L132.26 96.78L132.40 96.40L132.39 96.10L132.36 95.66L132.49 95.11L132.45 94.72L132.48 94.51L132.43 93.97L132.41 93.51L132.57 93.23L132.55 92.88L132.46 92.28L132.61 91.93L132.63 91.50L132.68 91.16L132.63 90.84L132.59 90.40L132.80 89.94L132.70 89.63L132.60 89.17L132.65 88.84L132.68 88.28L132.79 87.95L132.84 87.60L132.76 87.29L132.78 86.86L132.95 86.30L132.77 86.10L132.97 85.50L132.85 85.33L132.87 84.88L132.86 84.36L132.98 83.90L133.01 83.62L132.97 83.18L133.04 82.83L133.16 82.42L133.16 82.11L133.11 81.58L133.16 81.08L133.01 80.78L133.06 80.47L133.20 80.02L133.28 79.50L133.32 79.27L133.28 78.75L133.15 78.33L133.21 78.08L133.37 77.50L133.43 77.33L133.39 76.87L133.44 76.30L133.38 76.07L133.37 75.72L133.51 75.12L133.43 74.67L133.32 74.27L133.47 74.07L133.51 73.72L133.53 73.23L133.59 72.80L133.50 72.44L133.42 72.05L133.67 71.66L133.45 71.25L133.49 70.65L133.58 70.26L133.54 70.07L133.71 69.47L133.77 69.12L133.87 68.68L133.58 68.26L133.65 68.12L133.78 67.53L133.66 67.05L133.82 66.78L133.94 66.27L133.96 66.08L133.83 65.66L133.81 65.09L133.82 64.68L134.08 64.50L134.07 64.08L134.13 63.76L134.15 63.10L134.14 62.93L134.17 62.43L134.17 62.11L134.22 61.75L134.07 61.14L133.99 60.85L134.21 60.30L134.18 59.98L134.34 59.50L134.39 59.25L134.35 58.64L134.45 58.47L134.47 58.12L134.31 57.46L134.20 57.25L134.23 56.73L134.59 56.51L134.54 55.83L134.49 55.51L134.46 55.11L134.42 54.92L134.46 54.21L134.45 54.00L134.40 53.78L134.71 53.10L134.47 52.77L134.62 52.35L134.83 51.94L134.63 51.48L134.68 51.20L134.83 50.92L134.88 50.53L134.70 50.09L134.77 49.64L134.72 49.15L134.73 48.63L134.96 48.36L134.84 48.16L134.81 47.41L134.81 47.11L134.85 46.70L135.12 46.61L134.99 46.00L134.87 45.42L135.17 45.19L135.13 44.68L135.35 44.50L135.35 44.04L135.11 43.40L135.17 43.07L135.10 43.00L135.26 42.45L135.27 42.05L135.26 41.45L135.25 41.23L135.52 40.74L135.23 40.40L135.54 40.03L135.30 39.76L135.48 39.36L135.37 38.79L135.35 38.28L135.61 38.17L135.65 37.39L135.48 37.00L135.54 36.82L135.69 36.52L135.87 35.86L135.55 35.42L135.97 35.34L136.05 35.03L135.66 34.20L135.92 33.89L136.05 33.43L135.93 33.29L135.88 32.82L136.22 32.54L136.09 32.01L136.08 31.79L136.07 31.40L136.14 30.59L136.22 30.17L136.16 30.24L136.29 29.76L136.18 28.94L136.10 28.56L136.32 28.61L136.61 28.09L136.66 27.60L136.30 27.26L136.72 26.79L136.80 26.64L136.80 26.20L136.84 25.79L136.71 25.04L136.98 24.91L136.55 24.18L136.67 23.81L137.11 23.81L136.96 22.98L136.70 23.00L136.74 22.18L137.30 21.74L136.81 21.41L137.08 20.98L137.25 21.03L137.43 20.62L137.43 19.96L137.16 19.69L137.06 18.99L137.33 18.79L137.50 18.40L137.50 18.00L137.89 18.44L137.94 18.55L137.73 18.92L137.86 19.87L137.78 20.28L137.91 20.69L138.36 20.90L138.36 21.09L138.15 21.82L138.70 21.89L138.56 22.27L138.84 22.54L138.80 23.46L138.72 23.86L139.04 23.96L139.27 24.49L139.34 24.80L139.35 24.99L139.28 25.70L139.25 25.88L139.32 26.28L139.34 26.87L139.59 26.97L139.71 27.35L139.56 27.77L139.56 28.25L139.73 28.88L139.91 28.96L139.92 29.75L139.75 29.93L140.13 30.45L140.14 30.67L139.89 31.41L139.93 31.37L140.06 32.17L140.19 32.51L140.00 32.64L140.18 33.26L140.01 33.75L140.02 34.01L140.02 34.26L140.26 34.75L139.93 35.22L140.18 35.51L140.10 36.18L139.99 36.61L140.18 36.90L139.92 37.42L140.27 37.73L140.33 38.06L140.08 38.18L140.36 38.88L140.33 39.39L140.25 39.82L140.40 40.15L140.37 40.55L140.22 40.76L140.10 41.09L140.39 41.67L140.37 41.97L140.41 42.32L140.18 42.86L140.22 43.09L140.38 43.62L140.12 44.04L140.45 44.53L140.23 44.72L140.18 45.38L140.22 45.53L140.37 45.83L140.10 46.24L140.23 46.94L140.33 47.34L140.12 47.44L140.39 48.15L140.46 48.24L140.36 48.83L140.34 49.36L140.27 49.59L140.41 50.18L140.40 50.52L140.41 50.77L140.16 51.11L140.26 51.77L140.34 51.92L140.46 52.24L140.46 52.97L140.31 53.09L140.26 53.48L140.21 54.08L140.22 54.21L140.32 54.77L140.41 55.07L140.40 55.46L140.48 55.94L140.40 56.42L140.46 56.87L140.39 57.04L140.36 57.42L140.41 57.98L140.50 58.47L140.61 58.88L140.38 59.24L140.47 59.59L140.51 60.10L140.44 60.25L140.59 60.75L140.59 61.09L140.65 61.66L140.59 62.12L140.46 62.57L140.55 62.64L140.59 63.17L140.59 63.75L140.63 64.04L140.52 64.25L140.48 64.83L140.61 65.34L140.63 65.64L140.64 65.99L140.56 66.26L140.86 66.88L140.62 67.18L140.59 67.70L140.86 67.96L140.76 68.41L140.68 68.89L140.71 69.27L140.74 69.47L140.95 70.02L140.84 70.26L141.00 70.85L140.83 71.28L140.84 71.67L140.78 72.02L140.95 72.51L141.04 72.74L141.04 73.15L141.09 73.66L141.02 73.94L141.00 74.51L140.96 74.94L141.14 75.27L141.18 75.71L141.01 76.01L141.00 76.37L141.17 76.77L141.21 77.13L141.16 77.69L141.08 78.07L141.30 78.27L141.30 78.88L141.12 79.24L141.36 79.62L141.33 80.05L141.22 80.51L141.29 80.80L141.39 81.26L141.42 81.65L141.37 81.99L141.25 82.40L141.30 82.92L141.30 83.21L141.28 83.64L141.48 83.97L141.49 84.31L141.49 84.77L141.59 85.23L141.60 85.63L141.46 86.09L141.51 86.43L141.49 86.86L141.66 87.15L141.55 87.48L141.70 88.11L141.62 88.35L141.74 88.86L141.71 89.23L141.71 89.70L141.66 90.10L141.71 90.44L141.70 90.89L141.72 91.09L141.81 91.58L141.84 91.89L141.71 92.48L141.70 92.85L141.89 93.23L141.73 93.49L141.77 94.08L141.94 94.50L141.94 94.82L141.99 95.22L141.96 95.64L141.88 95.91L141.95 96.44L142.09 96.74L141.94 97.28L142.03 97.55L142.04 98.10L141.94 98.46L142.11 98.82L142.14 99.10L142.18 99.55L142.19 100.00L142.05 100.43L142.22 100.79L142.17 101.24L142.26 101.55L142.10 101.96L142.11 102.34L142.21 102.76L142.17 103.27L142.28 103.65L142.36 104.00L142.21 104.39L142.26 104.75L142.33 105.10L142.24 105.58L142.31 106.06L142.33 106.33L142.45 106.80L142.46 107.16L142.33 107.64L142.32 107.93L142.47 108.37L142.42 108.71L142.51 109.30L142.50 109.60L142.41 109.91L142.54 110.48L142.39 110.77L142.54 111.14L142.55 111.60L142.57 111.96L142.57 112.35L142.58 112.86L142.58 113.22L142.56 113.64L142.53 113.98L142.56 114.34L142.63 114.80L142.55 115.20L142.65 115.62L142.51 116.06L142.53 116.49L142.55 116.74L142.57 117.18L142.68 117.67L142.70 117.95L142.57 118.43L142.56 118.85L142.59 119.29L142.60 119.67L142.60 120.08L142.73 120.38L142.59 120.81L142.71 121.27L142.71 121.68L142.67 121.98L142.70 122.49L142.81 122.84L142.74 123.19L142.76 123.53L142.80 123.93L142.71 124.48L142.73 124.73L142.79 125.14L142.88 125.58L142.86 126.04L142.86 126.40L142.80 126.78L142.75 127.16L142.80 127.54L142.93 127.93L142.81 128.39L142.88 128.72L142.87 129.17L142.83 129.65L142.97 129.92L142.87 130.45L142.89 130.87L142.94 131.21L142.91 131.62L142.98 131.96L142.97 132.43L142.96 132.73L143.00 133.15L143.06 133.68L143.00 134.01L143.12 134.44L143.19 134.82L143.13 135.17L143.20 135.57L143.10 136.00L143.18 136.40L143.18 136.87L143.26 137.22L143.29 137.63L143.34 137.95L143.35 138.45L143.30 138.73L143.28 139.18L143.40 139.61L143.44 140.00L143.47 140.37L143.45 140.85L143.50 141.15L143.65 141.53L143.67 141.99L143.89 142.41L143.94 142.87L144.13 143.18L144.21 143.57L144.40 144.01L144.42 144.41L144.69 144.87L144.84 145.28L144.86 145.66L145.09 145.96L145.24 146.39L145.39 146.75L145.51 147.19L145.56 147.57L145.62 147.96L145.80 148.36L145.86 148.76L145.94 149.16L145.99 149.65L145.93 149.99L145.96 150.38L146.10 150.81L146.13 151.24L146.01 151.55L146.09 152.07L146.13 152.37L146.07 152.73L146.19 153.22L146.10 153.57L146.17 153.93L146.18 154.43L146.14 154.75L146.16 155.20L146.14 155.66L146.12 155.99L146.26 156.34L146.18 156.84L146.23 157.20L146.29 157.56L146.28 157.98L146.23 158.47L146.24 158.82L146.25 159.19L146.27 159.61L146.32 159.95L146.29 160.37L146.25 160.83L146.36 161.26L146.26 161.60L146.25 162.01L146.29 162.39L146.39 162.75L146.35 163.27L146.42 163.65L146.39 164.07L146.38 164.44L146.43 164.75L146.40 165.20L146.49 165.64L146.52 165.95L146.45 166.34L146.50 166.86L146.56 167.15L146.57 167.53L146.49 167.97L146.54 168.46L146.66 168.74L146.64 169.22L146.74 169.59L146.69 169.94L146.69 170.38L146.82 170.73L146.73 171.21L146.79 171.59L146.79 172.00L146.81 172.35L146.92 172.86L146.95 173.22L147.04 173.65L147.06 174.05L147.10 174.36L147.03 174.84L147.08 175.23L147.11 175.54L147.19 175.96L147.18 176.33L147.31 176.87L147.27 177.26L147.28 177.62L147.36 178.01L147.40 178.34L147.46 178.79L147.43 179.24L147.54 179.56L147.64 180.02L147.68 180.39L147.86 180.73L147.89 181.21L148.08 181.55L148.37 181.98L148.46 182.36L148.65 182.84L148.93 183.20L149.12 183.66L149.29 183.99L149.51 184.44L149.66 184.86L149.94 185.26L150.01 185.60L150.14 186.04L150.25 186.37L150.39 186.77L150.46 187.17L150.52 187.54L150.55 188.01L150.76 188.41L150.90 188.83L151.14 189.27L151.46 189.63L151.89 189.94L152.42 190.45L153.11 190.78L153.73 191.18L154.34 191.60L155.42 192.03L156.77 192.43L159.37 192.85L162.60 193.53L163.20 193.22L163.80 193.36L164.40 193.63L165.00 193.61L165.60 193.21L166.20 193.38L166.80 193.59L167.40 193.26L168.00 193.30L168.60 193.37L169.20 193.59L169.80 193.49L170.40 193.18L171.00 193.38L171.60 193.48L172.20 193.17L172.80 193.46L173.40 193.34L174.00 193.49L174.60 193.40L175.20 193.39L175.80 193.60L176.40 193.64L177.00 193.30" stroke="#800000" stroke-width="2.6"/>
</g>
<g stroke="#222" stroke-width="1.25" fill="none">
<rect x="47" y="0.5" width="259.2" height="210.5"/>
<path d="M47.00 211V207"/>
<path d="M65.50 211V208.5"/>
<path d="M84.00 211V207"/>
<path d="M102.50 211V208.5"/>
<path d="M121.00 211V207"/>
<path d="M139.50 211V208.5"/>
<path d="M158.00 211V207"/>
<path d="M176.50 211V208.5"/>
<path d="M195.00 211V207"/>
<path d="M213.50 211V208.5"/>
<path d="M232.00 211V207"/>
<path d="M250.50 211V208.5"/>
<path d="M269.00 211V207"/>
<path d="M287.50 211V208.5"/>
<path d="M306.00 211V207"/>
<path d="M47 193.00H51"/>
<path d="M47 175.50H49.5"/>
<path d="M47 158.00H51"/>
<path d="M47 140.50H49.5"/>
<path d="M47 123.00H51"/>
<path d="M47 105.50H49.5"/>
<path d="M47 88.00H51"/>
<path d="M47 70.50H49.5"/>
<path d="M47 53.00H51"/>
<path d="M47 35.50H49.5"/>
<path d="M47 18.00H51"/>
</g>
<path d="M245 13.50H268" stroke="#000000" stroke-width="2.6" stroke-linecap="round"/>
<text x="270.2" y="17.00" style="font-family:'Liberation Serif',serif;font-weight:bold;font-size:11.2px;letter-spacing:0.25px">511nm</text>
<path d="M245 27.56H268" stroke="#ff0000" stroke-width="2.6" stroke-linecap="round"/>
<text x="270.2" y="31.06" style="font-family:'Liberation Serif',serif;font-weight:bold;font-size:11.2px;letter-spacing:0.25px">572nm</text>
<path d="M245 41.62H268" stroke="#0000ff" stroke-width="2.6" stroke-linecap="round"/>
<text x="270.2" y="45.12" style="font-family:'Liberation Serif',serif;font-weight:bold;font-size:11.2px;letter-spacing:0.25px">651nm</text>
<path d="M245 55.68H268" stroke="#ff00ff" stroke-width="2.6" stroke-linecap="round"/>
<text x="270.2" y="59.18" style="font-family:'Liberation Serif',serif;font-weight:bold;font-size:11.2px;letter-spacing:0.25px">693nm</text>
<path d="M245 69.74H268" stroke="#008000" stroke-width="2.6" stroke-linecap="round"/>
<text x="270.2" y="73.24" style="font-family:'Liberation Serif',serif;font-weight:bold;font-size:11.2px;letter-spacing:0.25px">712nm</text>
<path d="M245 83.80H268" stroke="#000080" stroke-width="2.6" stroke-linecap="round"/>
<text x="270.2" y="87.30" style="font-family:'Liberation Serif',serif;font-weight:bold;font-size:11.2px;letter-spacing:0.25px">745nm</text>
<path d="M245 97.86H268" stroke="#8000ff" stroke-width="2.6" stroke-linecap="round"/>
<text x="270.2" y="101.36" style="font-family:'Liberation Serif',serif;font-weight:bold;font-size:11.2px;letter-spacing:0.25px">768nm</text>
<path d="M245 111.92H268" stroke="#800080" stroke-width="2.6" stroke-linecap="round"/>
<text x="270.2" y="115.42" style="font-family:'Liberation Serif',serif;font-weight:bold;font-size:11.2px;letter-spacing:0.25px">787nm</text>
<path d="M245 125.98H268" stroke="#800000" stroke-width="2.6" stroke-linecap="round"/>
<text x="270.2" y="129.48" style="font-family:'Liberation Serif',serif;font-weight:bold;font-size:11.2px;letter-spacing:0.25px">803nm</text>
<text x="47.00" y="229.6" text-anchor="middle" style="font-family:'Liberation Serif',serif;font-weight:bold;font-size:16.5px">400</text>
<text x="84.00" y="229.6" text-anchor="middle" style="font-family:'Liberation Serif',serif;font-weight:bold;font-size:16.5px">500</text>
<text x="121.00" y="229.6" text-anchor="middle" style="font-family:'Liberation Serif',serif;font-weight:bold;font-size:16.5px">600</text>
<text x="158.00" y="229.6" text-anchor="middle" style="font-family:'Liberation Serif',serif;font-weight:bold;font-size:16.5px">700</text>
<text x="195.00" y="229.6" text-anchor="middle" style="font-family:'Liberation Serif',serif;font-weight:bold;font-size:16.5px">800</text>
<text x="232.00" y="229.6" text-anchor="middle" style="font-family:'Liberation Serif',serif;font-weight:bold;font-size:16.5px">900</text>
<text x="269.00" y="229.6" text-anchor="middle" style="font-family:'Liberation Serif',serif;font-weight:bold;font-size:16.5px">1000</text>
<text x="306.00" y="229.6" text-anchor="middle" style="font-family:'Liberation Serif',serif;font-weight:bold;font-size:16.5px">1100</text>
<text x="42" y="198.20" text-anchor="end" style="font-family:'Liberation Serif',serif;font-weight:bold;font-size:16px">0.0</text>
<text x="42" y="163.20" text-anchor="end" style="font-family:'Liberation Serif',serif;font-weight:bold;font-size:16px">0.2</text>
<text x="42" y="128.20" text-anchor="end" style="font-family:'Liberation Serif',serif;font-weight:bold;font-size:16px">0.4</text>
<text x="42" y="93.20" text-anchor="end" style="font-family:'Liberation Serif',serif;font-weight:bold;font-size:16px">0.6</text>
<text x="42" y="58.20" text-anchor="end" style="font-family:'Liberation Serif',serif;font-weight:bold;font-size:16px">0.8</text>
<text x="42" y="23.20" text-anchor="end" style="font-family:'Liberation Serif',serif;font-weight:bold;font-size:16px">1.0</text>
<text x="117.6" y="248.2" textLength="118.2" lengthAdjust="spacingAndGlyphs" style="font-family:'Liberation Serif',serif;font-weight:bold;font-size:16px">Wavelength (nm)</text>
<text transform="translate(11.5,106.5) rotate(-90)" x="-86" textLength="172" lengthAdjust="spacingAndGlyphs" style="font-family:'Liberation Serif',serif;font-weight:bold;font-size:16px">Norm. PL Intensity (a.u.)</text>
<text x="56" y="22.2" style="font-family:'Liberation Serif',serif;font-weight:bold;font-size:22px">(a)</text>
<g clip-path="url(#cb)" fill="none" stroke-width="1.15" stroke-linejoin="miter" stroke-miterlimit="2">
<path d="M363.00 176.52L363.50 177.60L364.00 181.24L364.50 176.66L365.00 177.08L365.50 177.87L366.00 173.85L366.50 177.12L367.00 178.30L367.50 179.93L368.00 172.94L368.50 175.03L369.00 172.91L369.50 180.10L370.00 178.93L370.50 172.42L371.00 181.82L371.50 181.65L372.00 178.54L372.50 178.16L373.00 173.57L373.50 172.15L374.00 177.28L374.50 172.60L375.00 173.90L375.50 174.42L376.00 172.30L376.50 176.64L377.00 176.41L377.50 180.42L378.00 177.19L378.50 178.40L379.00 178.00L379.50 172.38L380.00 166.75L380.50 161.13L381.00 142.86L381.50 121.43L382.00 100.00L382.50 73.33L383.00 62.22L383.50 51.11L384.00 40.00L384.50 29.23L385.00 18.46L385.50 10.78L386.00 7.72L386.50 6.00L387.00 5.17L387.50 5.44L388.00 5.94L388.50 11.54L389.00 19.49L389.50 26.86L390.00 34.65L390.50 42.88L391.00 49.02L391.50 55.28L392.00 58.56L392.50 64.60L393.00 68.26L393.50 68.48L394.00 74.39L394.50 74.98L395.00 82.03L395.50 79.80L396.00 80.36L396.50 86.67L397.00 86.42L397.50 86.06L398.00 87.22L398.50 88.61L399.00 90.62L399.50 96.53L400.00 94.02L400.50 94.40L401.00 99.38L401.50 95.58L402.00 97.25L402.50 101.93L403.00 99.08L403.50 99.22L404.00 101.23L404.50 103.11L405.00 108.41L405.50 106.56L406.00 103.21L406.50 110.65L407.00 106.23L407.50 110.87L408.00 107.21L408.50 113.59L409.00 110.20L409.50 107.96L410.00 110.36L410.50 111.23L411.00 114.97L411.50 111.89L412.00 111.60L412.50 116.87L413.00 118.14L413.50 121.82L414.00 113.78L414.50 118.48L415.00 116.72L415.50 121.64L416.00 119.70L416.50 126.74L417.00 124.30L417.50 117.23L418.00 118.16L418.50 126.18L419.00 119.21L419.50 124.90L420.00 123.60L420.50 121.34L421.00 129.57L421.50 130.17L422.00 131.44L422.50 126.71L423.00 133.97L423.50 128.61L424.00 134.75L424.50 132.35L425.00 132.39L425.50 126.45L426.00 138.95L426.50 136.07L427.00 136.76L427.50 133.36L428.00 129.00L428.50 128.75L429.00 135.60L429.50 139.26L430.00 138.65L430.50 132.27L431.00 134.94L431.50 131.90L432.00 144.81L432.50 138.29L433.00 136.96L433.50 135.39L434.00 145.22L434.50 146.86L435.00 142.65L435.50 135.96L436.00 147.63L436.50 146.07L437.00 137.76L437.50 142.68L438.00 139.16L438.50 146.49L439.00 141.66L439.50 153.51L440.00 134.99L440.50 155.55L441.00 150.21L441.50 143.57L442.00 134.88L442.50 146.65L443.00 154.29L443.50 139.09L444.00 151.54L444.50 152.01L445.00 155.83L445.50 153.78L446.00 149.84L446.50 141.37L447.00 157.09L447.50 146.89L448.00 155.47L448.50 154.12L449.00 150.02L449.50 164.14L450.00 161.34L450.50 145.47L451.00 155.75L451.50 150.95L452.00 161.51L452.50 163.16L453.00 157.40L453.50 159.16L454.00 157.77L454.50 149.02L455.00 165.52L455.50 156.39L456.00 152.02L456.50 163.80L457.00 147.35L457.50 157.76L458.00 156.53L458.50 167.08L459.00 167.11L459.50 154.05L460.00 146.31L460.50 158.57L461.00 166.09L461.50 168.72L462.00 173.65L462.50 152.62L463.00 154.38L463.50 162.61L464.00 167.57L464.50 155.42L465.00 168.07L465.50 153.35L466.00 171.44L466.50 162.33L467.00 161.65L467.50 164.64L468.00 172.45L468.50 159.01L469.00 163.12L469.50 168.52L470.00 162.94L470.50 173.38L471.00 156.73L471.50 153.39L472.00 170.63L472.50 162.42L473.00 155.49L473.50 178.88L474.00 173.81L474.50 156.06L475.00 168.75L475.50 160.51L476.00 154.27L476.50 154.89L477.00 158.35L477.50 165.79L478.00 161.96L478.50 166.51L479.00 157.83L479.50 169.45L480.00 175.31L480.50 175.56L481.00 172.57L481.50 176.98L482.00 161.40L482.50 158.88L483.00 181.55L483.50 159.59L484.00 157.29L484.50 175.69L485.00 178.17L485.50 164.29L486.00 153.95L486.50 172.03L487.00 185.61L487.50 167.40L488.00 167.41L488.50 155.10L489.00 151.88L489.50 169.00L490.00 170.40L490.50 159.08L491.00 177.20L491.50 184.99L492.00 155.89L492.50 167.03L493.00 163.36L493.50 168.67L494.00 172.41L494.50 174.02L495.00 159.60L495.50 175.28L496.00 156.28L496.50 169.26L497.00 179.89L497.50 174.68L498.00 172.65L498.50 171.90L499.00 182.84L499.50 162.39L500.00 176.28L500.50 178.37L501.00 180.81L501.50 175.15L502.00 177.26L502.50 179.01L503.00 165.29L503.50 155.84L504.00 174.00L504.50 162.35L505.00 174.97L505.50 174.88L506.00 171.29L506.50 184.95L507.00 176.36L507.50 190.89L508.00 174.04L508.50 163.63L509.00 157.65L509.50 165.62L510.00 163.67L510.50 172.56L511.00 184.95L511.50 185.88L512.00 184.62L512.50 174.29L513.00 157.96L513.50 161.43L514.00 161.77L514.50 176.54L515.00 185.13L515.50 172.68L516.00 167.92L516.50 176.71L517.00 165.60L517.50 163.28L518.00 161.10L518.50 161.96L519.00 169.10L519.50 183.46L520.00 187.47L520.50 159.68L521.00 170.61L521.50 187.31L522.00 173.64L522.50 179.84L523.00 187.80L523.50 177.79L524.00 177.07L524.50 160.04L525.00 174.66L525.50 171.71L526.00 172.18L526.50 176.20L527.00 182.38L527.50 189.33L528.00 181.20L528.50 161.87L529.00 182.96L529.50 169.70L530.00 180.02L530.50 177.17L531.00 182.36L531.50 166.50L532.00 187.69L532.50 153.41L533.00 167.40L533.50 180.45L534.00 176.77L534.50 161.71L535.00 176.62L535.50 171.02L536.00 165.90L536.50 183.07L537.00 155.57L537.50 185.29L538.00 184.08L538.50 173.14L539.00 185.56L539.50 180.64L540.00 170.21L540.50 183.76L541.00 173.64L541.50 163.14L542.00 156.56L542.50 178.25L543.00 182.21L543.50 189.14L544.00 167.26L544.50 163.13L545.00 183.80L545.50 166.61L546.00 172.21L546.50 170.64L547.00 183.62L547.50 190.39L548.00 190.31L548.50 186.86L549.00 171.40L549.50 191.23L550.00 169.35L550.50 173.18L551.00 174.22L551.50 167.88L552.00 187.23L552.50 188.56L553.00 167.53L553.50 190.15L554.00 162.75L554.50 179.53L555.00 193.13L555.50 192.40L556.00 179.86L556.50 159.14L557.00 186.11L557.50 165.31L558.00 167.28L558.50 183.53L559.00 169.89L559.50 179.61L560.00 175.62L560.50 194.02L561.00 178.86L561.50 186.17L562.00 192.41L562.50 189.60L563.00 190.50L563.50 189.90L564.00 193.90L564.50 180.05L565.00 188.99L565.50 175.66L566.00 187.10L566.50 173.64L567.00 169.98L567.50 172.82L568.00 165.40L568.50 167.21L569.00 192.37L569.50 165.60L570.00 182.33L570.50 158.15L571.00 169.60L571.50 171.26L572.00 182.80L572.50 169.71L573.00 169.35L573.50 173.83L574.00 190.04L574.50 172.26L575.00 193.21L575.50 181.50L576.00 179.46L576.50 165.64L577.00 189.72L577.50 180.99L578.00 172.93L578.50 185.22L579.00 164.55L579.50 176.13L580.00 187.10L580.50 164.40L581.00 174.63L581.50 192.18L582.00 184.78L582.50 172.96L583.00 169.28L583.50 164.54L584.00 191.60L584.50 167.19L585.00 190.63L585.50 179.98L586.00 195.23L586.50 192.12L587.00 189.97L587.50 200.08L588.00 191.22L588.50 182.20L589.00 169.88L589.50 174.84L590.00 167.34L590.50 179.89L591.00 176.48L591.50 168.38L592.00 179.81L592.50 191.62L593.00 165.49L593.50 187.85L594.00 183.21L594.50 165.53L595.00 190.80L595.50 184.97L596.00 177.32L596.50 174.86L597.00 177.90L597.50 173.59L598.00 188.82L598.50 195.69L599.00 188.64L599.50 196.68L600.00 164.87L600.50 187.26L601.00 171.36L601.50 192.42L602.00 168.55L602.50 165.79L603.00 177.41L603.50 195.22L604.00 182.16L604.50 190.36L605.00 178.21L605.50 177.81L606.00 178.74L606.50 197.37L607.00 187.11L607.50 166.61L608.00 177.00L608.50 169.48L609.00 182.41L609.50 192.55L610.00 171.24L610.50 195.10L611.00 177.52L611.50 170.81L612.00 197.88L612.50 189.23L613.00 172.68L613.50 186.46L614.00 169.09L614.50 184.91L615.00 177.03L615.50 178.08L616.00 170.52L616.50 170.93L617.00 184.01L617.50 184.58L618.00 195.78L618.50 192.87L619.00 170.67L619.50 176.01L620.00 174.52L620.50 193.43L621.00 185.09L621.50 167.93L622.00 198.52L622.50 188.04L623.00 188.48" stroke="#000000"/>
<path d="M366.00 195.00L366.00 177.30L366.50 173.30L367.00 173.92L367.50 176.45L368.00 174.21L368.50 176.55L369.00 172.25L369.50 172.86L370.00 179.10L370.50 176.21L371.00 177.13L371.50 179.34L372.00 175.59L372.50 172.58L373.00 179.83L373.50 177.89L374.00 178.58L374.50 178.21L375.00 181.71L375.50 175.63L376.00 179.60L376.50 175.69L377.00 177.72L377.50 178.61L378.00 175.14L378.50 172.86L379.00 178.00L379.50 172.38L380.00 166.75L380.50 161.13L381.00 142.86L381.50 121.43L382.00 100.00L382.50 73.33L383.00 62.22L383.50 51.11L384.00 40.00L384.50 29.23L385.00 18.46L385.50 10.78L386.00 7.72L386.50 6.00L387.00 5.17L387.50 5.43L388.00 5.99L388.50 8.33L389.00 11.79L389.50 15.40L390.00 18.78L390.50 22.31L391.00 25.93L391.50 29.40L392.00 32.90L392.50 36.56L393.00 39.89L393.50 42.60L394.00 45.13L394.50 47.52L395.00 50.04L395.50 52.34L396.00 54.76L396.50 57.22L397.00 60.12L397.50 62.77L398.00 65.16L398.50 67.90L399.00 70.68L399.50 72.39L400.00 75.35L400.50 78.44L401.00 79.79L401.50 81.85L402.00 83.36L402.50 84.45L403.00 86.90L403.50 87.55L404.00 89.82L404.50 91.13L405.00 92.65L405.50 94.07L406.00 94.75L406.50 96.55L407.00 96.92L407.50 96.78L408.00 98.09L408.50 100.06L409.00 101.66L409.50 101.08L410.00 101.10L410.50 102.51L411.00 104.24L411.50 103.90L412.00 104.06L412.50 105.03L413.00 105.74L413.50 107.19L414.00 108.97L414.50 109.78L415.00 110.18L415.50 109.79L416.00 109.54L416.50 112.65L417.00 112.83L417.50 112.70L418.00 112.15L418.50 112.55L419.00 113.15L419.50 113.90L420.00 114.58L420.50 114.19L421.00 113.98L421.50 115.12L422.00 116.55L422.50 116.78L423.00 117.74L423.50 119.46L424.00 119.92L424.50 120.98L425.00 117.30L425.50 118.79L426.00 118.64L426.50 118.82L427.00 120.71L427.50 120.22L428.00 124.16L428.50 120.96L429.00 125.14L429.50 121.07L430.00 122.13L430.50 124.20L431.00 125.10L431.50 126.83L432.00 125.96L432.50 122.91L433.00 128.19L433.50 126.15L434.00 127.62L434.50 129.38L435.00 126.86L435.50 129.48L436.00 127.27L436.50 131.69L437.00 126.85L437.50 131.20L438.00 126.97L438.50 131.66L439.00 130.83L439.50 130.08L440.00 130.12L440.50 133.86L441.00 131.49L441.50 131.17L442.00 132.25L442.50 135.42L443.00 136.85L443.50 134.78L444.00 135.05L444.50 138.18L445.00 134.25L445.50 137.79L446.00 134.18L446.50 132.15L447.00 139.58L447.50 137.78L448.00 133.83L448.50 137.80L449.00 137.56L449.50 137.59L450.00 133.85L450.50 134.69L451.00 136.24L451.50 140.09L452.00 138.53L452.50 137.22L453.00 136.78L453.50 138.91L454.00 141.69L454.50 145.22L455.00 142.19L455.50 145.00L456.00 141.80L456.50 142.52L457.00 144.37L457.50 137.32L458.00 135.51L458.50 144.01L459.00 145.76L459.50 141.88L460.00 142.68L460.50 143.59L461.00 139.52L461.50 145.82L462.00 147.27L462.50 139.02L463.00 145.50L463.50 150.18L464.00 146.66L464.50 144.49L465.00 146.99L465.50 140.56L466.00 142.92L466.50 144.73L467.00 143.92L467.50 140.67L468.00 146.98L468.50 148.89L469.00 148.81L469.50 140.29L470.00 146.89L470.50 147.43L471.00 146.47L471.50 146.84L472.00 147.83L472.50 150.32L473.00 144.60L473.50 151.02L474.00 152.70L474.50 143.57L475.00 146.37L475.50 148.21L476.00 152.91L476.50 145.66L477.00 153.32L477.50 144.98L478.00 144.84L478.50 150.51L479.00 152.93L479.50 145.59L480.00 151.67L480.50 149.17L481.00 155.50L481.50 153.30L482.00 153.93L482.50 145.51L483.00 150.45L483.50 149.61L484.00 149.38L484.50 146.93L485.00 159.34L485.50 155.85L486.00 154.98L486.50 154.51L487.00 153.26L487.50 157.53L488.00 159.87L488.50 149.35L489.00 152.40L489.50 154.00L490.00 153.93L490.50 151.13L491.00 153.90L491.50 149.57L492.00 146.25L492.50 149.02L493.00 152.84L493.50 158.92L494.00 155.51L494.50 148.92L495.00 155.00L495.50 160.29L496.00 159.06L496.50 148.22L497.00 156.65L497.50 160.04L498.00 156.83L498.50 164.18L499.00 157.69L499.50 157.84L500.00 155.28L500.50 162.04L501.00 153.11L501.50 161.11L502.00 145.95L502.50 149.68L503.00 160.69L503.50 149.65L504.00 153.14L504.50 159.37L505.00 159.28L505.50 161.17L506.00 162.05L506.50 152.92L507.00 160.39L507.50 159.89L508.00 161.45L508.50 159.75L509.00 156.42L509.50 163.22L510.00 156.07L510.50 163.02L511.00 150.25L511.50 163.10L512.00 151.25L512.50 158.76L513.00 162.27L513.50 158.07L514.00 159.41L514.50 164.34L515.00 153.15L515.50 149.99L516.00 165.30L516.50 152.95L517.00 153.74L517.50 160.40L518.00 151.33L518.50 153.16L519.00 168.07L519.50 159.17L520.00 163.78L520.50 156.59L521.00 151.04L521.50 156.00L522.00 161.97L522.50 165.01L523.00 165.57L523.50 152.46L524.00 152.35L524.50 150.65L525.00 165.25L525.50 159.42L526.00 167.09L526.50 152.02L527.00 151.43L527.50 161.91L528.00 151.44L528.50 156.79L529.00 152.11L529.50 167.90L530.00 163.04L530.50 166.17L531.00 160.04L531.50 165.51L532.00 163.99L532.50 168.82L533.00 157.43L533.50 155.96L534.00 171.09L534.50 167.39L535.00 162.26L535.50 168.16L536.00 153.98L536.50 156.36L537.00 151.31L537.50 163.14L538.00 157.32L538.50 154.33L539.00 172.07L539.50 169.71L540.00 167.79L540.50 166.31L541.00 155.64L541.50 159.15L542.00 169.51L542.50 169.53L543.00 170.64L543.50 156.10L544.00 153.70L544.50 163.19L545.00 157.39L545.50 161.93L546.00 164.27L546.50 166.92L547.00 168.58L547.50 168.89L548.00 164.22L548.50 162.38L549.00 171.73L549.50 160.28L550.00 170.16L550.50 166.91L551.00 173.89L551.50 164.93L552.00 171.06L552.50 155.45L553.00 154.94L553.50 169.43L554.00 158.69L554.50 158.20L555.00 161.15L555.50 168.01L556.00 161.06L556.50 177.02L557.00 160.71L557.50 160.95L558.00 171.02L558.50 169.10L559.00 166.27L559.50 167.90L560.00 167.32L560.50 170.71L561.00 163.22L561.50 155.79L562.00 157.59L562.50 157.00L563.00 156.96L563.50 168.77L564.00 163.91L564.50 169.84L565.00 173.49L565.50 171.57L566.00 163.01L566.50 170.63L567.00 158.45L567.50 161.84L568.00 157.83L568.50 158.37L569.00 155.95L569.50 169.24L570.00 174.64L570.50 170.67L571.00 171.60L571.50 161.19L572.00 156.19L572.50 167.62L573.00 170.79L573.50 159.50L574.00 160.59L574.50 165.72L575.00 173.31L575.50 163.21L576.00 157.62L576.50 173.75L577.00 163.15L577.50 171.27L578.00 161.47L578.50 169.29L579.00 166.46L579.50 170.64L580.00 167.84L580.50 168.65L581.00 176.29L581.50 172.16L582.00 163.87L582.50 161.08L583.00 165.24L583.50 166.73L584.00 169.50L584.50 167.06L585.00 173.92L585.50 169.85L586.00 164.69L586.50 170.26L587.00 158.10L587.50 153.80L588.00 163.96L588.50 165.94L589.00 161.50L589.50 162.68L590.00 166.74L590.50 154.20L591.00 165.93L591.50 169.64L592.00 176.49L592.50 173.57L593.00 157.87L593.50 172.94L594.00 178.77L594.50 175.95L595.00 165.45L595.50 167.96L596.00 160.97L596.50 160.24L597.00 155.40L597.50 161.50L598.00 166.80L598.50 157.81L599.00 163.20L599.50 168.33L600.00 158.63L600.50 177.00L601.00 170.79L601.50 162.61L602.00 162.97L602.50 166.35L603.00 162.33L603.50 173.17L604.00 177.73L604.50 174.85L605.00 175.74L605.50 178.67L606.00 165.81L606.50 173.59L607.00 160.70L607.50 158.52L608.00 157.32L608.50 164.11L609.00 176.20L609.50 173.36L610.00 164.61L610.50 160.46L611.00 163.75L611.50 159.29L612.00 162.94L612.50 159.10L613.00 172.86L613.50 161.27L614.00 158.81L614.50 174.82L615.00 175.80L615.50 171.05L616.00 170.25L616.50 175.68L617.00 170.39L617.50 159.82L618.00 165.82L618.50 178.43L619.00 161.85L619.50 168.44L620.00 164.26L620.50 177.74L621.00 169.89L621.50 176.22L622.00 174.59L622.50 161.98L623.00 178.82" stroke="#ff0000"/>
<path d="M363.00 179.18L363.50 172.10L364.00 178.41L364.50 181.10L365.00 181.01L365.50 177.18L366.00 178.57L366.50 175.43L367.00 177.34L367.50 172.29L368.00 179.20L368.50 178.21L369.00 174.38L369.50 175.54L370.00 179.83L370.50 176.33L371.00 182.52L371.50 182.66L372.00 181.06L372.50 172.09L373.00 171.90L373.50 174.46L374.00 175.33L374.50 179.46L375.00 180.92L375.50 177.75L376.00 178.67L376.50 177.88L377.00 171.41L377.50 177.32L378.00 173.56L378.50 176.00L379.00 178.00L379.50 172.38L380.00 166.75L380.50 161.13L381.00 142.86L381.50 121.43L382.00 100.00L382.50 73.33L383.00 62.22L383.50 51.11L384.00 40.00L384.50 29.23L385.00 18.46L385.50 10.78L386.00 7.72L386.50 6.00L387.00 5.17L387.50 5.37L388.00 6.07L388.50 8.13L389.00 11.27L389.50 14.56L390.00 17.76L390.50 20.92L391.00 24.06L391.50 27.28L392.00 30.51L392.50 33.52L393.00 36.63L393.50 40.04L394.00 41.96L394.50 43.78L395.00 45.30L395.50 47.04L396.00 49.26L396.50 51.13L397.00 53.02L397.50 54.66L398.00 56.82L398.50 58.54L399.00 59.88L399.50 62.09L400.00 63.93L400.50 65.13L401.00 67.78L401.50 69.06L402.00 70.85L402.50 71.79L403.00 74.55L403.50 75.87L404.00 76.51L404.50 78.17L405.00 79.79L405.50 80.41L406.00 82.28L406.50 84.00L407.00 85.55L407.50 86.44L408.00 87.53L408.50 86.81L409.00 89.21L409.50 90.39L410.00 89.99L410.50 90.33L411.00 91.96L411.50 95.65L412.00 93.96L412.50 94.74L413.00 96.84L413.50 95.74L414.00 96.49L414.50 99.36L415.00 97.07L415.50 97.55L416.00 98.76L416.50 100.87L417.00 101.09L417.50 99.49L418.00 103.31L418.50 101.17L419.00 100.93L419.50 104.41L420.00 105.10L420.50 104.10L421.00 105.38L421.50 103.84L422.00 105.65L422.50 104.90L423.00 107.32L423.50 106.34L424.00 105.67L424.50 106.62L425.00 110.41L425.50 111.08L426.00 109.59L426.50 109.94L427.00 108.93L427.50 110.80L428.00 110.86L428.50 112.83L429.00 113.47L429.50 112.82L430.00 113.05L430.50 114.34L431.00 111.54L431.50 116.02L432.00 114.12L432.50 111.67L433.00 114.15L433.50 113.71L434.00 117.39L434.50 113.95L435.00 118.76L435.50 113.03L436.00 116.60L436.50 114.37L437.00 119.56L437.50 119.92L438.00 114.76L438.50 121.28L439.00 118.39L439.50 117.04L440.00 119.94L440.50 116.89L441.00 115.35L441.50 118.58L442.00 119.88L442.50 122.14L443.00 122.79L443.50 119.27L444.00 123.56L444.50 121.10L445.00 120.92L445.50 124.25L446.00 125.93L446.50 123.36L447.00 126.42L447.50 125.80L448.00 120.86L448.50 120.25L449.00 121.93L449.50 128.51L450.00 125.86L450.50 129.80L451.00 123.14L451.50 126.03L452.00 126.01L452.50 123.54L453.00 123.93L453.50 128.27L454.00 124.77L454.50 124.66L455.00 133.16L455.50 124.80L456.00 127.72L456.50 132.55L457.00 127.86L457.50 131.34L458.00 127.13L458.50 131.78L459.00 126.83L459.50 127.16L460.00 129.53L460.50 134.91L461.00 130.05L461.50 132.13L462.00 138.14L462.50 131.21L463.00 132.44L463.50 131.90L464.00 129.62L464.50 133.20L465.00 133.22L465.50 127.59L466.00 135.17L466.50 136.28L467.00 137.73L467.50 133.12L468.00 130.85L468.50 132.39L469.00 139.04L469.50 134.31L470.00 136.13L470.50 128.31L471.00 131.49L471.50 133.45L472.00 133.64L472.50 139.64L473.00 140.26L473.50 130.93L474.00 142.19L474.50 133.75L475.00 133.52L475.50 139.11L476.00 134.30L476.50 138.40L477.00 135.83L477.50 135.92L478.00 135.89L478.50 139.30L479.00 144.78L479.50 136.83L480.00 133.96L480.50 135.10L481.00 135.77L481.50 133.96L482.00 141.08L482.50 140.99L483.00 145.75L483.50 144.39L484.00 143.85L484.50 146.12L485.00 134.00L485.50 137.29L486.00 141.68L486.50 145.11L487.00 138.07L487.50 139.98L488.00 141.64L488.50 137.79L489.00 138.58L489.50 146.80L490.00 138.27L490.50 147.25L491.00 145.33L491.50 141.22L492.00 140.62L492.50 141.23L493.00 138.94L493.50 135.38L494.00 139.06L494.50 141.28L495.00 138.48L495.50 145.31L496.00 142.97L496.50 135.39L497.00 147.06L497.50 145.83L498.00 146.35L498.50 135.59L499.00 144.97L499.50 140.87L500.00 147.65L500.50 149.07L501.00 139.60L501.50 136.86L502.00 137.39L502.50 144.16L503.00 140.83L503.50 135.94L504.00 153.23L504.50 137.96L505.00 138.38L505.50 142.85L506.00 139.78L506.50 144.48L507.00 146.90L507.50 144.03L508.00 152.40L508.50 146.54L509.00 153.32L509.50 138.32L510.00 148.75L510.50 142.73L511.00 143.38L511.50 142.80L512.00 138.16L512.50 137.14L513.00 137.10L513.50 145.98L514.00 145.07L514.50 138.14L515.00 136.18L515.50 141.70L516.00 136.53L516.50 149.64L517.00 149.80L517.50 147.47L518.00 155.01L518.50 150.28L519.00 147.77L519.50 155.38L520.00 140.36L520.50 146.17L521.00 145.42L521.50 138.35L522.00 141.19L522.50 145.83L523.00 142.44L523.50 138.64L524.00 153.42L524.50 139.99L525.00 141.96L525.50 151.55L526.00 137.34L526.50 153.43L527.00 141.38L527.50 142.47L528.00 142.94L528.50 144.21L529.00 133.65L529.50 150.99L530.00 141.98L530.50 145.34L531.00 149.21L531.50 147.89L532.00 151.08L532.50 139.94L533.00 148.93L533.50 141.96L534.00 144.31L534.50 144.41L535.00 142.96L535.50 151.86L536.00 148.77L536.50 147.02L537.00 147.78L537.50 145.71L538.00 149.33L538.50 149.35L539.00 144.12L539.50 150.40L540.00 144.04L540.50 146.22L541.00 153.73L541.50 137.69L542.00 145.12L542.50 154.43L543.00 149.52L543.50 144.96L544.00 152.53L544.50 147.36L545.00 154.58L545.50 144.61L546.00 145.19L546.50 156.60L547.00 140.95L547.50 149.00L548.00 155.67L548.50 157.07L549.00 148.02L549.50 142.73L550.00 144.51L550.50 149.29L551.00 157.34L551.50 161.60L552.00 148.62L552.50 157.04L553.00 145.44L553.50 157.49L554.00 143.92L554.50 143.09L555.00 153.24L555.50 144.26L556.00 152.32L556.50 144.30L557.00 159.64L557.50 163.59L558.00 148.39L558.50 158.10L559.00 165.17L559.50 148.86L560.00 157.11L560.50 158.87L561.00 159.45L561.50 159.31L562.00 143.24L562.50 142.72L563.00 151.32L563.50 155.96L564.00 141.56L564.50 159.23L565.00 144.85L565.50 151.35L566.00 160.74L566.50 151.05L567.00 156.04L567.50 161.32L568.00 149.70L568.50 160.47L569.00 152.19L569.50 143.16L570.00 147.34L570.50 154.10L571.00 144.76L571.50 160.47L572.00 158.06L572.50 145.87L573.00 157.92L573.50 144.18L574.00 145.89L574.50 144.95L575.00 154.04L575.50 162.76L576.00 160.51L576.50 143.15L577.00 151.31L577.50 145.51L578.00 151.89L578.50 161.40L579.00 159.44L579.50 158.80L580.00 145.68L580.50 150.71L581.00 151.22L581.50 154.83L582.00 148.02L582.50 154.57L583.00 144.03L583.50 144.75L584.00 155.02L584.50 145.46L585.00 155.32L585.50 155.70L586.00 147.63L586.50 148.99L587.00 147.39L587.50 155.68L588.00 145.37L588.50 144.94L589.00 150.87L589.50 159.11L590.00 156.13L590.50 151.63L591.00 148.04L591.50 151.53L592.00 154.12L592.50 161.91L593.00 146.71L593.50 143.31L594.00 147.40L594.50 160.35L595.00 158.07L595.50 153.89L596.00 153.97L596.50 139.82L597.00 148.26L597.50 155.80L598.00 156.07L598.50 153.71L599.00 144.65L599.50 154.31L600.00 158.65L600.50 159.72L601.00 144.98L601.50 151.31L602.00 146.69L602.50 160.47L603.00 157.85L603.50 161.00L604.00 141.39L604.50 151.34L605.00 153.40L605.50 147.25L606.00 158.46L606.50 156.88L607.00 157.31L607.50 156.44L608.00 152.24L608.50 163.19L609.00 161.70L609.50 149.66L610.00 159.10L610.50 160.31L611.00 162.48L611.50 151.86L612.00 151.34L612.50 156.88L613.00 152.82L613.50 156.45L614.00 148.84L614.50 144.34L615.00 150.69L615.50 164.17L616.00 141.36L616.50 153.87L617.00 163.25L617.50 158.74L618.00 146.11L618.50 163.24L619.00 155.73L619.50 158.15L620.00 157.23L620.50 144.27L621.00 147.39L621.50 163.61L622.00 148.56L622.50 155.21L623.00 145.71" stroke="#0000ff"/>
<path d="M363.00 174.86L363.50 172.15L364.00 170.99L364.50 184.45L365.00 178.40L365.50 180.42L366.00 177.96L366.50 174.90L367.00 181.17L367.50 178.38L368.00 182.06L368.50 179.91L369.00 183.11L369.50 175.91L370.00 170.79L370.50 170.70L371.00 181.02L371.50 171.02L372.00 179.78L372.50 179.17L373.00 169.07L373.50 182.12L374.00 168.59L374.50 183.60L375.00 183.14L375.50 171.89L376.00 181.07L376.50 181.18L377.00 170.25L377.50 180.06L378.00 170.23L378.50 184.44L379.00 178.00L379.50 172.38L380.00 166.75L380.50 161.13L381.00 142.86L381.50 121.43L382.00 100.00L382.50 73.33L383.00 62.22L383.50 51.11L384.00 40.00L384.50 29.23L385.00 18.46L385.50 10.78L386.00 7.72L386.50 6.00L387.00 5.17L387.50 5.53L388.00 5.75L388.50 7.85L389.00 10.23L389.50 13.29L390.00 15.45L390.50 18.27L391.00 20.98L391.50 22.99L392.00 26.23L392.50 28.83L393.00 31.60L393.50 34.39L394.00 36.10L394.50 38.77L395.00 42.12L395.50 42.72L396.00 44.60L396.50 47.47L397.00 49.28L397.50 51.71L398.00 52.23L398.50 55.30L399.00 56.37L399.50 59.80L400.00 59.39L400.50 60.81L401.00 62.19L401.50 63.60L402.00 66.12L402.50 65.00L403.00 65.98L403.50 69.95L404.00 69.18L404.50 70.03L405.00 71.55L405.50 72.24L406.00 75.72L406.50 76.76L407.00 80.19L407.50 81.52L408.00 80.67L408.50 81.81L409.00 83.14L409.50 84.08L410.00 80.86L410.50 84.99L411.00 86.42L411.50 88.82L412.00 84.49L412.50 88.55L413.00 91.30L413.50 90.10L414.00 92.59L414.50 89.05L415.00 92.74L415.50 90.14L416.00 89.96L416.50 98.40L417.00 91.12L417.50 97.55L418.00 91.57L418.50 93.50L419.00 95.07L419.50 94.00L420.00 94.85L420.50 98.17L421.00 99.93L421.50 93.97L422.00 95.76L422.50 102.36L423.00 98.78L423.50 100.67L424.00 102.84L424.50 101.93L425.00 98.14L425.50 101.82L426.00 105.85L426.50 102.09L427.00 98.58L427.50 98.46L428.00 110.01L428.50 107.27L429.00 109.64L429.50 103.06L430.00 111.37L430.50 98.93L431.00 109.58L431.50 110.58L432.00 109.99L432.50 111.07L433.00 111.01L433.50 111.49L434.00 112.62L434.50 111.38L435.00 104.04L435.50 112.74L436.00 108.19L436.50 107.95L437.00 111.15L437.50 105.75L438.00 115.10L438.50 114.24L439.00 110.45L439.50 112.95L440.00 107.17L440.50 106.24L441.00 116.99L441.50 109.04L442.00 113.16L442.50 105.07L443.00 108.94L443.50 112.23L444.00 113.19L444.50 106.66L445.00 111.34L445.50 109.59L446.00 108.44L446.50 124.20L447.00 118.62L447.50 120.99L448.00 116.12L448.50 124.99L449.00 123.83L449.50 124.46L450.00 128.03L450.50 109.83L451.00 121.07L451.50 118.74L452.00 111.04L452.50 124.47L453.00 130.21L453.50 129.51L454.00 119.71L454.50 119.77L455.00 132.25L455.50 123.60L456.00 127.49L456.50 116.40L457.00 118.45L457.50 123.55L458.00 124.74L458.50 135.03L459.00 131.22L459.50 131.09L460.00 139.93L460.50 141.16L461.00 119.86L461.50 124.87L462.00 126.56L462.50 132.11L463.00 115.76L463.50 122.46L464.00 117.31L464.50 136.93L465.00 118.53L465.50 127.40L466.00 116.44L466.50 126.91L467.00 123.10L467.50 123.15L468.00 136.80L468.50 117.07L469.00 122.12L469.50 136.85L470.00 135.95L470.50 121.00L471.00 118.03L471.50 122.03L472.00 124.07L472.50 129.00L473.00 129.48L473.50 133.45L474.00 140.45L474.50 129.33L475.00 118.54L475.50 125.86L476.00 147.66L476.50 128.27L477.00 127.51L477.50 143.08L478.00 136.28L478.50 124.63L479.00 128.80L479.50 125.26L480.00 122.03L480.50 136.52L481.00 126.25L481.50 127.21L482.00 130.54L482.50 130.62L483.00 144.33L483.50 130.07L484.00 139.69L484.50 131.37L485.00 114.52L485.50 118.84L486.00 141.09L486.50 137.47L487.00 128.34L487.50 127.62L488.00 128.74L488.50 119.76L489.00 118.44L489.50 129.92L490.00 139.26L490.50 118.05L491.00 140.04L491.50 148.35L492.00 130.20L492.50 121.30L493.00 122.20L493.50 137.18L494.00 123.97L494.50 147.75L495.00 146.06L495.50 146.61L496.00 156.15L496.50 119.00L497.00 120.99L497.50 148.22L498.00 146.42L498.50 149.50L499.00 148.98L499.50 126.38L500.00 111.58L500.50 134.28L501.00 151.39L501.50 129.94L502.00 119.69L502.50 142.06L503.00 144.06L503.50 140.31L504.00 148.11L504.50 144.51L505.00 134.24L505.50 151.25L506.00 135.33L506.50 121.59L507.00 142.37L507.50 145.16L508.00 129.34L508.50 153.28L509.00 141.15L509.50 152.95L510.00 141.74L510.50 130.26L511.00 145.80L511.50 132.90L512.00 137.86L512.50 151.80L513.00 139.07L513.50 149.78L514.00 125.93L514.50 142.03L515.00 132.44L515.50 129.22L516.00 146.17L516.50 141.52L517.00 145.98L517.50 155.71L518.00 128.82L518.50 148.37L519.00 150.35L519.50 134.40L520.00 147.95L520.50 128.16L521.00 141.28L521.50 139.23L522.00 142.47L522.50 138.40L523.00 130.74L523.50 147.39L524.00 139.96L524.50 144.02L525.00 120.71L525.50 146.21L526.00 135.55L526.50 124.62L527.00 115.94L527.50 123.75L528.00 154.81L528.50 156.00L529.00 145.75L529.50 124.95L530.00 125.09L530.50 126.35L531.00 154.98L531.50 142.74L532.00 120.91L532.50 147.80L533.00 149.41L533.50 130.83L534.00 135.30L534.50 148.14L535.00 146.49L535.50 155.15L536.00 117.51L536.50 155.66L537.00 139.36L537.50 130.36L538.00 155.48L538.50 153.60L539.00 148.25L539.50 147.91L540.00 138.26L540.50 138.59L541.00 122.75L541.50 135.74L542.00 141.81L542.50 155.94L543.00 156.43L543.50 158.81L544.00 133.27L544.50 158.39L545.00 154.12L545.50 128.00L546.00 153.12L546.50 151.96L547.00 135.93L547.50 138.85L548.00 129.44L548.50 168.15L549.00 124.28L549.50 133.61L550.00 131.22L550.50 135.46L551.00 140.19L551.50 134.64L552.00 124.40L552.50 155.10L553.00 131.99L553.50 148.11L554.00 158.98L554.50 167.03L555.00 154.97L555.50 128.76L556.00 132.52L556.50 154.24L557.00 157.77L557.50 135.66L558.00 152.74L558.50 125.83L559.00 143.45L559.50 129.67L560.00 146.76L560.50 159.44L561.00 135.47L561.50 143.90L562.00 152.38L562.50 144.56L563.00 163.68L563.50 141.66L564.00 148.21L564.50 141.19L565.00 129.60L565.50 147.25L566.00 135.21L566.50 131.83L567.00 146.33L567.50 147.39L568.00 128.90L568.50 161.04L569.00 136.86L569.50 139.26L570.00 143.26L570.50 139.35L571.00 160.08L571.50 132.97L572.00 152.32L572.50 141.78L573.00 135.28L573.50 152.29L574.00 127.46L574.50 128.31L575.00 127.00L575.50 133.69L576.00 125.78L576.50 161.51L577.00 141.80L577.50 155.17L578.00 140.81L578.50 154.74L579.00 161.35L579.50 136.65L580.00 162.54L580.50 136.19L581.00 161.80L581.50 153.37L582.00 158.51L582.50 136.62L583.00 140.40L583.50 132.74L584.00 157.82L584.50 129.40L585.00 135.19L585.50 128.69L586.00 118.35L586.50 160.94L587.00 126.61L587.50 135.88L588.00 160.81L588.50 159.97L589.00 155.62L589.50 161.46L590.00 148.59L590.50 132.83L591.00 133.72L591.50 140.84L592.00 161.18L592.50 160.49L593.00 130.04L593.50 155.02L594.00 152.58L594.50 147.01L595.00 142.44L595.50 151.59L596.00 143.71L596.50 139.71L597.00 133.42L597.50 127.36L598.00 143.89L598.50 151.28L599.00 146.08L599.50 131.73L600.00 142.75L600.50 133.33L601.00 139.45L601.50 146.03L602.00 154.49L602.50 164.57L603.00 148.34L603.50 137.98L604.00 144.82L604.50 140.60L605.00 170.65L605.50 160.96L606.00 150.28L606.50 151.67L607.00 138.65L607.50 156.42L608.00 160.80L608.50 136.35L609.00 132.79L609.50 156.92L610.00 157.04L610.50 141.16L611.00 130.69L611.50 126.77L612.00 122.22L612.50 141.20L613.00 127.82L613.50 136.36L614.00 142.10L614.50 162.80L615.00 147.81L615.50 137.46L616.00 149.47L616.50 136.57L617.00 142.85L617.50 135.11L618.00 160.13L618.50 133.65L619.00 127.65L619.50 141.48L620.00 129.14L620.50 142.75L621.00 149.21L621.50 128.01L622.00 148.55L622.50 130.90L623.00 134.02" stroke="#ff00ff"/>
<path d="M366 196V174.5" stroke="#ff0000" stroke-width="1.4"/>
<path d="M590.0 150L590.5 214L591.0 150" stroke="#ff00ff" stroke-width="1.1" fill="none"/>
<path d="M611.5 150L612 214L612.5 150" stroke="#ff00ff" stroke-width="1.1" fill="none"/>
<path d="M616.2 150L616.7 214L617.2 150" stroke="#ff00ff" stroke-width="1.1" fill="none"/>
</g>
<g stroke="#222" stroke-width="1.25" fill="none">
<rect x="363" y="2" width="259.7" height="211.5"/>
<path d="M381.00 213.2V209.2"/>
<path d="M411.30 213.2V210.7"/>
<path d="M441.60 213.2V209.2"/>
<path d="M471.90 213.2V210.7"/>
<path d="M502.20 213.2V209.2"/>
<path d="M532.50 213.2V210.7"/>
<path d="M562.80 213.2V209.2"/>
<path d="M593.10 213.2V210.7"/>
<path d="M623.40 213.2V209.2"/>
<path d="M363 3.50H367"/>
<path d="M363 45.30H365.2"/>
<path d="M363 34.77H365.2"/>
<path d="M363 27.30H365.2"/>
<path d="M363 21.50H365.2"/>
<path d="M363 16.77H365.2"/>
<path d="M363 12.76H365.2"/>
<path d="M363 9.30H365.2"/>
<path d="M363 6.24H365.2"/>
<path d="M363 63.30H367"/>
<path d="M363 105.10H365.2"/>
<path d="M363 94.57H365.2"/>
<path d="M363 87.10H365.2"/>
<path d="M363 81.30H365.2"/>
<path d="M363 76.57H365.2"/>
<path d="M363 72.56H365.2"/>
<path d="M363 69.10H365.2"/>
<path d="M363 66.04H365.2"/>
<path d="M363 123.10H367"/>
<path d="M363 164.90H365.2"/>
<path d="M363 154.37H365.2"/>
<path d="M363 146.90H365.2"/>
<path d="M363 141.10H365.2"/>
<path d="M363 136.37H365.2"/>
<path d="M363 132.36H365.2"/>
<path d="M363 128.90H365.2"/>
<path d="M363 125.84H365.2"/>
<path d="M363 182.90H367"/>
<path d="M363 206.70H365.2"/>
<path d="M363 200.90H365.2"/>
<path d="M363 196.17H365.2"/>
<path d="M363 192.16H365.2"/>
<path d="M363 188.70H365.2"/>
<path d="M363 185.64H365.2"/>
</g>
<path d="M484 12.50H506.5" stroke="#000000" stroke-width="1.0"/>
<text x="509" y="16.10" style="font-family:'Liberation Serif',serif;font-weight:bold;font-size:11px;letter-spacing:0.32px">Decay curve@ <tspan style="font-size:12px;letter-spacing:0.9px">511</tspan><tspan dx="0.6">nm</tspan></text>
<path d="M484 26.57H506.5" stroke="#ff0000" stroke-width="1.0"/>
<text x="509" y="30.17" textLength="110.3" lengthAdjust="spacing" style="font-family:'Liberation Serif',serif;font-weight:bold;font-size:11px">Decay curve@ 572 nm</text>
<path d="M484 40.64H506.5" stroke="#0000ff" stroke-width="1.0"/>
<text x="509" y="44.24" textLength="110.3" lengthAdjust="spacing" style="font-family:'Liberation Serif',serif;font-weight:bold;font-size:11px">Decay curve@ 693 nm</text>
<path d="M484 54.71H506.5" stroke="#ff00ff" stroke-width="1.0"/>
<text x="509" y="58.31" textLength="110.3" lengthAdjust="spacing" style="font-family:'Liberation Serif',serif;font-weight:bold;font-size:11px">Decay curve@ 768 nm</text>
<text x="381.00" y="230.8" text-anchor="middle" style="font-family:'Liberation Serif',serif;font-weight:bold;font-size:16px">0</text>
<text x="441.60" y="230.8" text-anchor="middle" style="font-family:'Liberation Serif',serif;font-weight:bold;font-size:16px">10</text>
<text x="502.20" y="230.8" text-anchor="middle" style="font-family:'Liberation Serif',serif;font-weight:bold;font-size:16px">20</text>
<text x="562.80" y="230.8" text-anchor="middle" style="font-family:'Liberation Serif',serif;font-weight:bold;font-size:16px">30</text>
<text x="623.40" y="230.8" text-anchor="middle" style="font-family:'Liberation Serif',serif;font-weight:bold;font-size:16px">40</text>
<text x="460" y="250.5" textLength="64.8" lengthAdjust="spacingAndGlyphs" style="font-family:'Liberation Serif',serif;font-weight:bold;font-size:16px">Time (ns)</text>
<text transform="translate(345,95.7) rotate(-90)" text-anchor="middle" style="font-family:'Liberation Serif',serif;font-weight:bold;font-size:16px">Intensity (cps)</text>
<text x="395.9" y="24.5" style="font-family:'Liberation Serif',serif;font-weight:bold;font-size:21px">(b)</text>
</svg></body></html>
